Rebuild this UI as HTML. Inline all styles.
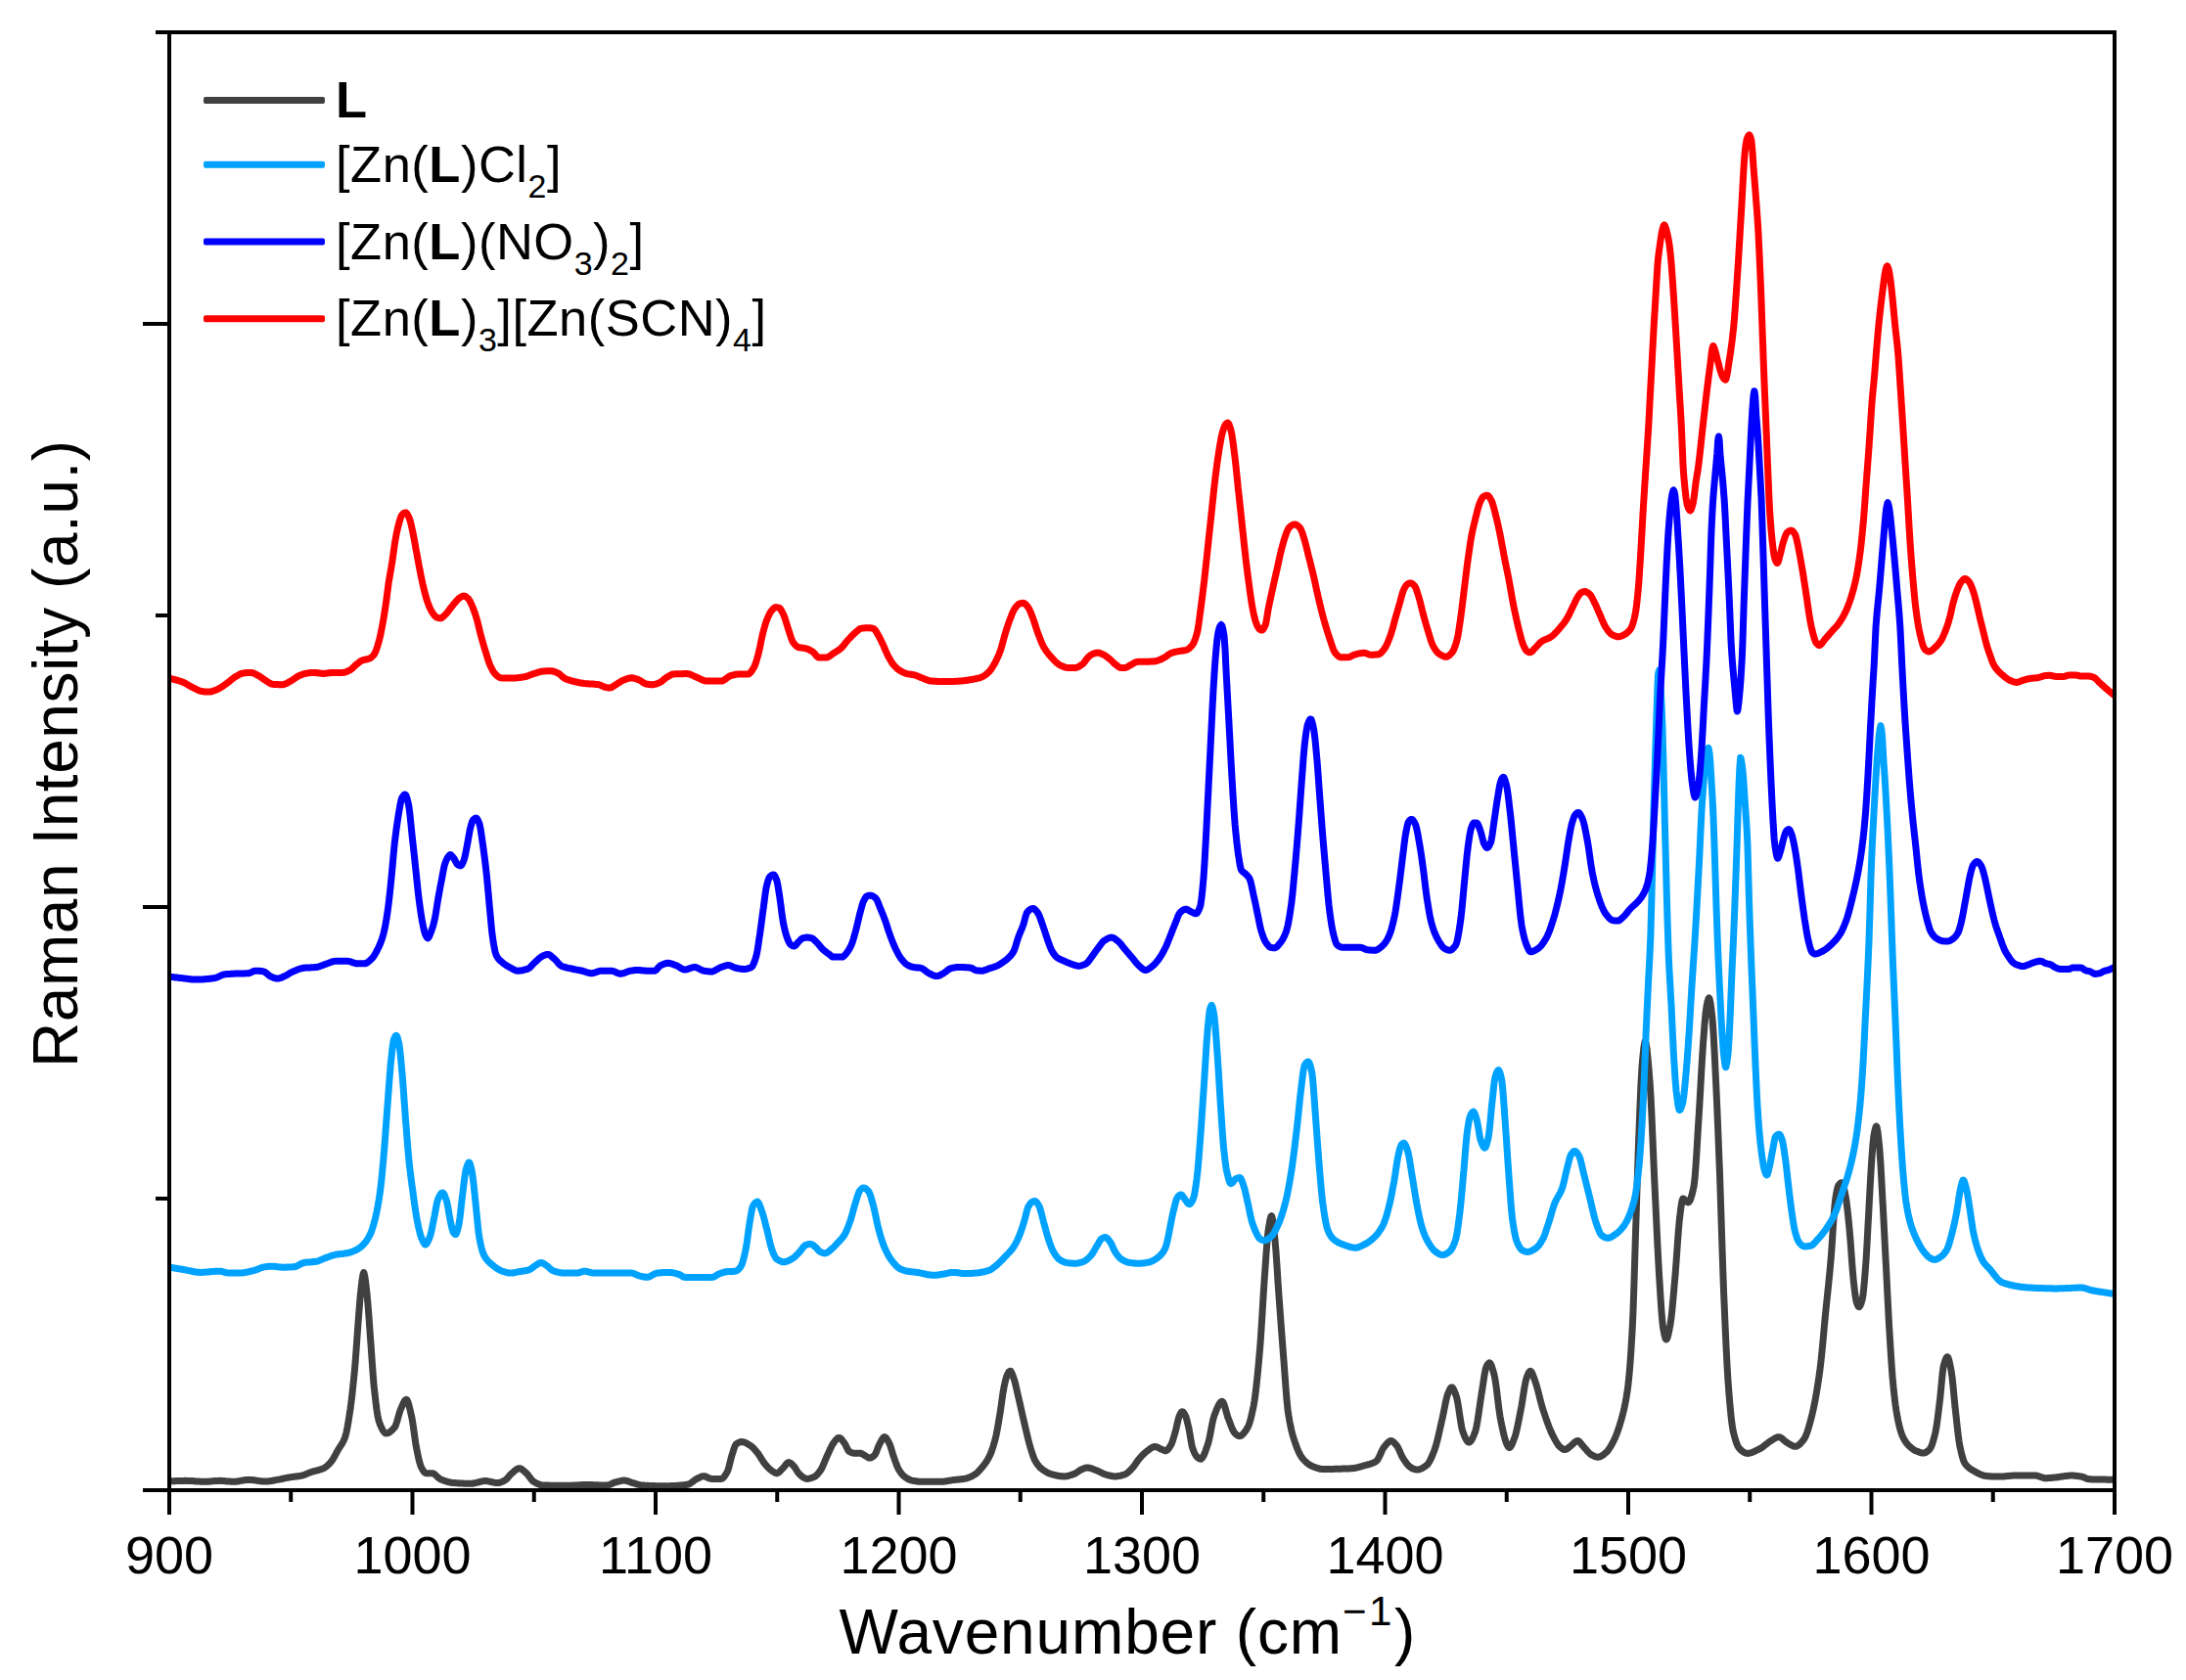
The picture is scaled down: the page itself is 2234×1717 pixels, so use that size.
<!DOCTYPE html>
<html><head><meta charset="utf-8"><title>Raman spectra</title>
<style>html,body{margin:0;padding:0;background:#fff}svg{display:block}</style></head>
<body>
<svg width="2234" height="1717" viewBox="0 0 2234 1717">
<rect width="2234" height="1717" fill="#fff"/>
<defs><clipPath id="pc"><rect x="173.0" y="33.0" width="1988.0" height="1490.0"/></clipPath></defs>
<g clip-path="url(#pc)" fill="none" stroke-linejoin="round" stroke-linecap="butt">
<path d="M173.0,1513.9 174.0,1513.9 174.8,1513.8 175.0,1513.8 176.0,1513.8 177.0,1513.7 178.0,1513.7 179.0,1513.7 180.0,1513.6 181.0,1513.6 182.0,1513.5 183.0,1513.5 184.0,1513.5 185.0,1513.4 186.0,1513.4 187.0,1513.4 188.0,1513.4 189.0,1513.3 189.6,1513.3 190.0,1513.3 191.0,1513.4 192.0,1513.4 193.0,1513.4 194.0,1513.5 195.0,1513.5 196.0,1513.6 197.0,1513.6 198.0,1513.7 199.0,1513.8 200.0,1513.9 201.0,1513.9 202.0,1514.0 203.0,1514.1 204.0,1514.1 205.0,1514.2 206.0,1514.3 207.0,1514.3 208.0,1514.3 209.0,1514.3 209.4,1514.3 210.0,1514.3 211.0,1514.3 212.0,1514.2 213.0,1514.2 214.0,1514.1 215.0,1514.0 216.0,1513.9 217.0,1513.8 218.0,1513.7 219.0,1513.6 220.0,1513.5 221.0,1513.5 222.0,1513.4 223.0,1513.4 224.0,1513.3 224.2,1513.3 225.0,1513.3 226.0,1513.4 227.0,1513.4 228.0,1513.5 229.0,1513.6 230.0,1513.7 231.0,1513.8 232.0,1513.9 233.0,1514.0 234.0,1514.1 235.0,1514.1 236.0,1514.2 237.0,1514.3 238.0,1514.3 239.0,1514.3 239.1,1514.3 240.0,1514.3 241.0,1514.2 242.0,1514.1 243.0,1514.0 244.0,1513.8 245.0,1513.6 246.0,1513.4 247.0,1513.2 248.0,1513.0 249.0,1512.9 250.0,1512.7 251.0,1512.5 252.0,1512.4 253.0,1512.4 253.9,1512.3 254.0,1512.4 255.0,1512.4 256.0,1512.4 257.0,1512.5 258.0,1512.6 259.0,1512.7 260.0,1512.8 261.0,1513.0 262.0,1513.1 263.0,1513.3 264.0,1513.4 265.0,1513.6 266.0,1513.7 267.0,1513.8 268.0,1513.9 269.0,1514.0 270.0,1514.1 271.0,1514.1 271.2,1514.1 272.0,1514.1 273.0,1514.0 274.0,1513.9 275.0,1513.8 276.0,1513.7 277.0,1513.5 278.0,1513.4 279.0,1513.2 280.0,1513.0 281.0,1512.8 282.0,1512.6 283.0,1512.4 283.5,1512.3 284.0,1512.3 285.0,1512.1 286.0,1511.9 287.0,1511.7 288.0,1511.5 289.0,1511.3 290.0,1511.0 291.0,1510.8 292.0,1510.6 293.0,1510.4 294.0,1510.2 295.0,1510.0 295.9,1509.9 296.0,1509.9 297.0,1509.7 298.0,1509.6 299.0,1509.4 300.0,1509.3 301.0,1509.2 302.0,1509.1 303.0,1509.0 304.0,1508.8 305.0,1508.7 306.0,1508.6 307.0,1508.4 308.0,1508.2 308.2,1508.2 309.0,1508.0 310.0,1507.7 311.0,1507.3 312.0,1506.9 313.0,1506.5 314.0,1506.1 315.0,1505.7 316.0,1505.2 317.0,1504.8 318.0,1504.5 318.1,1504.5 319.0,1504.2 320.0,1503.9 321.0,1503.6 322.0,1503.3 323.0,1503.1 324.0,1502.9 325.0,1502.6 326.0,1502.3 327.0,1502.0 328.0,1501.7 329.0,1501.3 330.0,1500.9 330.4,1500.7 331.0,1500.5 332.0,1499.9 333.0,1499.2 334.0,1498.4 335.0,1497.5 336.0,1496.5 337.0,1495.5 337.9,1494.6 338.0,1494.4 339.0,1493.1 340.0,1491.7 341.0,1490.0 342.0,1488.2 343.0,1486.4 344.0,1484.5 345.0,1482.7 345.3,1482.2 346.0,1481.0 347.0,1479.4 348.0,1477.9 349.0,1476.4 350.0,1474.7 351.0,1472.7 352.0,1470.5 352.7,1468.6 353.0,1467.7 354.0,1463.8 355.0,1458.9 356.0,1453.1 357.0,1446.8 357.6,1442.7 358.0,1440.2 359.0,1432.6 360.0,1424.0 361.0,1414.5 362.0,1404.3 362.6,1398.2 363.0,1393.3 364.0,1380.2 365.0,1366.1 366.0,1352.3 366.3,1348.8 367.0,1339.3 368.0,1326.7 368.8,1319.2 369.0,1317.1 370.0,1308.6 371.0,1302.3 371.7,1300.6 372.0,1300.9 373.0,1305.4 374.0,1313.4 374.9,1321.6 375.0,1322.3 376.0,1333.0 377.0,1346.1 378.0,1360.1 378.6,1368.6 379.0,1373.5 380.0,1388.0 381.0,1402.3 382.0,1414.7 382.3,1418.0 383.0,1424.2 384.0,1432.9 385.0,1440.8 386.0,1447.2 387.0,1451.7 387.3,1452.6 388.0,1454.6 389.0,1457.1 390.0,1459.4 391.0,1461.4 392.0,1463.0 393.0,1464.1 394.0,1464.8 394.7,1464.9 395.0,1464.9 396.0,1464.7 397.0,1464.4 398.0,1463.8 399.0,1463.1 400.0,1462.3 401.0,1461.3 402.0,1460.3 403.0,1459.1 403.3,1458.8 404.0,1457.7 405.0,1455.1 406.0,1451.8 407.0,1448.1 408.0,1444.6 409.0,1441.5 409.5,1440.2 410.0,1439.1 411.0,1436.8 412.0,1434.5 413.0,1432.5 414.0,1431.0 415.0,1430.4 415.2,1430.3 416.0,1430.9 417.0,1433.1 418.0,1436.4 419.0,1440.5 420.0,1444.9 420.6,1447.6 421.0,1449.4 422.0,1455.5 423.0,1462.6 424.0,1470.0 425.0,1476.7 425.6,1479.7 426.0,1481.9 427.0,1486.8 428.0,1491.4 429.0,1495.3 430.0,1498.4 430.5,1499.5 431.0,1500.5 432.0,1502.3 433.0,1503.8 434.0,1505.0 435.0,1505.6 435.4,1505.7 436.0,1505.7 437.0,1505.7 438.0,1505.7 439.0,1505.7 440.0,1505.7 441.0,1505.7 441.6,1505.7 442.0,1505.7 443.0,1506.0 444.0,1506.6 445.0,1507.4 446.0,1508.4 447.0,1509.4 448.0,1510.3 449.0,1511.1 450.0,1511.7 450.3,1511.9 451.0,1512.2 452.0,1512.5 453.0,1512.9 454.0,1513.3 455.0,1513.6 456.0,1514.0 457.0,1514.3 458.0,1514.5 459.0,1514.8 460.0,1515.0 461.0,1515.2 462.0,1515.4 463.0,1515.5 463.9,1515.6 464.0,1515.6 465.0,1515.6 466.0,1515.7 467.0,1515.8 468.0,1515.8 469.0,1515.9 470.0,1516.0 471.0,1516.0 472.0,1516.1 473.0,1516.1 474.0,1516.2 475.0,1516.2 476.0,1516.2 477.0,1516.3 478.0,1516.3 479.0,1516.3 480.0,1516.3 481.0,1516.3 481.1,1516.3 482.0,1516.3 483.0,1516.2 484.0,1516.0 485.0,1515.8 486.0,1515.6 487.0,1515.4 488.0,1515.1 489.0,1514.8 490.0,1514.6 491.0,1514.3 492.0,1514.1 493.0,1513.9 494.0,1513.7 495.0,1513.6 496.0,1513.6 496.0,1513.6 497.0,1513.6 498.0,1513.7 499.0,1513.9 500.0,1514.1 501.0,1514.3 502.0,1514.5 503.0,1514.8 504.0,1515.0 505.0,1515.2 506.0,1515.4 507.0,1515.5 508.0,1515.6 508.3,1515.6 509.0,1515.5 510.0,1515.4 511.0,1515.1 512.0,1514.8 513.0,1514.4 514.0,1513.9 515.0,1513.5 515.7,1513.1 516.0,1512.9 517.0,1512.2 518.0,1511.3 519.0,1510.2 520.0,1509.0 521.0,1507.8 522.0,1506.7 523.0,1505.8 523.1,1505.7 524.0,1505.0 525.0,1504.1 526.0,1503.2 527.0,1502.3 528.0,1501.6 529.0,1501.1 530.0,1500.8 530.5,1500.7 531.0,1500.8 532.0,1501.0 533.0,1501.5 534.0,1502.2 535.0,1503.0 536.0,1503.9 537.0,1504.8 538.0,1505.7 538.0,1505.7 539.0,1506.7 540.0,1508.0 541.0,1509.3 542.0,1510.7 543.0,1512.0 544.0,1513.2 545.0,1514.1 545.4,1514.3 546.0,1514.7 547.0,1515.2 548.0,1515.8 549.0,1516.3 550.0,1516.7 551.0,1517.1 552.0,1517.5 553.0,1517.7 554.0,1517.9 555.0,1518.0 555.3,1518.0 556.0,1518.0 557.0,1518.1 558.0,1518.1 559.0,1518.1 560.0,1518.1 561.0,1518.1 562.0,1518.2 563.0,1518.2 564.0,1518.2 565.0,1518.2 566.0,1518.2 567.0,1518.2 568.0,1518.2 569.0,1518.2 570.0,1518.2 571.0,1518.3 572.0,1518.3 573.0,1518.3 574.0,1518.3 575.0,1518.3 576.0,1518.3 577.0,1518.3 578.0,1518.3 579.0,1518.3 580.0,1518.3 580.0,1518.3 581.0,1518.3 582.0,1518.3 583.0,1518.2 584.0,1518.2 585.0,1518.2 586.0,1518.1 587.0,1518.1 588.0,1518.0 589.0,1518.0 590.0,1517.9 591.0,1517.8 592.0,1517.8 593.0,1517.7 594.0,1517.7 595.0,1517.6 596.0,1517.6 597.0,1517.6 598.0,1517.6 599.0,1517.5 599.7,1517.5 600.0,1517.5 601.0,1517.5 602.0,1517.6 603.0,1517.6 604.0,1517.6 605.0,1517.6 606.0,1517.7 607.0,1517.7 608.0,1517.7 609.0,1517.8 610.0,1517.8 611.0,1517.8 612.0,1517.9 613.0,1517.9 614.0,1517.9 615.0,1518.0 616.0,1518.0 617.0,1518.0 618.0,1518.0 619.0,1518.0 619.5,1518.0 620.0,1518.0 621.0,1517.9 622.0,1517.6 623.0,1517.3 624.0,1516.9 625.0,1516.5 626.0,1516.0 627.0,1515.6 628.0,1515.2 629.0,1514.9 629.4,1514.8 630.0,1514.7 631.0,1514.4 632.0,1514.1 633.0,1513.9 634.0,1513.6 635.0,1513.4 636.0,1513.2 637.0,1513.1 638.0,1513.1 638.0,1513.1 639.0,1513.2 640.0,1513.3 641.0,1513.6 642.0,1513.9 643.0,1514.3 644.0,1514.7 645.0,1515.0 646.0,1515.4 646.7,1515.6 647.0,1515.7 648.0,1515.9 649.0,1516.2 650.0,1516.6 651.0,1516.9 652.0,1517.2 653.0,1517.4 654.0,1517.7 655.0,1517.9 656.0,1518.0 656.5,1518.0 657.0,1518.1 658.0,1518.1 659.0,1518.2 660.0,1518.2 661.0,1518.3 662.0,1518.3 663.0,1518.4 664.0,1518.4 665.0,1518.5 666.0,1518.5 667.0,1518.6 668.0,1518.6 669.0,1518.6 670.0,1518.7 671.0,1518.7 672.0,1518.7 673.0,1518.7 674.0,1518.7 675.0,1518.7 676.0,1518.8 677.0,1518.8 678.0,1518.8 678.8,1518.8 679.0,1518.8 680.0,1518.8 681.0,1518.8 682.0,1518.7 683.0,1518.7 684.0,1518.7 685.0,1518.7 686.0,1518.6 687.0,1518.6 688.0,1518.5 689.0,1518.5 690.0,1518.4 691.0,1518.4 692.0,1518.3 693.0,1518.2 694.0,1518.2 695.0,1518.1 696.0,1518.0 697.0,1517.9 698.0,1517.8 699.0,1517.7 700.0,1517.6 701.0,1517.5 702.0,1517.3 702.4,1517.3 703.0,1517.2 704.0,1516.8 705.0,1516.3 706.0,1515.7 707.0,1515.0 708.0,1514.2 709.0,1513.4 710.0,1512.7 711.0,1512.0 712.0,1511.5 712.2,1511.4 713.0,1511.0 714.0,1510.5 715.0,1509.9 716.0,1509.5 717.0,1509.1 718.0,1508.8 719.0,1508.7 719.1,1508.7 720.0,1508.7 721.0,1509.0 722.0,1509.5 723.0,1510.0 724.0,1510.5 725.0,1510.9 726.0,1511.2 727.0,1511.4 727.1,1511.4 728.0,1511.4 729.0,1511.4 730.0,1511.4 731.0,1511.4 732.0,1511.4 733.0,1511.4 734.0,1511.4 735.0,1511.4 736.0,1511.4 736.9,1511.4 737.0,1511.4 738.0,1511.1 739.0,1510.4 740.0,1509.3 741.0,1507.9 742.0,1506.3 743.0,1504.6 743.1,1504.5 744.0,1502.3 745.0,1498.9 746.0,1494.9 747.0,1490.8 748.0,1487.3 748.0,1487.2 749.0,1484.1 750.0,1480.9 751.0,1478.1 752.0,1476.3 752.2,1476.0 753.0,1475.5 754.0,1474.8 755.0,1474.3 756.0,1473.9 757.0,1473.6 757.9,1473.6 758.0,1473.6 759.0,1473.7 760.0,1473.9 761.0,1474.2 762.0,1474.6 763.0,1475.1 764.0,1475.7 765.0,1476.3 766.0,1476.9 766.6,1477.3 767.0,1477.5 768.0,1478.3 769.0,1479.2 770.0,1480.1 771.0,1481.2 772.0,1482.3 773.0,1483.5 774.0,1484.7 774.0,1484.7 775.0,1486.0 776.0,1487.5 777.0,1489.1 778.0,1490.7 779.0,1492.4 780.0,1493.9 781.0,1495.3 781.4,1495.8 782.0,1496.5 783.0,1497.7 784.0,1498.8 785.0,1499.9 786.0,1500.9 787.0,1501.8 788.0,1502.6 788.8,1503.2 789.0,1503.3 790.0,1504.0 791.0,1504.7 792.0,1505.2 793.0,1505.6 793.8,1505.7 794.0,1505.7 795.0,1505.3 796.0,1504.7 797.0,1503.7 798.0,1502.7 799.0,1501.6 799.9,1500.7 800.0,1500.7 801.0,1499.6 802.0,1498.3 803.0,1497.0 804.0,1495.8 805.0,1495.0 806.0,1494.6 806.1,1494.6 807.0,1494.8 808.0,1495.3 809.0,1496.2 810.0,1497.2 811.0,1498.2 811.0,1498.3 812.0,1499.4 813.0,1500.8 814.0,1502.5 815.0,1504.1 816.0,1505.6 817.0,1506.7 817.2,1506.9 818.0,1507.6 819.0,1508.4 820.0,1509.2 821.0,1510.0 822.0,1510.6 823.0,1511.0 824.0,1511.3 824.6,1511.4 825.0,1511.4 826.0,1511.3 827.0,1511.1 828.0,1510.9 829.0,1510.6 830.0,1510.2 831.0,1509.8 832.0,1509.4 832.0,1509.4 833.0,1508.9 834.0,1508.1 835.0,1507.2 836.0,1506.0 837.0,1504.8 838.0,1503.5 838.2,1503.2 839.0,1502.0 840.0,1500.2 841.0,1498.0 842.0,1495.7 843.0,1493.2 844.0,1490.8 845.0,1488.5 845.6,1487.2 846.0,1486.4 847.0,1484.2 848.0,1481.9 849.0,1479.8 850.0,1477.7 851.0,1476.0 851.8,1474.8 852.0,1474.6 853.0,1473.2 854.0,1471.9 855.0,1470.8 856.0,1469.9 857.0,1469.4 857.5,1469.4 858.0,1469.4 859.0,1470.0 860.0,1471.0 861.0,1472.2 862.0,1473.6 862.9,1474.8 863.0,1474.9 864.0,1476.6 865.0,1478.7 866.0,1480.8 867.0,1482.6 867.9,1483.5 868.0,1483.5 869.0,1484.1 870.0,1484.5 871.0,1484.9 872.0,1485.1 872.8,1485.2 873.0,1485.2 874.0,1485.2 875.0,1485.2 876.0,1485.2 877.0,1485.2 878.0,1485.2 879.0,1485.2 879.0,1485.2 880.0,1485.3 881.0,1485.8 882.0,1486.4 883.0,1487.0 884.0,1487.7 885.0,1488.3 885.2,1488.4 886.0,1488.9 887.0,1489.5 888.0,1490.0 888.9,1490.1 889.0,1490.1 890.0,1489.9 891.0,1489.4 892.0,1488.7 893.0,1487.9 893.8,1487.2 894.0,1486.9 895.0,1485.2 896.0,1482.8 897.0,1480.1 898.0,1477.6 898.8,1476.0 899.0,1475.6 900.0,1473.7 901.0,1471.8 902.0,1470.2 903.0,1469.0 903.9,1468.6 904.0,1468.6 905.0,1469.1 906.0,1470.2 907.0,1471.8 908.0,1473.6 908.6,1474.8 909.0,1475.5 910.0,1478.1 911.0,1481.3 912.0,1484.7 913.0,1488.0 913.6,1489.6 914.0,1490.8 915.0,1493.6 916.0,1496.4 917.0,1498.9 918.0,1501.1 918.5,1502.0 919.0,1502.8 920.0,1504.3 921.0,1505.7 922.0,1506.9 923.0,1508.0 924.0,1508.9 924.7,1509.4 925.0,1509.6 926.0,1510.3 927.0,1510.9 928.0,1511.5 929.0,1512.0 930.0,1512.5 931.0,1512.8 932.0,1513.1 932.1,1513.1 933.0,1513.3 934.0,1513.5 935.0,1513.6 936.0,1513.8 937.0,1514.0 938.0,1514.1 939.0,1514.2 940.0,1514.3 941.0,1514.3 942.0,1514.3 942.0,1514.3 943.0,1514.3 944.0,1514.3 945.0,1514.3 946.0,1514.3 947.0,1514.3 948.0,1514.3 949.0,1514.3 950.0,1514.3 951.0,1514.3 952.0,1514.3 953.0,1514.3 954.0,1514.3 955.0,1514.3 956.0,1514.3 957.0,1514.3 958.0,1514.3 959.0,1514.3 960.0,1514.3 961.0,1514.3 961.7,1514.3 962.0,1514.3 963.0,1514.3 964.0,1514.2 965.0,1514.1 966.0,1514.0 967.0,1513.8 968.0,1513.6 969.0,1513.5 970.0,1513.3 971.0,1513.1 972.0,1512.9 973.0,1512.8 974.0,1512.6 974.1,1512.6 975.0,1512.5 976.0,1512.4 977.0,1512.3 978.0,1512.2 979.0,1512.1 980.0,1512.0 981.0,1511.9 982.0,1511.8 983.0,1511.7 984.0,1511.5 985.0,1511.4 986.0,1511.2 986.4,1511.1 987.0,1511.0 988.0,1510.8 989.0,1510.5 990.0,1510.1 991.0,1509.7 992.0,1509.3 993.0,1508.8 994.0,1508.3 995.0,1507.7 996.0,1507.1 996.3,1506.9 997.0,1506.5 998.0,1505.7 999.0,1504.8 1000.0,1503.8 1001.0,1502.7 1002.0,1501.6 1003.0,1500.4 1003.7,1499.5 1004.0,1499.2 1005.0,1498.0 1006.0,1496.7 1007.0,1495.3 1008.0,1493.9 1009.0,1492.3 1010.0,1490.6 1011.0,1488.7 1011.1,1488.4 1012.0,1486.6 1013.0,1484.1 1014.0,1481.3 1015.0,1478.2 1016.0,1474.8 1017.0,1471.1 1017.3,1469.9 1018.0,1467.0 1019.0,1462.0 1020.0,1456.4 1021.0,1450.4 1022.0,1444.3 1022.3,1442.7 1023.0,1437.8 1024.0,1430.6 1025.0,1423.5 1026.0,1418.0 1026.0,1417.8 1027.0,1413.2 1028.0,1409.1 1029.0,1405.9 1029.7,1404.4 1030.0,1403.8 1031.0,1402.2 1032.0,1401.3 1032.4,1401.2 1033.0,1401.5 1034.0,1403.2 1035.0,1405.8 1035.8,1408.1 1036.0,1408.5 1037.0,1411.7 1038.0,1415.7 1039.0,1420.0 1040.0,1424.5 1040.8,1427.9 1041.0,1428.8 1042.0,1433.1 1043.0,1437.5 1044.0,1442.0 1045.0,1446.5 1046.0,1450.9 1047.0,1455.0 1047.0,1455.2 1048.0,1459.4 1049.0,1463.7 1050.0,1467.9 1051.0,1472.0 1052.0,1475.8 1053.0,1479.3 1053.1,1479.7 1054.0,1482.5 1055.0,1485.7 1056.0,1488.6 1057.0,1491.2 1058.0,1493.2 1058.1,1493.3 1059.0,1494.8 1060.0,1496.3 1061.0,1497.6 1062.0,1498.8 1063.0,1499.9 1064.0,1500.8 1065.0,1501.6 1065.5,1502.0 1066.0,1502.3 1067.0,1503.0 1068.0,1503.7 1069.0,1504.2 1070.0,1504.8 1071.0,1505.3 1072.0,1505.8 1073.0,1506.2 1074.0,1506.5 1075.0,1506.8 1075.4,1506.9 1076.0,1507.1 1077.0,1507.3 1078.0,1507.5 1079.0,1507.8 1080.0,1508.0 1081.0,1508.2 1082.0,1508.4 1083.0,1508.5 1084.0,1508.7 1085.0,1508.8 1086.0,1508.8 1087.0,1508.9 1087.7,1508.9 1088.0,1508.9 1089.0,1508.8 1090.0,1508.7 1091.0,1508.5 1092.0,1508.3 1093.0,1508.0 1094.0,1507.7 1095.0,1507.4 1096.0,1507.0 1097.0,1506.6 1097.6,1506.4 1098.0,1506.3 1099.0,1505.8 1100.0,1505.2 1101.0,1504.5 1102.0,1503.8 1103.0,1503.1 1104.0,1502.5 1105.0,1502.0 1105.0,1502.0 1106.0,1501.6 1107.0,1501.1 1108.0,1500.7 1109.0,1500.4 1110.0,1500.1 1111.0,1500.0 1111.2,1500.0 1112.0,1500.0 1113.0,1500.2 1114.0,1500.4 1115.0,1500.7 1116.0,1501.0 1117.0,1501.4 1118.0,1501.8 1119.0,1502.2 1119.8,1502.5 1120.0,1502.5 1121.0,1502.9 1122.0,1503.4 1123.0,1503.9 1124.0,1504.4 1125.0,1504.9 1126.0,1505.4 1127.0,1505.9 1128.0,1506.3 1129.0,1506.7 1129.7,1506.9 1130.0,1507.0 1131.0,1507.3 1132.0,1507.6 1133.0,1507.8 1134.0,1508.1 1135.0,1508.3 1136.0,1508.5 1137.0,1508.7 1138.0,1508.8 1139.0,1508.9 1139.6,1508.9 1140.0,1508.9 1141.0,1508.8 1142.0,1508.7 1143.0,1508.6 1144.0,1508.4 1145.0,1508.2 1146.0,1508.0 1147.0,1507.7 1148.0,1507.4 1149.0,1507.1 1149.5,1506.9 1150.0,1506.7 1151.0,1506.2 1152.0,1505.5 1153.0,1504.6 1154.0,1503.7 1155.0,1502.7 1156.0,1501.7 1156.9,1500.7 1157.0,1500.6 1158.0,1499.5 1159.0,1498.2 1160.0,1496.8 1161.0,1495.3 1162.0,1493.9 1163.0,1492.5 1164.0,1491.2 1164.3,1490.9 1165.0,1490.1 1166.0,1488.9 1167.0,1487.8 1168.0,1486.8 1169.0,1485.8 1170.0,1484.9 1171.0,1484.0 1171.7,1483.5 1172.0,1483.2 1173.0,1482.5 1174.0,1481.7 1175.0,1480.9 1176.0,1480.2 1177.0,1479.6 1178.0,1479.1 1179.0,1478.7 1180.0,1478.5 1180.4,1478.5 1181.0,1478.6 1182.0,1478.8 1183.0,1479.2 1184.0,1479.7 1185.0,1480.3 1186.0,1480.8 1186.5,1481.0 1187.0,1481.2 1188.0,1481.6 1189.0,1482.1 1190.0,1482.5 1191.0,1482.7 1191.5,1482.7 1192.0,1482.6 1193.0,1482.0 1194.0,1480.9 1195.0,1479.5 1196.0,1477.9 1196.4,1477.3 1197.0,1476.2 1198.0,1473.7 1199.0,1470.6 1200.0,1467.2 1201.0,1463.7 1201.4,1462.5 1202.0,1460.0 1203.0,1455.5 1204.0,1451.1 1205.0,1447.8 1205.1,1447.6 1206.0,1445.5 1207.0,1443.5 1208.0,1442.7 1208.0,1442.7 1209.0,1443.1 1210.0,1444.3 1211.0,1446.0 1211.2,1446.4 1212.0,1448.1 1213.0,1451.6 1214.0,1455.8 1215.0,1460.0 1215.0,1460.2 1216.0,1465.6 1217.0,1471.7 1218.0,1477.2 1218.7,1479.7 1219.0,1480.7 1220.0,1483.3 1221.0,1485.6 1222.0,1487.4 1223.0,1488.7 1223.5,1489.2 1224.0,1489.6 1225.0,1490.4 1226.0,1490.9 1227.0,1491.2 1227.1,1491.2 1228.0,1490.8 1229.0,1489.6 1230.0,1487.8 1231.0,1485.5 1232.0,1482.9 1233.0,1480.0 1234.0,1477.1 1234.5,1475.7 1235.0,1474.0 1236.0,1469.7 1237.0,1464.7 1238.0,1459.3 1239.0,1454.2 1240.0,1449.7 1240.9,1446.8 1241.0,1446.5 1242.0,1443.9 1243.0,1441.3 1244.0,1438.9 1245.0,1436.8 1246.0,1434.9 1247.0,1433.5 1248.0,1432.6 1248.9,1432.3 1249.0,1432.3 1250.0,1433.3 1251.0,1435.5 1252.0,1438.7 1253.0,1442.3 1254.0,1445.9 1255.0,1449.1 1255.4,1450.0 1256.0,1451.6 1257.0,1454.3 1258.0,1457.0 1259.0,1459.5 1260.0,1461.7 1261.0,1463.5 1261.8,1464.5 1262.0,1464.7 1263.0,1465.7 1264.0,1466.5 1265.0,1467.2 1266.0,1467.6 1266.6,1467.7 1267.0,1467.7 1268.0,1467.4 1269.0,1466.8 1270.0,1465.9 1271.0,1464.8 1272.0,1463.6 1273.0,1462.2 1274.0,1460.7 1274.6,1459.7 1275.0,1459.0 1276.0,1456.9 1277.0,1454.1 1278.0,1450.7 1279.0,1446.7 1280.0,1442.3 1281.0,1437.5 1281.1,1437.2 1282.0,1431.8 1283.0,1424.5 1284.0,1416.0 1285.0,1406.5 1286.0,1396.1 1287.0,1385.0 1287.5,1379.3 1288.0,1373.1 1289.0,1358.5 1290.0,1342.2 1291.0,1325.5 1292.0,1309.9 1292.3,1305.4 1293.0,1295.7 1294.0,1281.3 1295.0,1268.2 1296.0,1258.4 1296.2,1257.2 1297.0,1251.8 1298.0,1246.3 1299.0,1243.0 1299.4,1242.7 1300.0,1243.8 1301.0,1249.4 1302.0,1258.0 1302.9,1266.8 1303.0,1267.5 1304.0,1279.2 1305.0,1294.1 1306.0,1309.8 1306.8,1321.4 1307.0,1324.3 1308.0,1338.0 1309.0,1351.6 1310.0,1364.9 1311.0,1377.9 1311.6,1385.7 1312.0,1390.8 1313.0,1404.4 1314.0,1418.0 1315.0,1430.4 1316.0,1440.3 1316.4,1443.6 1317.0,1447.3 1318.0,1453.1 1319.0,1458.1 1320.0,1462.5 1321.0,1466.4 1322.0,1469.8 1322.9,1472.5 1323.0,1472.9 1324.0,1475.8 1325.0,1478.5 1326.0,1481.1 1327.0,1483.4 1328.0,1485.5 1329.0,1487.4 1330.0,1489.0 1330.9,1490.2 1331.0,1490.3 1332.0,1491.5 1333.0,1492.6 1334.0,1493.6 1335.0,1494.5 1336.0,1495.4 1337.0,1496.2 1338.0,1496.9 1339.0,1497.5 1340.0,1498.0 1340.5,1498.2 1341.0,1498.4 1342.0,1498.9 1343.0,1499.3 1344.0,1499.7 1345.0,1500.0 1346.0,1500.4 1347.0,1500.7 1348.0,1501.0 1349.0,1501.2 1350.0,1501.3 1351.0,1501.4 1351.8,1501.5 1352.0,1501.4 1353.0,1501.4 1354.0,1501.4 1355.0,1501.4 1356.0,1501.4 1357.0,1501.4 1358.0,1501.4 1359.0,1501.4 1360.0,1501.4 1361.0,1501.4 1362.0,1501.4 1363.0,1501.4 1364.0,1501.3 1365.0,1501.3 1366.0,1501.3 1367.0,1501.3 1368.0,1501.2 1369.0,1501.2 1370.0,1501.2 1371.0,1501.2 1372.0,1501.1 1373.0,1501.1 1374.0,1501.1 1375.0,1501.0 1376.0,1501.0 1377.0,1501.0 1378.0,1500.9 1379.0,1500.9 1380.0,1500.8 1380.7,1500.8 1381.0,1500.8 1382.0,1500.7 1383.0,1500.6 1384.0,1500.5 1385.0,1500.3 1386.0,1500.1 1387.0,1499.9 1388.0,1499.6 1389.0,1499.3 1390.0,1499.1 1391.0,1498.8 1392.0,1498.5 1393.0,1498.2 1394.0,1497.9 1395.0,1497.6 1395.2,1497.6 1396.0,1497.4 1397.0,1497.1 1398.0,1496.8 1399.0,1496.6 1400.0,1496.3 1401.0,1495.9 1402.0,1495.6 1403.0,1495.2 1404.0,1494.8 1405.0,1494.3 1406.0,1493.7 1406.4,1493.4 1407.0,1492.9 1408.0,1491.6 1409.0,1489.8 1410.0,1487.8 1411.0,1485.5 1412.0,1483.3 1413.0,1481.3 1414.0,1479.6 1414.5,1479.0 1415.0,1478.3 1416.0,1477.0 1417.0,1475.8 1418.0,1474.7 1419.0,1473.7 1420.0,1473.0 1421.0,1472.6 1421.5,1472.5 1422.0,1472.6 1423.0,1473.0 1424.0,1473.7 1425.0,1474.7 1426.0,1475.8 1427.0,1477.0 1427.3,1477.3 1428.0,1478.3 1429.0,1480.1 1430.0,1482.2 1431.0,1484.6 1432.0,1486.8 1433.0,1488.9 1433.8,1490.2 1434.0,1490.6 1435.0,1492.1 1436.0,1493.6 1437.0,1495.0 1438.0,1496.3 1439.0,1497.5 1440.0,1498.5 1441.0,1499.3 1441.8,1499.8 1442.0,1500.0 1443.0,1500.5 1444.0,1501.0 1445.0,1501.4 1446.0,1501.7 1447.0,1502.0 1448.0,1502.1 1448.2,1502.1 1449.0,1502.1 1450.0,1501.9 1451.0,1501.6 1452.0,1501.2 1453.0,1500.8 1454.0,1500.2 1455.0,1499.6 1456.0,1499.0 1457.0,1498.2 1457.9,1497.6 1458.0,1497.5 1459.0,1496.5 1460.0,1495.1 1461.0,1493.4 1462.0,1491.5 1463.0,1489.3 1464.0,1487.0 1465.0,1484.5 1465.9,1482.2 1466.0,1481.9 1467.0,1478.9 1468.0,1475.5 1469.0,1471.6 1470.0,1467.4 1471.0,1463.0 1472.0,1458.5 1473.0,1454.1 1473.9,1450.0 1474.0,1449.8 1475.0,1445.1 1476.0,1440.1 1477.0,1435.0 1478.0,1430.3 1479.0,1426.4 1479.7,1424.3 1480.0,1423.6 1481.0,1421.3 1482.0,1419.3 1483.0,1418.1 1483.6,1417.9 1484.0,1418.0 1485.0,1419.0 1486.0,1421.0 1487.0,1423.5 1488.0,1426.4 1488.4,1427.5 1489.0,1429.7 1490.0,1434.8 1491.0,1441.2 1492.0,1448.0 1493.0,1454.5 1494.0,1459.9 1494.8,1462.9 1495.0,1463.3 1496.0,1465.9 1497.0,1468.4 1498.0,1470.5 1499.0,1472.3 1500.0,1473.5 1501.0,1474.1 1501.3,1474.1 1502.0,1473.9 1503.0,1473.0 1504.0,1471.5 1505.0,1469.6 1506.0,1467.3 1507.0,1464.7 1507.7,1462.9 1508.0,1461.9 1509.0,1457.7 1510.0,1452.0 1511.0,1445.4 1512.0,1438.4 1513.0,1431.4 1514.0,1425.0 1514.1,1424.3 1515.0,1418.7 1516.0,1411.9 1517.0,1405.4 1518.0,1400.1 1518.9,1397.0 1519.0,1396.9 1520.0,1394.9 1521.0,1393.5 1522.0,1392.8 1522.2,1392.8 1523.0,1393.4 1524.0,1395.2 1525.0,1398.0 1526.0,1401.4 1527.0,1405.0 1527.0,1405.1 1528.0,1410.0 1529.0,1416.8 1530.0,1424.8 1531.0,1433.1 1532.0,1441.0 1533.0,1447.8 1533.4,1450.0 1534.0,1453.1 1535.0,1458.0 1536.0,1462.6 1537.0,1466.9 1538.0,1470.6 1539.0,1473.7 1539.8,1475.7 1540.0,1476.1 1541.0,1478.1 1542.0,1479.4 1542.4,1479.6 1543.0,1479.4 1544.0,1478.3 1545.0,1476.5 1546.0,1474.2 1547.0,1471.6 1547.9,1469.3 1548.0,1469.0 1549.0,1465.7 1550.0,1461.7 1551.0,1457.1 1552.0,1452.2 1553.0,1447.0 1554.0,1441.9 1554.3,1440.4 1555.0,1436.6 1556.0,1430.4 1557.0,1423.9 1558.0,1417.6 1559.0,1412.3 1560.0,1408.5 1560.1,1408.2 1561.0,1405.8 1562.0,1403.4 1563.0,1401.8 1563.9,1401.2 1564.0,1401.2 1565.0,1402.0 1566.0,1403.9 1567.0,1406.5 1568.0,1409.3 1568.8,1411.4 1569.0,1412.1 1570.0,1415.1 1571.0,1418.6 1572.0,1422.4 1573.0,1426.3 1574.0,1430.3 1575.0,1434.2 1576.0,1437.8 1576.8,1440.4 1577.0,1441.0 1578.0,1444.0 1579.0,1447.0 1580.0,1450.0 1581.0,1452.8 1582.0,1455.6 1583.0,1458.2 1584.0,1460.7 1585.0,1463.0 1586.0,1465.2 1586.4,1466.1 1587.0,1467.2 1588.0,1469.2 1589.0,1471.1 1590.0,1472.9 1591.0,1474.6 1592.0,1476.2 1593.0,1477.5 1594.0,1478.5 1594.5,1479.0 1595.0,1479.4 1596.0,1480.1 1597.0,1480.8 1598.0,1481.3 1599.0,1481.5 1599.3,1481.5 1600.0,1481.4 1601.0,1481.0 1602.0,1480.4 1603.0,1479.6 1604.0,1478.7 1605.0,1477.9 1605.7,1477.3 1606.0,1477.1 1607.0,1476.3 1608.0,1475.3 1609.0,1474.3 1610.0,1473.5 1611.0,1472.8 1612.0,1472.5 1612.2,1472.5 1613.0,1472.7 1614.0,1473.4 1615.0,1474.5 1616.0,1475.7 1617.0,1477.1 1618.0,1478.3 1618.6,1479.0 1619.0,1479.4 1620.0,1480.5 1621.0,1481.6 1622.0,1482.8 1623.0,1483.9 1624.0,1484.9 1625.0,1485.9 1626.0,1486.6 1626.6,1487.0 1627.0,1487.2 1628.0,1487.7 1629.0,1488.2 1630.0,1488.6 1631.0,1488.9 1632.0,1489.1 1633.0,1489.2 1633.0,1489.2 1634.0,1489.1 1635.0,1488.9 1636.0,1488.4 1637.0,1487.8 1638.0,1487.2 1639.0,1486.4 1640.0,1485.6 1641.0,1484.8 1641.1,1484.7 1642.0,1483.9 1643.0,1482.8 1644.0,1481.4 1645.0,1479.9 1646.0,1478.3 1647.0,1476.5 1648.0,1474.7 1649.0,1472.8 1649.1,1472.5 1650.0,1470.7 1651.0,1468.5 1652.0,1466.0 1653.0,1463.3 1654.0,1460.5 1655.0,1457.4 1656.0,1454.1 1657.0,1450.6 1657.2,1450.0 1658.0,1446.9 1659.0,1443.0 1660.0,1438.7 1661.0,1433.9 1662.0,1428.4 1663.0,1422.1 1663.6,1417.9 1664.0,1414.6 1665.0,1404.9 1666.0,1392.7 1667.0,1378.1 1668.0,1361.2 1668.4,1353.6 1669.0,1340.2 1670.0,1310.3 1671.0,1276.8 1671.6,1257.2 1672.0,1245.6 1673.0,1214.3 1674.0,1183.8 1674.8,1160.7 1675.0,1156.6 1676.0,1130.8 1677.0,1107.5 1678.0,1090.6 1678.0,1090.0 1679.0,1079.1 1680.0,1069.6 1681.0,1064.6 1681.3,1064.3 1682.0,1065.7 1683.0,1071.7 1684.0,1081.1 1685.0,1092.6 1686.0,1105.0 1686.1,1106.1 1687.0,1120.2 1688.0,1140.9 1689.0,1164.5 1690.0,1188.7 1690.9,1208.9 1691.0,1210.8 1692.0,1232.0 1693.0,1253.3 1694.0,1274.0 1695.0,1293.0 1695.7,1305.4 1696.0,1309.7 1697.0,1325.9 1698.0,1340.7 1699.0,1352.3 1699.6,1356.8 1700.0,1359.2 1701.0,1364.4 1702.0,1368.0 1702.8,1369.0 1703.0,1369.0 1704.0,1367.2 1705.0,1363.6 1706.0,1358.8 1707.0,1353.6 1707.0,1353.5 1708.0,1346.5 1709.0,1337.1 1710.0,1326.2 1711.0,1314.5 1711.8,1305.4 1712.0,1303.1 1713.0,1290.1 1714.0,1275.9 1715.0,1262.0 1716.0,1250.0 1716.6,1244.3 1717.0,1241.2 1718.0,1233.1 1719.0,1227.0 1719.8,1225.0 1720.0,1225.0 1721.0,1225.5 1722.0,1226.3 1723.0,1227.4 1724.0,1228.3 1725.0,1228.8 1725.3,1228.9 1726.0,1228.6 1727.0,1227.1 1728.0,1224.6 1729.0,1221.3 1730.0,1217.2 1731.0,1212.6 1731.1,1212.2 1732.0,1205.0 1733.0,1192.3 1734.0,1176.4 1735.0,1159.4 1735.9,1144.7 1736.0,1143.3 1737.0,1126.7 1738.0,1108.9 1739.0,1091.1 1740.0,1074.7 1740.7,1064.3 1741.0,1060.7 1742.0,1047.6 1743.0,1036.2 1744.0,1028.9 1744.0,1028.7 1745.0,1023.7 1746.0,1020.4 1746.5,1019.9 1747.0,1020.5 1748.0,1025.0 1749.0,1032.4 1749.7,1038.6 1750.0,1041.2 1751.0,1054.9 1752.0,1073.3 1753.0,1093.9 1753.6,1106.1 1754.0,1114.6 1755.0,1137.2 1756.0,1161.7 1757.0,1187.4 1757.5,1199.3 1758.0,1214.5 1759.0,1244.8 1760.0,1276.0 1761.0,1305.2 1761.6,1321.4 1762.0,1330.2 1763.0,1353.6 1764.0,1375.5 1765.0,1395.2 1766.0,1411.7 1766.5,1417.9 1767.0,1424.7 1768.0,1436.4 1769.0,1446.8 1770.0,1455.3 1771.0,1461.6 1771.3,1462.9 1772.0,1465.9 1773.0,1469.7 1774.0,1473.0 1775.0,1475.8 1776.0,1478.0 1777.0,1479.7 1777.7,1480.5 1778.0,1480.9 1779.0,1481.8 1780.0,1482.7 1781.0,1483.5 1782.0,1484.2 1783.0,1484.7 1784.0,1485.1 1785.0,1485.3 1785.7,1485.4 1786.0,1485.4 1787.0,1485.3 1788.0,1485.1 1789.0,1484.9 1790.0,1484.6 1791.0,1484.2 1792.0,1483.8 1793.0,1483.4 1794.0,1482.9 1795.0,1482.4 1796.0,1481.9 1797.0,1481.4 1798.0,1480.8 1798.6,1480.5 1799.0,1480.3 1800.0,1479.8 1801.0,1479.1 1802.0,1478.4 1803.0,1477.6 1804.0,1476.8 1805.0,1476.0 1806.0,1475.2 1807.0,1474.4 1808.0,1473.7 1809.0,1473.0 1809.8,1472.5 1810.0,1472.4 1811.0,1471.8 1812.0,1471.2 1813.0,1470.5 1814.0,1469.9 1815.0,1469.4 1816.0,1469.0 1817.0,1468.7 1817.9,1468.7 1818.0,1468.7 1819.0,1468.9 1820.0,1469.4 1821.0,1470.1 1822.0,1470.9 1823.0,1471.8 1824.0,1472.7 1825.0,1473.5 1825.9,1474.1 1826.0,1474.2 1827.0,1474.8 1828.0,1475.4 1829.0,1476.1 1830.0,1476.7 1831.0,1477.2 1832.0,1477.7 1833.0,1478.1 1834.0,1478.3 1834.6,1478.3 1835.0,1478.3 1836.0,1478.1 1837.0,1477.6 1838.0,1477.0 1839.0,1476.2 1840.0,1475.2 1841.0,1474.1 1842.0,1472.9 1843.0,1471.7 1843.6,1470.9 1844.0,1470.3 1845.0,1468.5 1846.0,1466.1 1847.0,1463.4 1848.0,1460.2 1849.0,1456.7 1850.0,1453.1 1851.0,1449.3 1851.6,1446.8 1852.0,1445.3 1853.0,1441.0 1854.0,1436.3 1855.0,1431.2 1856.0,1425.7 1857.0,1419.7 1858.0,1413.4 1859.0,1406.6 1859.7,1401.8 1860.0,1399.3 1861.0,1390.8 1862.0,1381.1 1863.0,1370.6 1864.0,1359.7 1865.0,1348.8 1866.0,1338.4 1866.1,1337.5 1867.0,1328.6 1868.0,1319.1 1869.0,1309.4 1870.0,1299.3 1870.9,1289.3 1871.0,1288.4 1872.0,1274.9 1873.0,1259.6 1874.0,1244.5 1875.0,1232.0 1875.7,1225.7 1876.0,1223.9 1877.0,1217.9 1878.0,1213.4 1878.9,1211.3 1879.0,1211.1 1880.0,1210.0 1881.0,1209.1 1882.0,1208.7 1882.3,1208.7 1883.0,1209.5 1884.0,1212.5 1885.0,1217.0 1886.0,1222.1 1886.2,1223.1 1887.0,1228.1 1888.0,1236.2 1889.0,1245.7 1890.0,1255.9 1890.1,1257.2 1891.0,1267.5 1892.0,1281.3 1893.0,1295.0 1894.0,1306.4 1894.0,1306.9 1895.0,1315.8 1896.0,1324.1 1897.0,1329.8 1897.2,1330.5 1898.0,1332.9 1899.0,1335.1 1899.8,1335.7 1900.0,1335.7 1901.0,1334.5 1902.0,1332.1 1903.0,1328.7 1903.2,1327.9 1904.0,1323.3 1905.0,1313.8 1906.0,1301.8 1906.6,1293.8 1907.0,1288.6 1908.0,1271.8 1909.0,1252.9 1909.8,1238.8 1910.0,1234.5 1911.0,1215.5 1912.0,1197.5 1912.4,1191.7 1913.0,1182.6 1914.0,1169.2 1915.0,1160.2 1916.0,1155.2 1917.0,1151.8 1917.6,1151.1 1918.0,1151.6 1919.0,1156.8 1920.0,1165.7 1920.8,1173.3 1921.0,1175.9 1922.0,1190.5 1923.0,1208.8 1924.0,1227.9 1924.2,1231.0 1925.0,1246.4 1926.0,1265.7 1927.0,1285.4 1927.6,1296.4 1928.0,1304.8 1929.0,1324.7 1930.0,1344.0 1930.7,1356.7 1931.0,1361.4 1932.0,1377.8 1933.0,1393.3 1934.0,1406.9 1934.7,1414.3 1935.0,1417.9 1936.0,1427.2 1937.0,1435.4 1938.0,1442.3 1938.6,1445.7 1939.0,1448.0 1940.0,1453.0 1941.0,1457.4 1942.0,1461.3 1943.0,1464.6 1943.8,1466.7 1944.0,1467.1 1945.0,1469.3 1946.0,1471.2 1947.0,1472.9 1948.0,1474.3 1949.0,1475.6 1950.0,1476.8 1950.4,1477.2 1951.0,1477.8 1952.0,1478.7 1953.0,1479.6 1954.0,1480.4 1955.0,1481.1 1956.0,1481.8 1957.0,1482.4 1958.0,1482.8 1958.2,1482.9 1959.0,1483.2 1960.0,1483.6 1961.0,1484.0 1962.0,1484.4 1963.0,1484.7 1964.0,1484.9 1965.0,1485.0 1965.5,1485.0 1966.0,1485.0 1967.0,1484.8 1968.0,1484.4 1969.0,1483.8 1970.0,1483.0 1971.0,1482.2 1972.0,1481.2 1972.1,1481.1 1973.0,1479.8 1974.0,1477.7 1975.0,1474.8 1976.0,1471.5 1977.0,1467.6 1977.9,1464.1 1978.0,1463.4 1979.0,1458.0 1980.0,1451.0 1981.0,1443.1 1982.0,1434.8 1982.6,1430.0 1983.0,1426.2 1984.0,1415.5 1985.0,1404.8 1986.0,1397.1 1986.2,1396.0 1987.0,1393.2 1988.0,1390.1 1989.0,1387.8 1990.0,1386.8 1990.2,1386.8 1991.0,1387.7 1992.0,1390.9 1993.0,1395.5 1994.0,1400.7 1994.1,1401.2 1995.0,1407.4 1996.0,1417.0 1997.0,1427.6 1998.0,1437.8 1998.3,1440.5 1999.0,1446.9 2000.0,1456.3 2001.0,1465.2 2002.0,1472.8 2002.7,1477.2 2003.0,1478.4 2004.0,1483.1 2005.0,1487.3 2006.0,1490.8 2007.0,1493.6 2008.0,1495.5 2008.0,1495.5 2009.0,1496.9 2010.0,1498.1 2011.0,1499.1 2012.0,1500.0 2013.0,1500.8 2014.0,1501.5 2015.0,1502.1 2016.0,1502.7 2017.0,1503.3 2017.2,1503.3 2018.0,1503.8 2019.0,1504.4 2020.0,1504.9 2021.0,1505.5 2022.0,1506.0 2023.0,1506.4 2024.0,1506.9 2025.0,1507.3 2026.0,1507.7 2027.0,1508.0 2028.0,1508.2 2029.0,1508.4 2030.0,1508.6 2030.2,1508.6 2031.0,1508.6 2032.0,1508.7 2033.0,1508.8 2034.0,1508.8 2035.0,1508.9 2036.0,1508.9 2037.0,1509.0 2038.0,1509.0 2039.0,1509.0 2040.0,1509.1 2041.0,1509.1 2042.0,1509.1 2043.0,1509.1 2043.3,1509.1 2044.0,1509.1 2045.0,1509.1 2046.0,1509.0 2047.0,1509.0 2048.0,1508.9 2049.0,1508.8 2050.0,1508.7 2051.0,1508.6 2052.0,1508.5 2053.0,1508.4 2054.0,1508.3 2055.0,1508.2 2056.0,1508.2 2057.0,1508.1 2058.0,1508.1 2059.0,1508.1 2059.1,1508.1 2060.0,1508.1 2061.0,1508.1 2062.0,1508.1 2063.0,1508.1 2064.0,1508.1 2065.0,1508.1 2066.0,1508.1 2067.0,1508.1 2068.0,1508.1 2069.0,1508.1 2070.0,1508.1 2071.0,1508.1 2072.0,1508.1 2073.0,1508.1 2074.0,1508.1 2075.0,1508.1 2076.0,1508.1 2077.0,1508.1 2078.0,1508.1 2079.0,1508.1 2080.0,1508.1 2080.0,1508.1 2081.0,1508.1 2082.0,1508.3 2083.0,1508.6 2084.0,1508.9 2085.0,1509.3 2086.0,1509.7 2087.0,1510.0 2088.0,1510.3 2089.0,1510.5 2090.0,1510.7 2090.5,1510.7 2091.0,1510.7 2092.0,1510.7 2093.0,1510.6 2094.0,1510.6 2095.0,1510.5 2096.0,1510.4 2097.0,1510.3 2098.0,1510.2 2099.0,1510.1 2100.0,1510.0 2101.0,1509.9 2101.0,1509.9 2102.0,1509.8 2103.0,1509.7 2104.0,1509.5 2105.0,1509.4 2106.0,1509.2 2107.0,1509.1 2108.0,1508.9 2109.0,1508.8 2110.0,1508.6 2111.0,1508.5 2112.0,1508.4 2113.0,1508.3 2114.0,1508.2 2115.0,1508.1 2116.0,1508.1 2116.7,1508.1 2117.0,1508.1 2118.0,1508.1 2119.0,1508.1 2120.0,1508.2 2121.0,1508.3 2122.0,1508.4 2123.0,1508.5 2124.0,1508.6 2125.0,1508.8 2126.0,1508.9 2127.0,1509.1 2127.2,1509.1 2128.0,1509.3 2129.0,1509.6 2130.0,1510.0 2131.0,1510.5 2132.0,1510.9 2133.0,1511.3 2134.0,1511.6 2135.0,1511.7 2135.0,1511.7 2136.0,1511.8 2137.0,1511.8 2138.0,1511.9 2139.0,1511.9 2140.0,1511.9 2141.0,1512.0 2142.0,1512.0 2143.0,1512.0 2144.0,1512.0 2145.0,1512.0 2146.0,1512.1 2147.0,1512.1 2148.0,1512.1 2149.0,1512.1 2150.0,1512.1 2151.0,1512.1 2152.0,1512.1 2153.0,1512.2 2154.0,1512.2 2155.0,1512.2 2156.0,1512.2 2157.0,1512.2 2158.0,1512.2 2158.6,1512.3 2159.0,1512.3 2160.0,1512.3 2161.0,1512.3" stroke="#404040" stroke-width="7.0"/>
<path d="M173.0,1295.1 174.0,1295.3 174.8,1295.4 175.0,1295.5 176.0,1295.6 177.0,1295.8 178.0,1296.0 179.0,1296.1 180.0,1296.3 181.0,1296.5 182.0,1296.6 183.0,1296.8 184.0,1297.0 185.0,1297.1 186.0,1297.3 187.0,1297.5 188.0,1297.6 189.0,1297.8 189.6,1297.9 190.0,1298.0 191.0,1298.2 192.0,1298.4 193.0,1298.6 194.0,1298.8 195.0,1299.0 196.0,1299.2 197.0,1299.5 198.0,1299.7 199.0,1299.8 200.0,1300.0 201.0,1300.2 202.0,1300.3 203.0,1300.3 204.0,1300.4 204.5,1300.4 205.0,1300.4 206.0,1300.4 207.0,1300.3 208.0,1300.3 209.0,1300.2 210.0,1300.2 211.0,1300.1 212.0,1300.0 213.0,1299.9 214.0,1299.8 215.0,1299.7 216.0,1299.6 217.0,1299.5 218.0,1299.4 219.0,1299.4 220.0,1299.3 221.0,1299.2 222.0,1299.2 223.0,1299.2 224.0,1299.2 224.2,1299.2 225.0,1299.2 226.0,1299.3 227.0,1299.5 228.0,1299.8 229.0,1300.1 230.0,1300.4 231.0,1300.7 232.0,1300.9 233.0,1301.1 234.0,1301.1 234.1,1301.1 235.0,1301.1 236.0,1301.1 237.0,1301.1 238.0,1301.1 239.0,1301.1 240.0,1301.1 241.0,1301.1 242.0,1301.1 243.0,1301.1 244.0,1301.1 244.0,1301.1 245.0,1301.1 246.0,1301.1 247.0,1301.0 248.0,1300.9 249.0,1300.7 250.0,1300.6 251.0,1300.4 252.0,1300.2 253.0,1300.0 254.0,1299.8 255.0,1299.5 256.0,1299.3 257.0,1299.1 258.0,1298.8 258.8,1298.7 259.0,1298.6 260.0,1298.4 261.0,1298.0 262.0,1297.7 263.0,1297.3 264.0,1296.9 265.0,1296.5 266.0,1296.1 267.0,1295.7 268.0,1295.4 269.0,1295.1 270.0,1294.9 271.0,1294.7 271.2,1294.7 272.0,1294.6 273.0,1294.5 274.0,1294.4 275.0,1294.3 276.0,1294.3 277.0,1294.2 278.0,1294.2 278.6,1294.2 279.0,1294.2 280.0,1294.3 281.0,1294.4 282.0,1294.5 283.0,1294.6 284.0,1294.8 285.0,1294.9 286.0,1295.0 287.0,1295.1 288.0,1295.2 288.5,1295.2 289.0,1295.2 290.0,1295.2 291.0,1295.2 292.0,1295.2 293.0,1295.1 294.0,1295.1 295.0,1295.1 296.0,1295.0 297.0,1295.0 298.0,1294.9 299.0,1294.8 300.0,1294.8 300.8,1294.7 301.0,1294.7 302.0,1294.5 303.0,1294.1 304.0,1293.7 305.0,1293.1 306.0,1292.6 307.0,1292.0 308.0,1291.5 309.0,1291.0 310.0,1290.7 310.7,1290.5 311.0,1290.5 312.0,1290.3 313.0,1290.2 314.0,1290.1 315.0,1290.0 316.0,1289.9 317.0,1289.9 318.0,1289.8 319.0,1289.7 320.0,1289.6 321.0,1289.5 322.0,1289.4 323.0,1289.3 323.0,1289.3 324.0,1289.1 325.0,1288.8 326.0,1288.5 327.0,1288.1 328.0,1287.6 329.0,1287.2 330.0,1286.7 331.0,1286.3 332.0,1285.9 332.9,1285.6 333.0,1285.5 334.0,1285.2 335.0,1284.8 336.0,1284.4 337.0,1284.1 338.0,1283.7 339.0,1283.4 340.0,1283.1 341.0,1282.8 342.0,1282.5 342.8,1282.3 343.0,1282.3 344.0,1282.1 345.0,1282.0 346.0,1281.8 347.0,1281.7 348.0,1281.6 349.0,1281.5 350.0,1281.4 351.0,1281.3 352.0,1281.1 353.0,1281.0 354.0,1280.8 355.0,1280.7 355.2,1280.6 356.0,1280.4 357.0,1280.2 358.0,1279.9 359.0,1279.6 360.0,1279.2 361.0,1278.8 362.0,1278.4 363.0,1277.9 364.0,1277.5 365.0,1276.9 365.0,1276.9 366.0,1276.4 367.0,1275.7 368.0,1275.0 369.0,1274.2 370.0,1273.2 371.0,1272.3 372.0,1271.2 372.4,1270.7 373.0,1270.1 374.0,1268.9 375.0,1267.4 376.0,1265.9 377.0,1264.1 378.0,1262.2 378.6,1260.9 379.0,1260.0 380.0,1257.4 381.0,1254.3 382.0,1250.9 383.0,1247.1 383.6,1244.8 384.0,1243.0 385.0,1238.5 386.0,1233.4 387.0,1227.6 388.0,1221.2 388.5,1217.6 389.0,1213.8 390.0,1204.7 391.0,1194.2 392.0,1183.0 392.2,1180.6 393.0,1170.9 394.0,1157.5 395.0,1143.6 395.9,1131.2 396.0,1130.1 397.0,1116.6 398.0,1102.9 399.0,1090.6 399.6,1084.2 400.0,1080.6 401.0,1071.4 402.0,1064.3 402.6,1062.0 403.0,1061.0 404.0,1059.1 405.0,1058.3 405.1,1058.3 406.0,1059.7 407.0,1063.4 407.8,1066.9 408.0,1068.1 409.0,1075.8 410.0,1086.0 410.7,1094.1 411.0,1097.0 412.0,1109.7 413.0,1123.7 414.0,1137.6 414.4,1143.5 415.0,1150.5 416.0,1163.4 417.0,1175.6 418.0,1186.5 418.1,1188.0 419.0,1195.7 420.0,1203.8 421.0,1211.4 421.9,1217.6 422.0,1218.7 423.0,1226.0 424.0,1233.1 425.0,1239.8 426.0,1245.7 426.3,1247.3 427.0,1250.8 428.0,1255.5 429.0,1259.7 430.0,1263.2 430.5,1264.6 431.0,1265.8 432.0,1268.3 433.0,1270.3 434.0,1271.7 434.7,1272.0 435.0,1271.9 436.0,1271.1 437.0,1269.5 438.0,1267.3 439.0,1264.9 439.1,1264.6 440.0,1261.9 441.0,1257.7 442.0,1252.7 443.0,1247.7 443.6,1244.8 444.0,1242.9 445.0,1237.5 446.0,1232.1 447.0,1227.5 447.8,1225.0 448.0,1224.6 449.0,1222.6 450.0,1220.8 451.0,1219.5 452.0,1218.9 452.2,1218.9 453.0,1219.3 454.0,1220.9 455.0,1223.3 456.0,1226.2 456.4,1227.5 457.0,1229.6 458.0,1234.9 459.0,1241.1 460.0,1246.6 460.1,1247.3 461.0,1251.2 462.0,1255.7 463.0,1259.0 463.4,1259.6 464.0,1260.5 465.0,1261.4 465.6,1261.6 466.0,1261.4 467.0,1259.2 468.0,1255.5 468.8,1252.2 469.0,1251.2 470.0,1244.5 471.0,1235.7 472.0,1226.7 472.5,1222.6 473.0,1218.6 474.0,1210.0 475.0,1202.1 476.0,1196.2 476.2,1195.4 477.0,1192.7 478.0,1189.8 479.0,1188.2 479.4,1188.0 480.0,1188.5 481.0,1191.6 482.0,1196.1 482.4,1197.9 483.0,1201.5 484.0,1209.7 485.0,1219.5 486.0,1229.2 486.1,1230.0 487.0,1239.0 488.0,1249.5 489.0,1259.0 489.8,1264.6 490.0,1265.7 491.0,1270.7 492.0,1275.1 493.0,1278.7 494.0,1281.5 494.7,1283.1 495.0,1283.6 496.0,1285.2 497.0,1286.7 498.0,1288.0 499.0,1289.1 500.0,1290.1 501.0,1291.0 502.0,1291.8 503.0,1292.7 503.4,1293.0 504.0,1293.5 505.0,1294.3 506.0,1295.0 507.0,1295.8 508.0,1296.4 509.0,1297.1 510.0,1297.7 511.0,1298.2 512.0,1298.7 513.0,1299.1 513.3,1299.2 514.0,1299.4 515.0,1299.7 516.0,1300.0 517.0,1300.3 518.0,1300.6 519.0,1300.8 520.0,1301.0 521.0,1301.1 521.9,1301.1 522.0,1301.1 523.0,1301.1 524.0,1301.0 525.0,1300.8 526.0,1300.6 527.0,1300.4 528.0,1300.2 529.0,1299.9 530.0,1299.7 530.5,1299.6 531.0,1299.6 532.0,1299.4 533.0,1299.3 534.0,1299.1 535.0,1299.0 536.0,1298.8 537.0,1298.7 538.0,1298.5 539.0,1298.3 540.0,1298.0 540.4,1297.9 541.0,1297.7 542.0,1297.2 543.0,1296.6 544.0,1295.8 545.0,1295.0 546.0,1294.2 547.0,1293.5 547.9,1293.0 548.0,1292.9 549.0,1292.2 550.0,1291.6 551.0,1291.0 552.0,1290.6 552.8,1290.5 553.0,1290.5 554.0,1290.7 555.0,1291.1 556.0,1291.7 557.0,1292.4 558.0,1293.1 559.0,1293.7 559.0,1293.7 560.0,1294.5 561.0,1295.4 562.0,1296.4 563.0,1297.3 564.0,1298.1 565.0,1298.6 565.1,1298.7 566.0,1298.9 567.0,1299.3 568.0,1299.6 569.0,1299.9 570.0,1300.1 571.0,1300.4 572.0,1300.6 573.0,1300.7 574.0,1300.9 575.0,1301.0 576.0,1301.1 577.0,1301.1 577.5,1301.1 578.0,1301.1 579.0,1301.1 580.0,1301.1 581.0,1301.1 582.0,1301.1 583.0,1301.1 584.0,1301.1 585.0,1301.1 586.0,1301.1 587.0,1301.1 588.0,1301.1 589.0,1301.1 589.8,1301.1 590.0,1301.1 591.0,1301.0 592.0,1300.7 593.0,1300.4 594.0,1300.0 595.0,1299.6 596.0,1299.3 597.0,1299.2 597.2,1299.2 598.0,1299.2 599.0,1299.3 600.0,1299.5 601.0,1299.8 602.0,1300.1 603.0,1300.4 604.0,1300.7 605.0,1300.9 606.0,1301.1 607.0,1301.1 607.1,1301.1 608.0,1301.1 609.0,1301.1 610.0,1301.1 611.0,1301.1 612.0,1301.0 613.0,1301.0 614.0,1301.0 615.0,1301.0 616.0,1300.9 617.0,1300.9 618.0,1300.9 619.0,1300.9 619.5,1300.9 620.0,1300.9 621.0,1300.9 622.0,1300.9 623.0,1300.9 624.0,1300.9 625.0,1300.9 626.0,1300.9 627.0,1300.9 628.0,1300.9 629.0,1300.9 630.0,1300.9 631.0,1300.9 632.0,1300.9 633.0,1300.9 634.0,1300.9 635.0,1300.9 636.0,1300.9 637.0,1300.9 638.0,1300.9 639.0,1300.9 640.0,1300.9 641.0,1300.9 642.0,1300.9 643.0,1300.9 644.0,1300.9 644.2,1300.9 645.0,1300.9 646.0,1301.1 647.0,1301.4 648.0,1301.7 649.0,1302.2 650.0,1302.6 651.0,1303.0 652.0,1303.4 653.0,1303.8 654.0,1304.1 654.1,1304.1 655.0,1304.3 656.0,1304.5 657.0,1304.8 658.0,1305.0 659.0,1305.1 660.0,1305.3 661.0,1305.3 661.5,1305.3 662.0,1305.3 663.0,1305.1 664.0,1304.7 665.0,1304.2 666.0,1303.6 667.0,1303.0 668.0,1302.4 669.0,1301.9 670.0,1301.5 671.0,1301.2 671.4,1301.1 672.0,1301.1 673.0,1301.0 674.0,1300.9 675.0,1300.8 676.0,1300.7 677.0,1300.6 678.0,1300.6 679.0,1300.5 680.0,1300.5 681.0,1300.4 682.0,1300.4 683.0,1300.4 683.7,1300.4 684.0,1300.4 685.0,1300.4 686.0,1300.5 687.0,1300.7 688.0,1300.9 689.0,1301.1 690.0,1301.3 691.0,1301.6 692.0,1301.9 693.0,1302.2 693.6,1302.4 694.0,1302.5 695.0,1303.0 696.0,1303.6 697.0,1304.2 698.0,1304.8 699.0,1305.2 699.9,1305.3 700.0,1305.3 701.0,1305.4 702.0,1305.4 703.0,1305.4 704.0,1305.5 705.0,1305.5 706.0,1305.5 707.0,1305.5 708.0,1305.5 709.0,1305.5 710.0,1305.5 711.0,1305.6 712.0,1305.6 713.0,1305.6 714.0,1305.6 714.7,1305.6 715.0,1305.6 716.0,1305.6 717.0,1305.6 718.0,1305.6 719.0,1305.5 720.0,1305.5 721.0,1305.5 722.0,1305.5 723.0,1305.5 724.0,1305.5 725.0,1305.4 726.0,1305.4 727.0,1305.4 728.0,1305.3 728.3,1305.3 729.0,1305.2 730.0,1304.8 731.0,1304.2 732.0,1303.6 733.0,1302.9 734.0,1302.3 734.5,1302.1 735.0,1301.9 736.0,1301.5 737.0,1301.2 738.0,1300.8 739.0,1300.5 740.0,1300.2 741.0,1300.0 742.0,1299.8 743.0,1299.7 743.1,1299.6 744.0,1299.6 745.0,1299.5 746.0,1299.5 747.0,1299.4 748.0,1299.4 749.0,1299.4 750.0,1299.3 751.0,1299.2 751.8,1299.2 752.0,1299.1 753.0,1298.7 754.0,1298.0 755.0,1297.0 756.0,1295.9 757.0,1294.5 757.2,1294.2 758.0,1292.7 759.0,1289.9 760.0,1286.3 761.0,1282.1 762.0,1277.5 762.1,1276.9 763.0,1271.9 764.0,1264.7 765.0,1257.1 766.0,1250.3 766.1,1249.7 767.0,1244.2 768.0,1238.3 769.0,1233.8 769.5,1232.5 770.0,1231.7 771.0,1230.3 772.0,1229.2 773.0,1228.5 774.0,1228.2 774.0,1228.3 775.0,1229.0 776.0,1230.9 777.0,1233.4 778.0,1236.2 778.4,1237.4 779.0,1239.0 780.0,1242.2 781.0,1245.9 782.0,1249.8 783.0,1253.8 783.9,1257.2 784.0,1257.7 785.0,1261.8 786.0,1266.2 787.0,1270.6 788.0,1274.4 788.8,1276.9 789.0,1277.4 790.0,1280.0 791.0,1282.5 792.0,1284.5 793.0,1286.1 793.8,1286.8 794.0,1287.0 795.0,1287.6 796.0,1288.2 797.0,1288.7 798.0,1289.1 799.0,1289.5 800.0,1289.7 801.0,1289.8 801.2,1289.8 802.0,1289.7 803.0,1289.5 804.0,1289.2 805.0,1288.9 806.0,1288.4 807.0,1287.9 808.0,1287.3 809.0,1286.8 809.8,1286.3 810.0,1286.2 811.0,1285.5 812.0,1284.7 813.0,1283.8 814.0,1282.8 815.0,1281.7 816.0,1280.7 817.0,1279.6 817.2,1279.4 818.0,1278.5 819.0,1277.2 820.0,1275.8 821.0,1274.5 822.0,1273.4 823.0,1272.6 823.4,1272.5 824.0,1272.3 825.0,1272.0 826.0,1271.7 827.0,1271.6 828.0,1271.5 828.3,1271.5 829.0,1271.6 830.0,1272.0 831.0,1272.6 832.0,1273.4 833.0,1274.2 833.3,1274.5 834.0,1275.1 835.0,1276.2 836.0,1277.4 837.0,1278.5 838.0,1279.3 838.2,1279.4 839.0,1279.7 840.0,1280.2 841.0,1280.5 842.0,1280.8 843.0,1280.9 843.2,1280.9 844.0,1280.7 845.0,1280.3 846.0,1279.7 847.0,1278.9 848.0,1278.0 849.0,1277.2 849.3,1276.9 850.0,1276.4 851.0,1275.5 852.0,1274.6 853.0,1273.6 854.0,1272.5 855.0,1271.4 856.0,1270.3 856.8,1269.5 857.0,1269.2 858.0,1268.2 859.0,1267.1 860.0,1266.0 861.0,1264.8 862.0,1263.5 862.9,1262.1 863.0,1262.0 864.0,1260.2 865.0,1258.0 866.0,1255.7 867.0,1253.1 868.0,1250.4 869.0,1247.6 869.1,1247.3 870.0,1244.4 871.0,1240.9 872.0,1237.1 873.0,1233.5 874.0,1230.1 874.0,1230.0 875.0,1226.9 876.0,1223.6 877.0,1220.5 878.0,1218.0 879.0,1216.4 879.0,1216.4 880.0,1215.4 881.0,1214.6 882.0,1214.0 882.7,1213.9 883.0,1213.9 884.0,1214.3 885.0,1214.9 886.0,1215.8 887.0,1216.9 887.6,1217.6 888.0,1218.2 889.0,1220.3 890.0,1223.2 891.0,1226.7 892.0,1230.4 892.6,1232.5 893.0,1234.1 894.0,1238.5 895.0,1243.3 896.0,1248.1 897.0,1252.6 897.5,1254.7 898.0,1256.5 899.0,1260.2 900.0,1263.7 901.0,1266.9 902.0,1270.0 903.0,1272.7 903.7,1274.5 904.0,1275.2 905.0,1277.4 906.0,1279.5 907.0,1281.5 908.0,1283.3 909.0,1285.0 910.0,1286.5 911.0,1287.9 911.1,1288.0 912.0,1289.2 913.0,1290.4 914.0,1291.6 915.0,1292.8 916.0,1293.8 917.0,1294.8 918.0,1295.6 919.0,1296.3 919.7,1296.7 920.0,1296.8 921.0,1297.3 922.0,1297.7 923.0,1298.0 924.0,1298.4 925.0,1298.7 926.0,1298.9 927.0,1299.1 927.1,1299.2 928.0,1299.3 929.0,1299.5 930.0,1299.6 931.0,1299.7 932.0,1299.8 933.0,1299.9 934.0,1300.0 935.0,1300.1 936.0,1300.3 937.0,1300.4 937.0,1300.4 938.0,1300.5 939.0,1300.7 940.0,1300.9 941.0,1301.1 942.0,1301.3 943.0,1301.6 944.0,1301.8 945.0,1302.0 946.0,1302.2 947.0,1302.5 948.0,1302.7 949.0,1302.8 950.0,1303.0 951.0,1303.1 952.0,1303.2 953.0,1303.3 954.0,1303.3 954.3,1303.3 955.0,1303.3 956.0,1303.3 957.0,1303.2 958.0,1303.1 959.0,1303.0 960.0,1302.8 961.0,1302.6 962.0,1302.5 963.0,1302.3 964.0,1302.1 964.2,1302.1 965.0,1302.0 966.0,1301.8 967.0,1301.6 968.0,1301.3 969.0,1301.1 970.0,1300.9 971.0,1300.7 972.0,1300.5 973.0,1300.4 974.0,1300.4 974.1,1300.4 975.0,1300.4 976.0,1300.5 977.0,1300.6 978.0,1300.7 979.0,1300.8 980.0,1301.0 981.0,1301.1 982.0,1301.3 983.0,1301.4 984.0,1301.5 985.0,1301.6 986.0,1301.6 986.4,1301.6 987.0,1301.6 988.0,1301.6 989.0,1301.6 990.0,1301.5 991.0,1301.5 992.0,1301.4 993.0,1301.4 994.0,1301.3 995.0,1301.2 996.0,1301.1 997.0,1301.0 998.0,1301.0 998.8,1300.9 999.0,1300.9 1000.0,1300.8 1001.0,1300.6 1002.0,1300.5 1003.0,1300.3 1004.0,1300.1 1005.0,1299.9 1006.0,1299.7 1007.0,1299.5 1008.0,1299.2 1009.0,1298.9 1009.9,1298.7 1010.0,1298.6 1011.0,1298.2 1012.0,1297.8 1013.0,1297.2 1014.0,1296.5 1015.0,1295.8 1016.0,1295.0 1017.0,1294.2 1018.0,1293.4 1018.6,1293.0 1019.0,1292.6 1020.0,1291.7 1021.0,1290.8 1022.0,1289.8 1023.0,1288.8 1024.0,1287.8 1025.0,1286.7 1026.0,1285.6 1027.0,1284.5 1027.2,1284.3 1028.0,1283.5 1029.0,1282.5 1030.0,1281.4 1031.0,1280.4 1032.0,1279.3 1033.0,1278.2 1034.0,1277.0 1035.0,1275.7 1035.8,1274.5 1036.0,1274.2 1037.0,1272.6 1038.0,1270.8 1039.0,1268.9 1040.0,1266.8 1041.0,1264.5 1042.0,1262.2 1042.0,1262.1 1043.0,1259.6 1044.0,1256.7 1045.0,1253.7 1046.0,1250.5 1047.0,1247.3 1047.0,1247.2 1048.0,1243.3 1049.0,1239.1 1050.0,1235.4 1050.7,1233.7 1051.0,1233.1 1052.0,1231.4 1053.0,1230.0 1054.0,1229.0 1054.4,1228.8 1055.0,1228.4 1056.0,1227.9 1057.0,1227.6 1057.6,1227.5 1058.0,1227.6 1059.0,1228.3 1060.0,1229.5 1061.0,1231.1 1061.8,1232.5 1062.0,1232.8 1063.0,1235.5 1064.0,1239.0 1065.0,1243.0 1066.0,1247.0 1066.7,1249.7 1067.0,1250.7 1068.0,1254.3 1069.0,1258.0 1070.0,1261.6 1071.0,1265.0 1071.7,1267.0 1072.0,1268.0 1073.0,1270.9 1074.0,1273.6 1075.0,1276.1 1076.0,1278.3 1076.6,1279.4 1077.0,1280.1 1078.0,1281.7 1079.0,1283.2 1080.0,1284.5 1081.0,1285.7 1082.0,1286.7 1082.8,1287.3 1083.0,1287.4 1084.0,1288.1 1085.0,1288.6 1086.0,1289.1 1087.0,1289.6 1088.0,1290.0 1089.0,1290.3 1090.0,1290.5 1090.2,1290.5 1091.0,1290.6 1092.0,1290.8 1093.0,1290.9 1094.0,1291.0 1095.0,1291.1 1096.0,1291.2 1097.0,1291.2 1098.0,1291.2 1098.8,1291.2 1099.0,1291.2 1100.0,1291.2 1101.0,1291.1 1102.0,1290.9 1103.0,1290.7 1104.0,1290.4 1105.0,1290.1 1106.0,1289.8 1107.0,1289.4 1107.5,1289.3 1108.0,1289.1 1109.0,1288.5 1110.0,1287.8 1111.0,1287.0 1112.0,1286.1 1113.0,1285.1 1114.0,1284.1 1114.9,1283.1 1115.0,1283.0 1116.0,1281.7 1117.0,1280.2 1118.0,1278.5 1119.0,1276.7 1120.0,1275.0 1121.0,1273.3 1121.1,1273.2 1122.0,1271.7 1123.0,1269.9 1124.0,1268.1 1125.0,1266.7 1126.0,1265.8 1126.0,1265.8 1127.0,1265.3 1128.0,1264.9 1129.0,1264.6 1129.7,1264.6 1130.0,1264.6 1131.0,1265.1 1132.0,1266.0 1133.0,1267.2 1134.0,1268.6 1134.7,1269.5 1135.0,1270.0 1136.0,1271.8 1137.0,1274.0 1138.0,1276.3 1139.0,1278.4 1139.6,1279.4 1140.0,1280.0 1141.0,1281.5 1142.0,1282.9 1143.0,1284.1 1144.0,1285.3 1145.0,1286.2 1145.8,1286.8 1146.0,1286.9 1147.0,1287.6 1148.0,1288.1 1149.0,1288.7 1150.0,1289.2 1151.0,1289.6 1152.0,1289.9 1153.0,1290.2 1154.0,1290.4 1154.4,1290.5 1155.0,1290.6 1156.0,1290.7 1157.0,1290.8 1158.0,1290.9 1159.0,1291.0 1160.0,1291.1 1161.0,1291.2 1162.0,1291.2 1163.0,1291.2 1164.0,1291.2 1164.3,1291.2 1165.0,1291.2 1166.0,1291.2 1167.0,1291.1 1168.0,1291.0 1169.0,1290.9 1170.0,1290.8 1171.0,1290.6 1172.0,1290.4 1173.0,1290.2 1174.0,1290.0 1174.2,1290.0 1175.0,1289.8 1176.0,1289.5 1177.0,1289.1 1178.0,1288.6 1179.0,1288.1 1180.0,1287.5 1181.0,1286.8 1182.0,1286.2 1182.8,1285.6 1183.0,1285.4 1184.0,1284.7 1185.0,1283.8 1186.0,1282.8 1187.0,1281.7 1188.0,1280.5 1189.0,1279.0 1190.0,1277.4 1190.2,1276.9 1191.0,1275.2 1192.0,1272.1 1193.0,1268.1 1194.0,1263.4 1195.0,1258.4 1196.0,1253.1 1197.0,1247.9 1198.0,1243.0 1199.0,1238.5 1199.4,1236.9 1200.0,1234.4 1201.0,1230.2 1202.0,1226.6 1202.8,1224.6 1203.0,1224.3 1204.0,1222.9 1205.0,1221.8 1206.0,1221.1 1206.8,1220.9 1207.0,1220.9 1208.0,1221.6 1209.0,1222.9 1210.0,1224.4 1211.0,1225.8 1212.0,1227.1 1213.0,1228.6 1214.0,1229.9 1215.0,1230.6 1215.4,1230.7 1216.0,1230.6 1217.0,1229.7 1218.0,1228.1 1219.0,1226.1 1219.6,1224.6 1220.0,1223.5 1221.0,1219.0 1222.0,1212.6 1223.0,1205.1 1223.3,1202.3 1224.0,1196.4 1225.0,1185.1 1226.0,1172.1 1227.0,1158.7 1227.1,1157.9 1228.0,1144.9 1229.0,1130.2 1230.0,1115.0 1230.8,1103.5 1231.0,1099.8 1232.0,1083.4 1233.0,1067.1 1234.0,1054.1 1234.0,1053.8 1235.0,1042.8 1236.0,1034.2 1236.4,1031.9 1237.0,1029.8 1238.0,1027.5 1238.2,1027.4 1239.0,1028.9 1240.0,1033.3 1240.6,1036.8 1241.0,1039.2 1242.0,1049.3 1243.0,1062.3 1243.8,1073.9 1244.0,1075.9 1245.0,1090.9 1246.0,1107.4 1247.0,1123.5 1247.3,1128.2 1248.0,1138.6 1249.0,1153.6 1250.0,1167.0 1250.5,1172.7 1251.0,1177.3 1252.0,1186.2 1253.0,1193.5 1253.7,1197.4 1254.0,1198.5 1255.0,1202.7 1256.0,1206.4 1257.0,1208.9 1257.9,1209.7 1258.0,1209.7 1259.0,1209.2 1260.0,1208.1 1261.0,1206.7 1262.0,1205.5 1262.9,1204.8 1263.0,1204.7 1264.0,1204.3 1265.0,1203.9 1266.0,1203.7 1267.0,1203.6 1267.1,1203.6 1268.0,1204.3 1269.0,1206.3 1270.0,1209.2 1271.0,1212.1 1271.0,1212.2 1272.0,1215.4 1273.0,1219.5 1274.0,1224.0 1275.0,1228.5 1275.2,1229.5 1276.0,1233.1 1277.0,1238.2 1278.0,1243.0 1278.9,1246.8 1279.0,1247.0 1280.0,1250.4 1281.0,1253.3 1282.0,1256.0 1283.0,1258.3 1283.4,1259.2 1284.0,1260.4 1285.0,1262.5 1286.0,1264.2 1287.0,1265.6 1287.6,1266.1 1288.0,1266.3 1289.0,1266.9 1290.0,1267.4 1291.0,1267.7 1291.8,1267.8 1292.0,1267.8 1293.0,1267.6 1294.0,1267.3 1295.0,1266.8 1296.0,1266.2 1297.0,1265.4 1298.0,1264.7 1298.7,1264.1 1299.0,1263.8 1300.0,1262.8 1301.0,1261.4 1302.0,1259.9 1303.0,1258.1 1304.0,1256.1 1305.0,1254.1 1306.0,1252.0 1306.1,1251.7 1307.0,1249.7 1308.0,1247.3 1309.0,1244.6 1310.0,1241.6 1311.0,1238.5 1312.0,1235.1 1313.0,1231.5 1313.5,1229.5 1314.0,1227.6 1315.0,1223.3 1316.0,1218.4 1317.0,1213.2 1318.0,1207.6 1319.0,1201.7 1319.7,1197.4 1320.0,1195.4 1321.0,1188.5 1322.0,1181.0 1323.0,1173.0 1324.0,1164.7 1325.0,1156.2 1325.4,1152.9 1326.0,1147.3 1327.0,1137.6 1328.0,1127.6 1329.0,1118.2 1329.6,1113.4 1330.0,1110.0 1331.0,1101.7 1332.0,1094.2 1333.0,1089.4 1333.3,1088.7 1334.0,1087.5 1335.0,1086.2 1336.0,1085.3 1337.0,1085.0 1337.0,1085.0 1338.0,1086.1 1339.0,1088.9 1340.0,1092.9 1340.7,1096.1 1341.0,1097.9 1342.0,1107.7 1343.0,1121.1 1344.0,1135.3 1344.4,1140.6 1345.0,1148.4 1346.0,1162.2 1347.0,1175.9 1348.0,1188.8 1348.1,1190.0 1349.0,1200.7 1350.0,1212.3 1351.0,1222.7 1351.8,1229.5 1352.0,1230.9 1353.0,1238.0 1354.0,1244.4 1355.0,1250.0 1356.0,1254.3 1356.8,1256.7 1357.0,1257.3 1358.0,1259.6 1359.0,1261.5 1360.0,1263.2 1361.0,1264.6 1362.0,1265.7 1362.9,1266.6 1363.0,1266.6 1364.0,1267.4 1365.0,1268.2 1366.0,1268.8 1367.0,1269.4 1368.0,1270.0 1369.0,1270.5 1370.0,1270.9 1371.0,1271.3 1372.0,1271.7 1372.8,1272.0 1373.0,1272.1 1374.0,1272.4 1375.0,1272.8 1376.0,1273.2 1377.0,1273.5 1378.0,1273.8 1379.0,1274.2 1380.0,1274.4 1381.0,1274.7 1382.0,1274.9 1383.0,1275.1 1384.0,1275.2 1385.0,1275.2 1385.2,1275.2 1386.0,1275.2 1387.0,1275.0 1388.0,1274.8 1389.0,1274.4 1390.0,1274.0 1391.0,1273.6 1392.0,1273.1 1393.0,1272.6 1394.0,1272.0 1395.0,1271.5 1395.0,1271.5 1396.0,1271.0 1397.0,1270.4 1398.0,1269.8 1399.0,1269.1 1400.0,1268.4 1401.0,1267.6 1402.0,1266.8 1403.0,1265.9 1404.0,1265.0 1404.9,1264.1 1405.0,1264.0 1406.0,1263.0 1407.0,1261.9 1408.0,1260.7 1409.0,1259.4 1410.0,1257.9 1411.0,1256.4 1412.0,1254.7 1413.0,1252.9 1413.6,1251.7 1414.0,1250.8 1415.0,1248.3 1416.0,1245.4 1417.0,1242.2 1418.0,1238.6 1419.0,1234.9 1419.7,1232.0 1420.0,1230.9 1421.0,1226.5 1422.0,1221.7 1423.0,1216.4 1424.0,1211.0 1424.7,1207.3 1425.0,1205.4 1426.0,1199.1 1427.0,1192.3 1428.0,1185.9 1429.0,1180.7 1429.1,1180.1 1430.0,1176.4 1431.0,1172.7 1432.0,1170.3 1432.1,1170.2 1433.0,1169.2 1434.0,1168.4 1434.6,1168.2 1435.0,1168.4 1436.0,1169.6 1437.0,1171.8 1438.0,1174.4 1438.3,1175.2 1439.0,1177.7 1440.0,1182.6 1441.0,1188.5 1442.0,1194.9 1443.0,1201.1 1443.2,1202.3 1444.0,1207.0 1445.0,1213.2 1446.0,1219.5 1447.0,1225.6 1448.0,1231.2 1448.2,1232.0 1449.0,1236.3 1450.0,1241.3 1451.0,1246.1 1452.0,1250.3 1453.0,1253.9 1453.1,1254.2 1454.0,1257.0 1455.0,1259.8 1456.0,1262.3 1457.0,1264.6 1458.0,1266.7 1459.0,1268.6 1459.3,1269.0 1460.0,1270.3 1461.0,1271.9 1462.0,1273.5 1463.0,1274.9 1464.0,1276.2 1465.0,1277.4 1466.0,1278.4 1466.7,1278.9 1467.0,1279.1 1468.0,1279.9 1469.0,1280.6 1470.0,1281.2 1471.0,1281.8 1472.0,1282.2 1473.0,1282.5 1474.0,1282.6 1474.1,1282.6 1475.0,1282.5 1476.0,1282.3 1477.0,1281.9 1478.0,1281.4 1479.0,1280.8 1480.0,1280.1 1481.0,1279.3 1481.5,1278.9 1482.0,1278.5 1483.0,1277.3 1484.0,1275.7 1485.0,1273.7 1486.0,1271.3 1487.0,1268.6 1487.7,1266.6 1488.0,1265.4 1489.0,1260.5 1490.0,1254.0 1491.0,1246.4 1491.9,1239.4 1492.0,1238.4 1493.0,1229.0 1494.0,1218.2 1495.0,1206.8 1495.8,1197.4 1496.0,1195.5 1497.0,1183.1 1498.0,1170.6 1499.0,1160.2 1499.3,1157.9 1500.0,1152.8 1501.0,1146.6 1502.0,1142.0 1502.5,1140.6 1503.0,1139.5 1504.0,1137.6 1505.0,1136.4 1505.7,1136.1 1506.0,1136.2 1507.0,1137.7 1508.0,1140.6 1509.0,1144.0 1509.4,1145.5 1510.0,1148.0 1511.0,1153.9 1512.0,1160.2 1513.0,1164.9 1513.1,1165.3 1514.0,1167.7 1515.0,1170.2 1516.0,1172.1 1517.0,1173.1 1517.3,1173.2 1518.0,1172.7 1519.0,1170.5 1520.0,1167.1 1521.0,1162.9 1521.0,1162.8 1522.0,1156.3 1523.0,1146.3 1524.0,1135.4 1524.7,1128.2 1525.0,1125.7 1526.0,1115.8 1527.0,1106.6 1527.9,1101.0 1528.0,1100.8 1529.0,1097.6 1530.0,1095.1 1531.0,1093.8 1531.4,1093.6 1532.0,1094.1 1533.0,1096.6 1534.0,1100.7 1534.6,1103.5 1535.0,1105.9 1536.0,1115.9 1537.0,1129.3 1538.0,1143.6 1538.3,1148.0 1539.0,1157.4 1540.0,1172.5 1541.0,1187.7 1542.0,1201.9 1542.0,1202.3 1543.0,1215.5 1544.0,1228.9 1545.0,1240.5 1545.7,1246.8 1546.0,1248.7 1547.0,1255.2 1548.0,1260.8 1549.0,1265.2 1550.0,1268.6 1550.2,1269.0 1551.0,1271.0 1552.0,1273.1 1553.0,1274.8 1554.0,1276.3 1555.0,1277.3 1555.6,1277.7 1556.0,1277.9 1557.0,1278.3 1558.0,1278.8 1559.0,1279.1 1560.0,1279.3 1561.0,1279.4 1561.3,1279.4 1562.0,1279.4 1563.0,1279.2 1564.0,1278.9 1565.0,1278.4 1566.0,1277.9 1567.0,1277.4 1568.0,1276.7 1569.0,1276.1 1569.2,1276.0 1570.0,1275.4 1571.0,1274.5 1572.0,1273.4 1573.0,1272.2 1574.0,1270.8 1575.0,1269.3 1576.0,1267.6 1576.6,1266.6 1577.0,1265.8 1578.0,1263.6 1579.0,1260.9 1580.0,1257.9 1581.0,1254.8 1582.0,1251.7 1582.8,1249.3 1583.0,1248.6 1584.0,1245.4 1585.0,1242.0 1586.0,1238.6 1587.0,1235.2 1588.0,1232.1 1589.0,1229.5 1589.0,1229.4 1590.0,1227.2 1591.0,1225.2 1592.0,1223.5 1593.0,1221.8 1594.0,1220.0 1595.0,1218.0 1596.0,1215.7 1596.4,1214.7 1597.0,1212.8 1598.0,1209.0 1599.0,1204.7 1600.0,1200.3 1601.0,1196.1 1601.3,1194.9 1602.0,1192.2 1603.0,1188.0 1604.0,1184.1 1605.0,1181.1 1605.5,1180.1 1606.0,1179.4 1607.0,1178.0 1608.0,1176.9 1609.0,1176.4 1609.2,1176.4 1610.0,1176.6 1611.0,1177.4 1612.0,1178.7 1613.0,1180.2 1613.7,1181.3 1614.0,1182.0 1615.0,1184.8 1616.0,1188.7 1617.0,1193.0 1618.0,1197.4 1618.6,1199.9 1619.0,1201.4 1620.0,1205.3 1621.0,1209.3 1622.0,1213.3 1623.0,1217.4 1624.0,1221.4 1624.8,1224.6 1625.0,1225.5 1626.0,1229.7 1627.0,1234.0 1628.0,1238.4 1629.0,1242.5 1630.0,1246.2 1631.0,1249.3 1631.0,1249.4 1632.0,1252.2 1633.0,1255.0 1634.0,1257.6 1635.0,1259.9 1636.0,1261.6 1637.0,1262.8 1637.1,1262.9 1638.0,1263.4 1639.0,1264.0 1640.0,1264.5 1641.0,1264.9 1642.0,1265.2 1643.0,1265.3 1643.3,1265.3 1644.0,1265.3 1645.0,1265.0 1646.0,1264.6 1647.0,1264.1 1648.0,1263.5 1649.0,1262.8 1650.0,1262.1 1650.7,1261.6 1651.0,1261.4 1652.0,1260.7 1653.0,1259.9 1654.0,1259.1 1655.0,1258.1 1656.0,1257.1 1657.0,1256.0 1658.0,1254.8 1659.0,1253.5 1659.4,1253.0 1660.0,1252.1 1661.0,1250.5 1662.0,1248.8 1663.0,1246.9 1664.0,1244.8 1665.0,1242.5 1666.0,1239.9 1667.0,1237.1 1668.0,1234.1 1669.0,1230.7 1670.0,1227.1 1670.3,1225.7 1671.0,1222.8 1672.0,1217.0 1673.0,1209.8 1674.0,1201.5 1674.6,1195.7 1675.0,1192.1 1676.0,1180.3 1677.0,1166.2 1677.8,1152.8 1678.0,1150.4 1679.0,1131.5 1680.0,1110.0 1681.0,1085.3 1682.0,1059.7 1682.1,1056.4 1683.0,1037.0 1684.0,1015.6 1684.6,1003.0 1685.0,995.0 1686.0,976.0 1686.7,960.0 1687.0,951.4 1688.0,914.3 1689.0,870.9 1690.0,829.3 1690.2,822.0 1691.0,794.0 1692.0,760.5 1693.0,729.7 1693.3,721.0 1694.0,699.5 1694.5,690.0 1695.0,686.8 1695.7,684.9 1696.0,686.1 1697.0,700.8 1697.3,706.0 1698.0,719.1 1698.9,741.0 1699.0,743.9 1700.0,781.9 1701.0,826.0 1701.4,842.0 1702.0,864.8 1703.0,903.3 1704.0,939.4 1705.0,970.0 1705.4,980.0 1706.0,992.4 1707.0,1009.4 1707.8,1024.3 1708.0,1027.2 1709.0,1048.9 1710.0,1070.2 1710.4,1077.8 1711.0,1087.4 1712.0,1102.8 1713.0,1114.6 1713.2,1116.4 1714.0,1122.8 1715.0,1129.9 1716.0,1134.2 1716.4,1134.6 1717.0,1134.3 1718.0,1132.4 1719.0,1129.4 1719.6,1127.1 1720.0,1125.5 1721.0,1118.2 1722.0,1108.3 1722.8,1099.3 1723.0,1097.7 1724.0,1085.7 1725.0,1071.9 1726.0,1057.3 1726.1,1056.4 1727.0,1041.5 1728.0,1024.3 1729.0,1007.3 1729.3,1002.9 1730.0,991.9 1731.0,977.3 1732.0,962.0 1733.0,945.3 1734.0,927.7 1735.0,909.4 1736.0,890.6 1736.4,883.0 1737.0,870.8 1738.0,848.8 1739.0,828.6 1739.4,822.0 1740.0,813.2 1741.0,800.0 1742.0,788.4 1743.0,778.6 1743.3,776.0 1744.0,770.3 1744.6,767.0 1745.0,765.7 1745.8,764.3 1746.0,764.5 1747.0,769.6 1747.2,771.0 1748.0,781.2 1748.8,795.0 1749.0,798.2 1750.0,814.9 1750.6,826.7 1751.0,836.1 1752.0,864.2 1752.2,870.0 1753.0,895.0 1753.8,920.0 1754.0,925.9 1755.0,954.5 1756.0,980.0 1757.0,1000.3 1757.1,1002.9 1758.0,1021.0 1759.0,1040.9 1759.3,1045.7 1760.0,1057.3 1761.0,1071.3 1761.4,1075.7 1762.0,1081.3 1763.0,1089.2 1763.6,1090.7 1764.0,1090.1 1765.0,1085.1 1766.0,1076.9 1766.1,1075.7 1767.0,1062.9 1768.0,1041.2 1768.3,1035.0 1769.0,1017.4 1770.0,992.1 1770.0,991.9 1771.0,970.7 1771.4,962.0 1772.0,947.6 1772.3,940.0 1773.0,921.8 1774.0,894.6 1775.0,866.0 1775.2,860.0 1776.0,833.8 1776.6,815.0 1777.0,803.9 1777.6,790.0 1778.0,782.3 1778.7,774.3 1779.0,774.7 1780.0,779.8 1780.2,781.0 1781.0,787.8 1781.5,793.3 1782.0,799.8 1783.0,815.3 1783.3,820.0 1784.0,830.0 1785.0,844.7 1785.8,860.0 1786.0,865.2 1787.0,901.9 1787.5,920.0 1788.0,935.4 1789.0,964.0 1789.6,980.0 1790.0,990.2 1791.0,1014.1 1791.4,1024.3 1792.0,1039.0 1793.0,1064.9 1794.0,1088.6 1794.0,1088.8 1795.0,1110.3 1796.0,1129.9 1796.8,1142.1 1797.0,1145.3 1798.0,1157.6 1799.0,1167.9 1800.0,1176.4 1800.0,1176.5 1801.0,1183.9 1802.0,1190.3 1803.0,1195.0 1803.2,1195.7 1804.0,1198.3 1805.0,1200.6 1805.6,1201.0 1806.0,1200.7 1807.0,1198.0 1808.0,1193.8 1808.6,1191.4 1809.0,1189.5 1810.0,1184.2 1811.0,1178.4 1811.8,1174.3 1812.0,1173.1 1813.0,1167.4 1814.0,1162.7 1814.6,1161.4 1815.0,1161.0 1816.0,1160.1 1817.0,1159.5 1818.0,1159.3 1818.2,1159.3 1819.0,1159.8 1820.0,1161.7 1821.0,1164.5 1821.4,1165.7 1822.0,1168.0 1823.0,1173.6 1824.0,1180.5 1824.6,1185.0 1825.0,1187.7 1826.0,1196.3 1827.0,1205.5 1827.8,1212.8 1828.0,1214.2 1829.0,1222.6 1830.0,1230.7 1831.0,1238.1 1831.1,1238.5 1832.0,1245.0 1833.0,1251.5 1834.0,1256.7 1834.3,1257.8 1835.0,1260.5 1836.0,1263.9 1837.0,1266.7 1838.0,1268.8 1838.6,1269.6 1839.0,1270.2 1840.0,1271.4 1841.0,1272.4 1842.0,1273.2 1843.0,1273.7 1843.9,1273.9 1844.0,1273.9 1845.0,1273.9 1846.0,1273.8 1847.0,1273.7 1848.0,1273.6 1849.0,1273.5 1850.0,1273.3 1850.3,1273.3 1851.0,1273.1 1852.0,1272.5 1853.0,1271.7 1854.0,1270.7 1855.0,1269.6 1856.0,1268.5 1857.0,1267.3 1857.8,1266.4 1858.0,1266.2 1859.0,1265.2 1860.0,1264.0 1861.0,1262.9 1862.0,1261.6 1863.0,1260.4 1864.0,1259.1 1865.0,1257.7 1866.0,1256.3 1866.4,1255.7 1867.0,1254.8 1868.0,1253.3 1869.0,1251.8 1870.0,1250.1 1871.0,1248.4 1872.0,1246.7 1873.0,1244.8 1874.0,1242.8 1875.0,1240.7 1875.0,1240.6 1876.0,1238.3 1877.0,1235.7 1878.0,1232.9 1879.0,1229.9 1880.0,1226.9 1881.0,1223.8 1882.0,1220.7 1882.5,1219.3 1883.0,1217.7 1884.0,1214.8 1885.0,1211.9 1886.0,1208.9 1887.0,1205.9 1888.0,1202.7 1889.0,1199.3 1890.0,1195.7 1890.0,1195.6 1891.0,1191.8 1892.0,1187.7 1893.0,1183.4 1894.0,1178.7 1895.0,1173.6 1896.0,1168.1 1896.4,1165.7 1897.0,1162.0 1898.0,1155.0 1899.0,1147.1 1900.0,1138.2 1900.7,1131.4 1901.0,1128.2 1902.0,1116.4 1903.0,1102.6 1903.9,1088.6 1904.0,1087.1 1905.0,1067.7 1906.0,1046.7 1906.0,1045.7 1907.0,1027.0 1908.0,1006.8 1908.2,1002.9 1909.0,985.6 1910.0,962.0 1911.0,930.8 1912.0,897.1 1912.5,883.0 1913.0,871.1 1914.0,850.0 1915.0,831.2 1915.5,822.0 1916.0,812.9 1917.0,795.6 1917.9,781.7 1918.0,780.3 1919.0,766.3 1920.0,754.7 1920.3,752.0 1921.0,746.2 1922.0,741.6 1923.0,747.0 1923.5,752.0 1924.0,759.9 1924.6,771.6 1925.0,777.9 1926.0,792.5 1926.6,802.0 1927.0,808.9 1928.0,827.0 1929.0,846.4 1930.0,867.4 1930.7,883.0 1931.0,890.1 1932.0,916.4 1933.0,944.7 1934.0,972.3 1934.3,980.0 1935.0,997.0 1936.0,1020.2 1937.0,1043.3 1937.5,1056.4 1938.0,1067.7 1939.0,1093.5 1939.7,1110.0 1940.0,1116.8 1941.0,1137.4 1941.8,1152.8 1942.0,1155.8 1943.0,1172.6 1944.0,1187.6 1944.6,1195.7 1945.0,1200.3 1946.0,1211.6 1947.0,1221.4 1947.8,1227.8 1948.0,1229.0 1949.0,1235.1 1950.0,1240.4 1951.0,1244.9 1952.0,1248.8 1952.1,1249.3 1953.0,1252.3 1954.0,1255.3 1955.0,1258.1 1956.0,1260.7 1957.0,1263.0 1958.0,1265.2 1958.5,1266.4 1959.0,1267.3 1960.0,1269.4 1961.0,1271.3 1962.0,1273.1 1963.0,1274.8 1964.0,1276.4 1965.0,1277.9 1966.0,1279.2 1966.0,1279.3 1967.0,1280.4 1968.0,1281.6 1969.0,1282.8 1970.0,1283.8 1971.0,1284.7 1972.0,1285.4 1972.5,1285.7 1973.0,1286.0 1974.0,1286.5 1975.0,1287.0 1976.0,1287.3 1976.8,1287.4 1977.0,1287.4 1978.0,1287.3 1979.0,1287.0 1980.0,1286.5 1981.0,1286.0 1982.0,1285.4 1983.0,1284.7 1983.2,1284.6 1984.0,1284.1 1985.0,1283.2 1986.0,1282.2 1987.0,1281.0 1988.0,1279.7 1989.0,1278.2 1989.6,1277.1 1990.0,1276.4 1991.0,1274.0 1992.0,1270.9 1993.0,1267.4 1994.0,1263.7 1995.0,1260.0 1995.0,1259.9 1996.0,1255.9 1997.0,1251.7 1998.0,1247.1 1999.0,1242.1 1999.7,1238.5 2000.0,1236.8 2001.0,1230.3 2002.0,1223.4 2003.0,1217.7 2003.1,1217.1 2004.0,1213.0 2005.0,1208.7 2006.0,1206.2 2006.3,1206.0 2007.0,1206.6 2008.0,1209.2 2009.0,1212.9 2009.5,1215.0 2010.0,1216.9 2011.0,1222.3 2012.0,1228.7 2013.0,1235.2 2013.2,1236.4 2014.0,1241.9 2015.0,1249.1 2016.0,1255.6 2016.4,1257.8 2017.0,1260.8 2018.0,1265.3 2019.0,1269.3 2020.0,1272.8 2020.7,1275.0 2021.0,1275.9 2022.0,1278.8 2023.0,1281.4 2024.0,1283.9 2025.0,1286.1 2026.0,1288.1 2027.0,1289.8 2027.1,1290.0 2028.0,1291.2 2029.0,1292.4 2030.0,1293.5 2031.0,1294.5 2032.0,1295.5 2032.9,1296.4 2033.0,1296.6 2034.0,1297.7 2035.0,1298.9 2036.0,1300.2 2037.0,1301.5 2038.0,1302.8 2039.0,1304.1 2040.0,1305.3 2041.0,1306.5 2042.0,1307.6 2043.0,1308.6 2044.0,1309.4 2045.0,1310.1 2046.0,1310.6 2046.5,1310.8 2047.0,1311.0 2048.0,1311.3 2049.0,1311.7 2050.0,1312.0 2051.0,1312.3 2052.0,1312.5 2053.0,1312.8 2054.0,1313.1 2055.0,1313.3 2056.0,1313.5 2057.0,1313.8 2058.0,1314.0 2059.0,1314.2 2060.0,1314.4 2061.0,1314.6 2062.0,1314.7 2063.0,1314.9 2064.0,1315.0 2065.0,1315.2 2066.0,1315.3 2067.0,1315.4 2068.0,1315.5 2069.0,1315.6 2070.0,1315.7 2071.0,1315.8 2072.0,1315.9 2073.0,1316.0 2074.0,1316.0 2074.8,1316.1 2075.0,1316.1 2076.0,1316.1 2077.0,1316.2 2078.0,1316.2 2079.0,1316.3 2080.0,1316.3 2081.0,1316.4 2082.0,1316.4 2083.0,1316.5 2084.0,1316.5 2085.0,1316.5 2086.0,1316.6 2087.0,1316.6 2088.0,1316.6 2089.0,1316.7 2090.0,1316.7 2091.0,1316.7 2092.0,1316.8 2093.0,1316.8 2094.0,1316.8 2095.0,1316.8 2096.0,1316.8 2097.0,1316.8 2098.0,1316.9 2099.0,1316.9 2100.0,1316.9 2101.0,1316.9 2101.0,1316.9 2102.0,1316.9 2103.0,1316.9 2104.0,1316.8 2105.0,1316.8 2106.0,1316.8 2107.0,1316.8 2108.0,1316.7 2109.0,1316.7 2110.0,1316.7 2111.0,1316.6 2112.0,1316.6 2113.0,1316.5 2114.0,1316.5 2115.0,1316.4 2116.0,1316.4 2117.0,1316.3 2118.0,1316.3 2119.0,1316.3 2120.0,1316.2 2121.0,1316.2 2122.0,1316.2 2123.0,1316.1 2124.0,1316.1 2125.0,1316.1 2126.0,1316.1 2127.0,1316.1 2127.2,1316.1 2128.0,1316.1 2129.0,1316.2 2130.0,1316.4 2131.0,1316.7 2132.0,1317.0 2133.0,1317.3 2134.0,1317.7 2135.0,1318.0 2136.0,1318.3 2137.0,1318.6 2137.6,1318.7 2138.0,1318.8 2139.0,1319.0 2140.0,1319.2 2141.0,1319.3 2142.0,1319.5 2143.0,1319.7 2144.0,1319.9 2145.0,1320.0 2146.0,1320.2 2147.0,1320.3 2148.0,1320.5 2149.0,1320.6 2150.0,1320.8 2151.0,1320.9 2152.0,1321.1 2153.0,1321.2 2154.0,1321.4 2155.0,1321.5 2156.0,1321.7 2157.0,1321.9 2158.0,1322.0 2158.6,1322.1 2159.0,1322.2 2160.0,1322.3 2161.0,1322.5" stroke="#00a2ff" stroke-width="7.0"/>
<path d="M173.0,998.2 174.0,998.3 174.8,998.4 175.0,998.4 176.0,998.5 177.0,998.6 178.0,998.8 179.0,998.9 180.0,999.0 181.0,999.1 182.0,999.2 183.0,999.4 184.0,999.5 185.0,999.6 186.0,999.7 187.0,999.8 188.0,999.9 189.0,1000.1 189.6,1000.1 190.0,1000.2 191.0,1000.3 192.0,1000.4 193.0,1000.5 194.0,1000.7 195.0,1000.8 196.0,1000.9 197.0,1001.0 198.0,1001.1 199.0,1001.1 199.5,1001.1 200.0,1001.1 201.0,1001.1 202.0,1001.1 203.0,1001.1 204.0,1001.0 205.0,1001.0 206.0,1000.9 207.0,1000.9 208.0,1000.8 209.0,1000.7 210.0,1000.7 211.0,1000.6 212.0,1000.5 213.0,1000.4 214.0,1000.3 215.0,1000.2 216.0,1000.0 217.0,999.9 218.0,999.8 219.0,999.7 219.3,999.6 220.0,999.5 221.0,999.2 222.0,998.8 223.0,998.4 224.0,997.9 225.0,997.4 226.0,996.9 227.0,996.5 228.0,996.2 229.0,995.9 229.2,995.9 230.0,995.8 231.0,995.7 232.0,995.6 233.0,995.5 234.0,995.5 235.0,995.4 236.0,995.3 237.0,995.3 238.0,995.2 239.0,995.2 239.1,995.2 240.0,995.1 241.0,995.1 242.0,995.1 243.0,995.0 244.0,995.0 245.0,995.0 246.0,995.0 247.0,995.0 248.0,994.9 249.0,994.9 250.0,994.9 251.0,994.8 252.0,994.8 253.0,994.7 253.9,994.7 254.0,994.7 255.0,994.5 256.0,994.1 257.0,993.7 258.0,993.2 259.0,992.7 260.0,992.4 261.0,992.2 261.3,992.2 262.0,992.2 263.0,992.2 264.0,992.3 265.0,992.3 266.0,992.4 267.0,992.5 268.0,992.6 268.7,992.7 269.0,992.8 270.0,993.1 271.0,993.7 272.0,994.4 273.0,995.2 274.0,996.1 275.0,996.9 276.0,997.7 277.0,998.2 277.3,998.4 278.0,998.6 279.0,999.0 280.0,999.4 281.0,999.7 282.0,1000.0 283.0,1000.1 283.5,1000.1 284.0,1000.1 285.0,1000.0 286.0,999.7 287.0,999.4 288.0,999.0 289.0,998.5 290.0,998.1 290.9,997.6 291.0,997.6 292.0,997.1 293.0,996.6 294.0,996.0 295.0,995.3 296.0,994.7 297.0,994.1 298.0,993.6 298.3,993.5 299.0,993.2 300.0,992.7 301.0,992.3 302.0,991.9 303.0,991.4 304.0,991.0 305.0,990.7 306.0,990.3 307.0,990.0 308.0,989.7 309.0,989.5 310.0,989.3 310.7,989.2 311.0,989.2 312.0,989.1 313.0,989.1 314.0,989.0 315.0,989.0 316.0,988.9 317.0,988.9 318.0,988.8 319.0,988.8 320.0,988.7 321.0,988.7 322.0,988.6 323.0,988.5 323.0,988.5 324.0,988.4 325.0,988.1 326.0,987.9 327.0,987.5 328.0,987.2 329.0,986.8 330.0,986.4 331.0,986.0 332.0,985.6 332.9,985.3 333.0,985.3 334.0,984.9 335.0,984.6 336.0,984.2 337.0,983.8 338.0,983.4 339.0,983.0 340.0,982.7 341.0,982.5 342.0,982.4 342.8,982.3 343.0,982.3 344.0,982.3 345.0,982.3 346.0,982.3 347.0,982.3 348.0,982.3 349.0,982.3 350.0,982.3 351.0,982.3 352.0,982.3 353.0,982.3 354.0,982.3 355.0,982.3 355.2,982.3 356.0,982.4 357.0,982.6 358.0,982.8 359.0,983.2 360.0,983.5 361.0,983.9 362.0,984.2 363.0,984.5 364.0,984.7 365.0,984.8 365.0,984.8 366.0,984.8 367.0,984.8 368.0,984.8 369.0,984.8 370.0,984.8 371.0,984.8 372.0,984.8 372.4,984.8 373.0,984.8 374.0,984.5 375.0,984.0 376.0,983.3 377.0,982.5 378.0,981.6 379.0,980.7 379.9,979.9 380.0,979.7 381.0,978.6 382.0,977.2 383.0,975.6 384.0,973.9 385.0,972.0 386.0,970.1 386.0,970.0 387.0,968.0 388.0,965.8 389.0,963.4 390.0,960.7 391.0,957.6 391.7,955.2 392.0,954.1 393.0,949.8 394.0,944.7 395.0,938.8 395.9,932.9 396.0,932.4 397.0,924.9 398.0,916.1 399.0,906.8 399.6,900.8 400.0,897.0 401.0,886.1 402.0,874.7 403.0,864.3 403.3,861.3 404.0,855.6 405.0,847.8 406.0,840.7 407.0,834.3 407.0,834.1 408.0,828.2 409.0,822.3 410.0,817.7 410.7,815.6 411.0,815.1 412.0,813.5 413.0,812.3 413.9,811.9 414.0,811.9 415.0,813.1 416.0,816.1 417.0,820.0 417.4,821.8 418.0,825.0 419.0,833.1 420.0,843.0 421.0,852.8 421.1,853.9 422.0,861.9 423.0,871.1 424.0,880.4 424.3,883.5 425.0,889.9 426.0,899.7 427.0,909.3 428.0,917.9 428.0,918.1 429.0,925.4 430.0,932.5 431.0,938.8 431.7,942.8 432.0,944.1 433.0,949.1 434.0,953.2 434.7,955.2 435.0,955.8 436.0,957.8 437.0,958.8 437.2,958.9 438.0,958.2 439.0,956.2 440.0,953.7 440.4,952.7 441.0,951.1 442.0,948.2 443.0,944.7 444.0,940.7 444.1,940.3 445.0,935.7 446.0,929.5 447.0,923.0 447.8,918.1 448.0,917.0 449.0,911.5 450.0,906.1 451.0,900.9 451.5,898.3 452.0,895.7 453.0,890.1 454.0,885.2 454.5,883.5 455.0,881.9 456.0,879.3 457.0,877.2 457.7,876.1 458.0,875.7 459.0,874.4 460.0,873.7 460.1,873.6 461.0,873.9 462.0,874.9 463.0,876.2 463.9,877.3 464.0,877.5 465.0,879.3 466.0,881.3 467.0,883.0 467.6,883.5 468.0,883.8 469.0,884.3 470.0,884.7 470.8,884.8 471.0,884.7 472.0,883.7 473.0,881.7 474.0,879.2 474.2,878.6 475.0,876.0 476.0,871.3 477.0,866.0 477.4,863.8 478.0,860.8 479.0,854.9 480.0,849.3 480.6,846.5 481.0,845.1 482.0,841.5 483.0,838.8 483.6,837.8 484.0,837.5 485.0,836.7 486.0,836.2 486.6,836.1 487.0,836.2 488.0,837.4 489.0,839.5 489.8,841.5 490.0,842.1 491.0,846.7 492.0,853.1 493.0,860.2 493.5,863.8 494.0,867.3 495.0,874.7 496.0,882.8 497.0,891.6 497.2,893.4 498.0,901.4 499.0,912.4 500.0,923.5 500.4,928.0 501.0,934.2 502.0,945.2 503.0,954.8 503.4,957.6 504.0,961.7 505.0,967.8 506.0,972.8 507.0,976.0 507.1,976.2 508.0,977.9 509.0,979.4 510.0,980.6 511.0,981.6 512.0,982.5 513.0,983.3 513.3,983.6 514.0,984.2 515.0,985.0 516.0,985.7 517.0,986.4 518.0,987.0 519.0,987.6 520.0,988.2 520.7,988.5 521.0,988.7 522.0,989.2 523.0,989.8 524.0,990.4 525.0,990.9 526.0,991.4 527.0,991.8 528.0,992.1 529.0,992.2 529.3,992.2 530.0,992.2 531.0,992.1 532.0,992.0 533.0,991.9 534.0,991.7 535.0,991.5 536.0,991.2 537.0,990.9 538.0,990.6 539.0,990.3 539.2,990.2 540.0,989.9 541.0,989.2 542.0,988.3 543.0,987.3 544.0,986.2 545.0,985.1 546.0,984.1 546.6,983.6 547.0,983.2 548.0,982.3 549.0,981.4 550.0,980.4 551.0,979.5 552.0,978.7 553.0,978.0 554.0,977.4 554.0,977.4 555.0,976.9 556.0,976.4 557.0,976.0 558.0,975.7 559.0,975.5 559.7,975.4 560.0,975.4 561.0,975.7 562.0,976.2 563.0,976.9 564.0,977.8 565.0,978.7 566.0,979.6 566.4,979.9 567.0,980.4 568.0,981.4 569.0,982.6 570.0,983.8 571.0,985.0 572.0,986.0 573.0,986.8 573.8,987.3 574.0,987.4 575.0,987.8 576.0,988.1 577.0,988.4 578.0,988.7 579.0,989.0 580.0,989.2 581.0,989.4 582.0,989.6 583.0,989.8 584.0,990.0 584.9,990.2 585.0,990.3 586.0,990.5 587.0,990.7 588.0,990.9 589.0,991.1 590.0,991.3 591.0,991.4 592.0,991.6 593.0,991.8 594.0,992.0 594.8,992.2 595.0,992.3 596.0,992.5 597.0,992.8 598.0,993.2 599.0,993.5 600.0,993.8 601.0,994.1 602.0,994.4 603.0,994.5 604.0,994.7 604.7,994.7 605.0,994.7 606.0,994.6 607.0,994.3 608.0,994.0 609.0,993.7 610.0,993.3 611.0,992.9 612.0,992.6 613.0,992.4 614.0,992.2 614.5,992.2 615.0,992.2 616.0,992.2 617.0,992.2 618.0,992.2 619.0,992.2 620.0,992.2 621.0,992.2 622.0,992.2 623.0,992.2 624.0,992.2 624.4,992.2 625.0,992.2 626.0,992.4 627.0,992.7 628.0,993.1 629.0,993.5 630.0,994.0 631.0,994.4 632.0,994.8 633.0,995.0 634.0,995.2 634.3,995.2 635.0,995.1 636.0,995.0 637.0,994.7 638.0,994.4 639.0,994.0 640.0,993.6 641.0,993.2 642.0,992.8 643.0,992.5 644.0,992.2 644.2,992.2 645.0,992.1 646.0,991.9 647.0,991.8 648.0,991.7 649.0,991.6 650.0,991.5 651.0,991.5 651.6,991.5 652.0,991.5 653.0,991.5 654.0,991.6 655.0,991.7 656.0,991.8 657.0,991.9 658.0,992.0 659.0,992.1 660.0,992.2 661.0,992.2 661.5,992.2 662.0,992.2 663.0,992.2 664.0,992.2 665.0,992.2 666.0,992.2 667.0,992.2 668.0,992.2 668.9,992.2 669.0,992.2 670.0,991.8 671.0,991.0 672.0,989.8 673.0,988.6 674.0,987.6 675.0,986.8 675.1,986.8 676.0,986.3 677.0,985.8 678.0,985.4 679.0,985.0 680.0,984.7 681.0,984.5 682.0,984.3 682.5,984.3 683.0,984.3 684.0,984.4 685.0,984.6 686.0,984.9 687.0,985.2 688.0,985.6 689.0,986.0 690.0,986.4 691.0,986.7 691.1,986.8 692.0,987.1 693.0,987.7 694.0,988.3 695.0,988.9 696.0,989.6 697.0,990.1 698.0,990.6 699.0,990.9 699.9,991.0 700.0,991.0 701.0,990.9 702.0,990.7 703.0,990.4 704.0,990.0 705.0,989.7 706.0,989.3 707.0,989.0 708.0,988.7 709.0,988.6 709.8,988.5 710.0,988.5 711.0,988.6 712.0,988.9 713.0,989.3 714.0,989.8 715.0,990.3 716.0,990.9 717.0,991.3 718.0,991.8 719.0,992.1 719.6,992.2 720.0,992.3 721.0,992.4 722.0,992.6 723.0,992.7 724.0,992.8 725.0,992.9 726.0,992.9 727.0,992.9 727.1,993.0 728.0,992.9 729.0,992.6 730.0,992.2 731.0,991.7 732.0,991.1 733.0,990.5 734.0,989.9 735.0,989.4 736.0,988.9 736.9,988.5 737.0,988.5 738.0,988.1 739.0,987.8 740.0,987.4 741.0,987.1 742.0,986.8 743.0,986.6 744.0,986.5 744.4,986.5 745.0,986.6 746.0,986.8 747.0,987.2 748.0,987.7 749.0,988.2 750.0,988.7 751.0,989.0 751.8,989.2 752.0,989.3 753.0,989.5 754.0,989.7 755.0,989.9 756.0,990.1 757.0,990.2 758.0,990.3 759.0,990.4 760.0,990.5 760.4,990.5 761.0,990.5 762.0,990.4 763.0,990.2 764.0,990.0 765.0,989.7 766.0,989.3 767.0,988.9 767.8,988.5 768.0,988.4 769.0,987.3 770.0,985.4 771.0,982.9 772.0,979.9 772.8,977.4 773.0,976.5 774.0,971.6 775.0,965.2 776.0,958.3 776.5,955.2 777.0,951.5 778.0,944.2 779.0,936.6 780.0,929.2 780.2,928.0 781.0,921.7 782.0,914.0 783.0,907.5 783.4,905.8 784.0,903.3 785.0,899.8 786.0,897.1 786.8,895.9 787.0,895.7 788.0,894.9 789.0,894.3 790.0,893.9 790.5,893.9 791.0,894.1 792.0,895.4 793.0,897.6 793.8,899.6 794.0,900.4 795.0,905.2 796.0,911.6 797.0,918.1 797.0,918.3 798.0,925.5 799.0,933.4 800.0,940.4 800.4,942.8 801.0,945.7 802.0,950.2 803.0,954.1 804.0,957.3 804.1,957.6 805.0,959.9 806.0,962.3 807.0,964.3 808.0,965.5 808.1,965.5 809.0,966.1 810.0,966.7 811.0,967.0 811.5,967.0 812.0,966.9 813.0,966.2 814.0,965.0 815.0,963.7 816.0,962.6 816.0,962.6 817.0,961.6 818.0,960.6 819.0,959.7 820.0,959.0 820.4,958.9 821.0,958.7 822.0,958.4 823.0,958.3 824.0,958.1 824.6,958.1 825.0,958.1 826.0,958.2 827.0,958.3 828.0,958.5 829.0,958.7 829.6,958.9 830.0,959.0 831.0,959.6 832.0,960.5 833.0,961.5 834.0,962.5 834.5,963.1 835.0,963.5 836.0,964.6 837.0,965.8 838.0,967.0 839.0,968.2 840.0,969.3 840.7,970.0 841.0,970.3 842.0,971.2 843.0,972.0 844.0,972.8 845.0,973.6 846.0,974.3 846.9,974.9 847.0,975.0 848.0,975.8 849.0,976.7 850.0,977.5 851.0,978.0 851.8,978.1 852.0,978.1 853.0,978.1 854.0,978.1 855.0,978.1 856.0,978.1 857.0,978.1 858.0,978.1 859.0,978.1 860.0,978.1 860.5,978.1 861.0,978.0 862.0,977.5 863.0,976.6 864.0,975.4 865.0,974.2 865.4,973.7 866.0,972.9 867.0,971.5 868.0,969.8 869.0,967.9 870.0,965.8 870.3,965.0 871.0,963.4 872.0,960.3 873.0,956.8 874.0,953.1 874.8,950.2 875.0,949.4 876.0,945.3 877.0,941.0 878.0,936.8 879.0,932.9 879.0,932.8 880.0,929.1 881.0,925.3 882.0,922.2 882.7,920.6 883.0,920.0 884.0,918.2 885.0,916.7 886.0,915.8 886.4,915.6 887.0,915.5 888.0,915.3 889.0,915.2 889.6,915.1 890.0,915.2 891.0,915.4 892.0,915.8 893.0,916.5 894.0,917.2 895.0,918.1 895.0,918.1 896.0,919.4 897.0,921.6 898.0,924.1 899.0,926.8 899.5,928.0 900.0,929.2 901.0,931.6 902.0,934.0 903.0,936.6 904.0,939.2 904.4,940.3 905.0,941.9 906.0,944.9 907.0,948.1 908.0,951.2 909.0,954.1 909.4,955.2 910.0,956.9 911.0,959.6 912.0,962.2 913.0,964.7 914.0,967.0 914.8,968.8 915.0,969.2 916.0,971.2 917.0,973.2 918.0,975.1 919.0,976.9 920.0,978.5 921.0,979.9 921.0,979.9 922.0,981.1 923.0,982.3 924.0,983.4 925.0,984.4 926.0,985.3 927.0,986.0 927.1,986.0 928.0,986.5 929.0,987.0 930.0,987.5 931.0,987.9 932.0,988.2 933.0,988.5 933.3,988.5 934.0,988.6 935.0,988.7 936.0,988.8 937.0,988.9 938.0,988.9 939.0,989.0 940.0,989.1 940.7,989.2 941.0,989.3 942.0,989.6 943.0,990.2 944.0,990.8 945.0,991.6 946.0,992.4 947.0,993.2 948.0,993.9 949.0,994.5 949.4,994.7 950.0,995.0 951.0,995.5 952.0,996.0 953.0,996.5 954.0,996.9 955.0,997.3 956.0,997.5 957.0,997.6 957.3,997.6 958.0,997.6 959.0,997.4 960.0,997.0 961.0,996.5 962.0,995.9 963.0,995.3 964.0,994.8 964.2,994.7 965.0,994.2 966.0,993.5 967.0,992.7 968.0,991.9 969.0,991.1 970.0,990.5 971.0,990.0 971.6,989.7 972.0,989.6 973.0,989.4 974.0,989.1 975.0,988.9 976.0,988.8 977.0,988.6 978.0,988.5 979.0,988.5 979.0,988.5 980.0,988.5 981.0,988.5 982.0,988.5 983.0,988.6 984.0,988.6 985.0,988.6 986.0,988.7 987.0,988.7 988.0,988.8 989.0,988.8 990.0,988.9 991.0,989.0 991.4,989.0 992.0,989.1 993.0,989.5 994.0,990.0 995.0,990.6 996.0,991.2 997.0,991.6 997.6,991.7 998.0,991.8 999.0,991.9 1000.0,992.0 1001.0,992.1 1002.0,992.2 1003.0,992.2 1003.2,992.2 1004.0,992.2 1005.0,992.0 1006.0,991.7 1007.0,991.4 1008.0,991.0 1009.0,990.6 1010.0,990.2 1011.0,989.8 1011.1,989.7 1012.0,989.5 1013.0,989.2 1014.0,988.9 1015.0,988.6 1016.0,988.2 1017.0,987.9 1018.0,987.5 1018.6,987.3 1019.0,987.1 1020.0,986.6 1021.0,986.0 1022.0,985.4 1023.0,984.7 1024.0,984.1 1024.7,983.6 1025.0,983.4 1026.0,982.7 1027.0,982.0 1028.0,981.2 1029.0,980.4 1030.0,979.5 1030.9,978.6 1031.0,978.5 1032.0,977.5 1033.0,976.5 1034.0,975.3 1035.0,973.8 1035.8,972.5 1036.0,972.2 1037.0,969.8 1038.0,966.7 1039.0,963.3 1040.0,960.0 1040.8,957.6 1041.0,957.1 1042.0,954.5 1043.0,952.2 1044.0,949.8 1045.0,947.3 1045.7,945.3 1046.0,944.5 1047.0,940.8 1048.0,936.9 1049.0,933.8 1049.4,932.9 1050.0,932.1 1051.0,930.9 1052.0,929.9 1053.0,929.3 1053.1,929.2 1054.0,928.9 1055.0,928.5 1055.6,928.5 1056.0,928.5 1057.0,929.0 1058.0,929.8 1059.0,930.9 1060.0,932.2 1060.5,932.9 1061.0,933.6 1062.0,935.6 1063.0,938.2 1064.0,941.0 1065.0,943.9 1065.5,945.3 1066.0,946.7 1067.0,949.7 1068.0,952.8 1069.0,955.9 1070.0,958.9 1070.4,960.1 1071.0,961.7 1072.0,964.5 1073.0,967.2 1074.0,969.7 1075.0,971.8 1075.4,972.5 1076.0,973.5 1077.0,975.0 1078.0,976.3 1079.0,977.5 1080.0,978.4 1080.3,978.6 1081.0,979.1 1082.0,979.7 1083.0,980.3 1084.0,980.7 1085.0,981.2 1086.0,981.6 1087.0,982.0 1087.7,982.3 1088.0,982.4 1089.0,982.9 1090.0,983.3 1091.0,983.8 1092.0,984.2 1093.0,984.5 1094.0,984.9 1095.0,985.3 1095.1,985.3 1096.0,985.6 1097.0,985.9 1098.0,986.3 1099.0,986.6 1100.0,986.9 1101.0,987.1 1102.0,987.3 1102.5,987.3 1103.0,987.3 1104.0,987.1 1105.0,986.9 1106.0,986.6 1107.0,986.2 1108.0,985.8 1109.0,985.3 1110.0,984.8 1110.0,984.8 1111.0,984.0 1112.0,983.0 1113.0,981.8 1114.0,980.4 1115.0,978.9 1116.0,977.6 1116.1,977.4 1117.0,976.2 1118.0,974.8 1119.0,973.4 1120.0,971.9 1121.0,970.5 1122.0,969.2 1122.3,968.8 1123.0,967.8 1124.0,966.5 1125.0,965.1 1126.0,963.8 1127.0,962.6 1128.0,961.7 1128.5,961.3 1129.0,961.0 1130.0,960.4 1131.0,959.8 1132.0,959.2 1133.0,958.8 1134.0,958.4 1135.0,958.2 1135.9,958.1 1136.0,958.1 1137.0,958.3 1138.0,958.6 1139.0,959.2 1140.0,959.9 1141.0,960.7 1142.0,961.5 1143.0,962.3 1143.3,962.6 1144.0,963.2 1145.0,964.3 1146.0,965.5 1147.0,966.8 1148.0,968.1 1149.0,969.4 1149.5,970.0 1150.0,970.6 1151.0,971.8 1152.0,972.9 1153.0,974.1 1154.0,975.3 1155.0,976.4 1156.0,977.6 1156.9,978.6 1157.0,978.7 1158.0,980.0 1159.0,981.2 1160.0,982.5 1161.0,983.7 1162.0,984.9 1163.0,986.0 1164.0,987.0 1164.3,987.3 1165.0,987.9 1166.0,988.8 1167.0,989.7 1168.0,990.5 1169.0,991.1 1170.0,991.4 1170.5,991.5 1171.0,991.4 1172.0,991.2 1173.0,990.8 1174.0,990.2 1175.0,989.5 1176.0,988.8 1177.0,988.0 1177.9,987.3 1178.0,987.2 1179.0,986.3 1180.0,985.4 1181.0,984.3 1182.0,983.1 1183.0,981.8 1184.0,980.5 1185.0,979.1 1185.3,978.6 1186.0,977.6 1187.0,976.0 1188.0,974.3 1189.0,972.5 1190.0,970.5 1191.0,968.5 1191.5,967.5 1192.0,966.4 1193.0,964.0 1194.0,961.5 1195.0,959.0 1196.0,956.4 1196.2,956.0 1197.0,953.9 1198.0,951.4 1199.0,948.8 1200.0,946.3 1201.0,943.9 1201.1,943.6 1202.0,941.4 1203.0,938.7 1204.0,936.1 1205.0,934.0 1206.0,932.6 1206.1,932.5 1207.0,931.7 1208.0,930.9 1209.0,930.2 1210.0,929.7 1211.0,929.4 1211.7,929.3 1212.0,929.3 1213.0,929.5 1214.0,930.0 1215.0,930.6 1216.0,931.2 1217.0,931.7 1217.2,931.8 1218.0,932.2 1219.0,932.7 1220.0,933.2 1221.0,933.6 1222.0,933.7 1222.1,933.7 1223.0,933.4 1224.0,932.2 1225.0,930.3 1226.0,927.9 1226.6,926.3 1227.0,924.6 1228.0,917.8 1229.0,908.2 1230.0,896.9 1230.0,896.7 1231.0,882.3 1232.0,863.9 1232.5,854.7 1233.0,845.0 1234.0,824.9 1235.0,805.3 1235.0,804.5 1236.0,784.5 1237.0,764.5 1237.4,755.9 1238.0,744.2 1239.0,723.4 1239.9,706.5 1240.0,704.7 1241.0,688.2 1242.0,673.8 1242.4,669.4 1243.0,662.4 1244.0,652.4 1245.0,645.8 1245.1,645.4 1246.0,642.3 1247.0,639.6 1248.0,638.5 1248.0,638.5 1249.0,640.0 1250.0,644.1 1251.0,650.0 1251.0,650.1 1252.0,663.5 1253.0,684.5 1253.5,694.1 1254.0,703.3 1255.0,721.4 1256.0,739.7 1256.2,743.5 1257.0,758.3 1258.0,777.1 1259.0,795.0 1259.2,797.9 1260.0,811.6 1261.0,827.3 1262.0,840.8 1262.1,842.3 1263.0,851.8 1264.0,861.4 1265.0,869.5 1265.3,872.0 1266.0,876.5 1267.0,883.0 1268.0,887.8 1268.6,889.3 1269.0,889.9 1270.0,890.9 1271.0,891.6 1272.0,892.3 1272.8,893.0 1273.0,893.2 1274.0,894.2 1275.0,895.2 1276.0,896.4 1277.0,897.9 1277.0,898.0 1278.0,900.8 1279.0,905.0 1280.0,909.8 1280.9,914.0 1281.0,914.4 1282.0,918.9 1283.0,923.6 1284.0,928.5 1285.0,933.2 1285.1,933.7 1286.0,938.1 1287.0,943.2 1288.0,947.9 1288.8,951.0 1289.0,951.7 1290.0,954.8 1291.0,957.6 1292.0,960.1 1293.0,962.2 1293.8,963.4 1294.0,963.7 1295.0,965.1 1296.0,966.3 1297.0,967.4 1298.0,968.1 1298.7,968.3 1299.0,968.4 1300.0,968.6 1301.0,968.7 1302.0,968.8 1302.4,968.8 1303.0,968.7 1304.0,968.3 1305.0,967.5 1306.0,966.5 1307.0,965.3 1308.0,964.1 1308.6,963.4 1309.0,962.9 1310.0,961.4 1311.0,959.8 1312.0,957.9 1313.0,955.7 1314.0,953.2 1314.8,951.0 1315.0,950.2 1316.0,946.3 1317.0,941.3 1318.0,935.3 1319.0,928.7 1319.7,923.9 1320.0,921.5 1321.0,912.6 1322.0,902.2 1323.0,891.2 1323.4,886.8 1324.0,880.1 1325.0,868.5 1326.0,856.3 1327.0,843.6 1327.1,842.3 1328.0,830.2 1329.0,816.1 1330.0,802.1 1330.3,797.9 1331.0,788.7 1332.0,775.1 1333.0,763.4 1333.3,760.8 1334.0,754.7 1335.0,747.2 1336.0,741.9 1336.2,741.0 1337.0,738.9 1338.0,736.5 1339.0,735.0 1339.5,734.9 1340.0,735.3 1341.0,738.1 1342.0,742.6 1342.7,746.0 1343.0,747.9 1344.0,756.0 1345.0,766.3 1345.6,773.2 1346.0,777.4 1347.0,790.5 1348.0,804.5 1348.6,812.7 1349.0,818.0 1350.0,831.3 1351.0,844.5 1351.8,854.7 1352.0,857.0 1353.0,868.9 1354.0,880.3 1355.0,891.5 1355.0,891.7 1356.0,903.0 1357.0,914.4 1358.0,924.7 1358.5,928.8 1359.0,932.8 1360.0,940.1 1361.0,946.4 1362.0,951.6 1362.4,953.5 1363.0,955.8 1364.0,959.6 1365.0,962.8 1366.0,965.1 1366.6,965.9 1367.0,966.1 1368.0,966.8 1369.0,967.3 1370.0,967.8 1371.0,968.1 1372.0,968.3 1372.8,968.3 1373.0,968.3 1374.0,968.3 1375.0,968.3 1376.0,968.3 1377.0,968.3 1378.0,968.3 1379.0,968.3 1380.0,968.3 1381.0,968.3 1382.0,968.3 1383.0,968.3 1384.0,968.3 1385.0,968.3 1386.0,968.3 1387.0,968.3 1388.0,968.3 1389.0,968.3 1390.0,968.3 1390.1,968.3 1391.0,968.4 1392.0,968.7 1393.0,969.1 1394.0,969.5 1395.0,970.0 1396.0,970.4 1397.0,970.7 1397.5,970.8 1398.0,970.8 1399.0,970.9 1400.0,971.0 1401.0,971.1 1402.0,971.2 1403.0,971.2 1404.0,971.3 1404.9,971.3 1405.0,971.3 1406.0,971.2 1407.0,970.8 1408.0,970.4 1409.0,969.7 1410.0,969.0 1411.0,968.2 1412.0,967.3 1413.0,966.4 1413.6,965.9 1414.0,965.4 1415.0,964.3 1416.0,962.9 1417.0,961.4 1418.0,959.6 1419.0,957.6 1419.7,956.0 1420.0,955.4 1421.0,952.7 1422.0,949.5 1423.0,945.7 1424.0,941.6 1425.0,937.1 1425.2,936.2 1426.0,931.9 1427.0,925.5 1428.0,918.5 1429.0,911.1 1429.6,906.6 1430.0,903.7 1431.0,895.9 1432.0,887.7 1433.0,879.5 1433.3,876.9 1434.0,871.4 1435.0,863.0 1436.0,855.5 1436.5,852.2 1437.0,849.7 1438.0,844.7 1439.0,840.9 1439.5,839.9 1440.0,839.2 1441.0,838.1 1442.0,837.5 1442.5,837.4 1443.0,837.5 1444.0,838.3 1445.0,839.7 1446.0,841.5 1446.4,842.3 1447.0,843.8 1448.0,847.8 1449.0,852.9 1450.0,858.6 1450.6,862.1 1451.0,864.3 1452.0,870.5 1453.0,877.3 1454.0,884.4 1454.3,886.8 1455.0,892.0 1456.0,900.4 1457.0,908.8 1458.0,916.2 1458.0,916.4 1459.0,922.7 1460.0,929.0 1461.0,934.7 1462.0,939.7 1463.0,943.6 1463.0,943.7 1464.0,947.1 1465.0,950.2 1466.0,952.9 1467.0,955.3 1468.0,957.5 1469.0,959.4 1469.2,959.7 1470.0,961.2 1471.0,962.9 1472.0,964.5 1473.0,966.0 1474.0,967.3 1475.0,968.4 1476.0,969.2 1476.6,969.6 1477.0,969.8 1478.0,970.3 1479.0,970.7 1480.0,971.1 1481.0,971.3 1481.5,971.3 1482.0,971.2 1483.0,970.9 1484.0,970.3 1485.0,969.3 1486.0,968.2 1487.0,966.9 1487.7,965.9 1488.0,965.3 1489.0,962.2 1490.0,957.5 1491.0,951.8 1492.0,945.3 1492.6,941.1 1493.0,938.3 1494.0,929.1 1495.0,918.3 1496.0,907.4 1496.3,904.1 1497.0,897.0 1498.0,886.3 1499.0,876.0 1500.0,867.3 1500.0,867.0 1501.0,859.8 1502.0,853.1 1503.0,848.1 1503.2,847.3 1504.0,845.0 1505.0,842.4 1506.0,841.1 1506.2,841.1 1507.0,841.1 1508.0,841.1 1509.0,841.1 1509.2,841.1 1510.0,841.7 1511.0,843.7 1512.0,846.5 1513.0,849.4 1513.1,849.7 1514.0,852.7 1515.0,856.9 1516.0,860.6 1516.6,862.1 1517.0,862.9 1518.0,864.8 1519.0,866.2 1519.8,866.5 1520.0,866.5 1521.0,865.8 1522.0,864.2 1523.0,862.1 1523.5,860.9 1524.0,859.1 1525.0,853.5 1526.0,846.1 1527.0,838.7 1527.2,837.4 1528.0,832.0 1529.0,825.0 1530.0,818.3 1530.9,812.7 1531.0,812.2 1532.0,806.2 1533.0,800.9 1533.9,797.9 1534.0,797.6 1535.0,795.5 1536.0,794.3 1536.3,794.2 1537.0,794.7 1538.0,797.1 1539.0,800.6 1539.6,802.8 1540.0,804.8 1541.0,811.1 1542.0,819.1 1543.0,827.8 1543.3,830.0 1544.0,836.6 1545.0,846.6 1546.0,857.1 1547.0,867.0 1547.0,867.3 1548.0,877.4 1549.0,887.5 1550.0,897.5 1550.7,904.1 1551.0,907.4 1552.0,917.9 1553.0,928.4 1554.0,938.0 1555.0,945.4 1555.1,946.1 1556.0,950.8 1557.0,955.6 1558.0,959.6 1559.0,963.0 1560.0,965.7 1560.1,965.9 1561.0,968.0 1562.0,970.2 1563.0,971.9 1564.0,972.7 1564.3,972.8 1565.0,972.7 1566.0,972.5 1567.0,972.2 1568.0,971.7 1569.0,971.2 1570.0,970.6 1571.0,970.0 1571.7,969.6 1572.0,969.3 1573.0,968.5 1574.0,967.6 1575.0,966.5 1576.0,965.2 1577.0,963.8 1578.0,962.3 1579.0,960.7 1580.0,959.0 1580.3,958.4 1581.0,957.2 1582.0,955.0 1583.0,952.6 1584.0,950.0 1585.0,947.1 1586.0,944.1 1587.0,941.0 1587.7,938.7 1588.0,937.8 1589.0,934.4 1590.0,930.6 1591.0,926.7 1592.0,922.5 1593.0,918.1 1593.9,914.0 1594.0,913.5 1595.0,908.6 1596.0,903.3 1597.0,897.7 1598.0,891.8 1598.8,886.8 1599.0,885.8 1600.0,879.2 1601.0,872.3 1602.0,865.5 1602.5,862.1 1603.0,859.4 1604.0,853.4 1605.0,847.9 1606.0,843.3 1606.2,842.3 1607.0,839.7 1608.0,836.5 1609.0,834.0 1610.0,832.5 1610.0,832.4 1611.0,831.4 1612.0,830.7 1612.9,830.5 1613.0,830.5 1614.0,831.0 1615.0,832.4 1616.0,834.3 1617.0,836.5 1617.4,837.4 1618.0,839.1 1619.0,842.8 1620.0,847.4 1621.0,852.6 1622.0,858.0 1622.3,859.6 1623.0,863.6 1624.0,870.3 1625.0,877.5 1626.0,884.4 1627.0,890.4 1627.2,891.7 1628.0,895.4 1629.0,900.0 1630.0,904.3 1631.0,908.2 1632.0,911.8 1633.0,915.1 1633.4,916.4 1634.0,918.1 1635.0,921.0 1636.0,923.7 1637.0,926.3 1638.0,928.6 1639.0,930.7 1640.0,932.5 1640.8,933.7 1641.0,934.0 1642.0,935.3 1643.0,936.5 1644.0,937.7 1645.0,938.7 1646.0,939.6 1647.0,940.2 1648.0,940.6 1648.2,940.6 1649.0,940.8 1650.0,940.9 1651.0,941.0 1652.0,941.1 1653.0,941.1 1653.2,941.1 1654.0,941.0 1655.0,940.5 1656.0,939.8 1657.0,938.9 1658.0,937.9 1658.5,937.5 1659.0,937.1 1660.0,936.1 1661.0,935.0 1662.0,933.8 1663.0,932.5 1664.0,931.3 1665.0,930.1 1666.0,928.9 1666.5,928.4 1667.0,927.9 1668.0,926.9 1669.0,926.0 1670.0,925.1 1671.0,924.2 1672.0,923.3 1673.0,922.3 1674.0,921.3 1675.0,920.2 1675.7,919.3 1676.0,918.9 1677.0,917.6 1678.0,916.2 1679.0,914.6 1680.0,912.8 1681.0,910.8 1681.7,909.2 1682.0,908.4 1683.0,905.5 1684.0,901.8 1685.0,897.3 1685.8,893.0 1686.0,891.8 1687.0,883.5 1688.0,872.5 1688.8,862.6 1689.0,859.9 1690.0,843.9 1691.0,825.8 1691.2,822.2 1692.0,807.8 1693.0,789.2 1693.9,771.6 1694.0,769.6 1695.0,747.7 1696.0,725.0 1696.9,706.0 1697.0,704.1 1698.0,686.6 1699.0,669.5 1699.5,660.0 1700.0,649.1 1701.0,625.1 1701.5,613.3 1702.0,601.9 1703.0,580.0 1704.0,560.2 1704.8,546.7 1705.0,543.8 1706.0,530.7 1707.0,519.7 1707.7,513.3 1708.0,510.9 1709.0,504.5 1710.0,501.3 1710.3,501.0 1711.0,502.4 1711.5,504.5 1712.0,508.1 1712.5,513.3 1713.0,519.3 1714.0,534.0 1714.8,546.7 1715.0,549.8 1716.0,566.1 1716.8,580.0 1717.0,583.7 1718.0,603.2 1718.5,613.3 1719.0,623.7 1720.0,645.1 1720.7,660.0 1721.0,666.3 1722.0,687.1 1723.0,707.3 1723.4,715.0 1724.0,726.3 1725.0,744.7 1726.0,761.2 1726.3,765.5 1727.0,775.1 1728.0,787.6 1729.0,797.6 1729.3,799.9 1730.0,804.9 1731.0,811.2 1732.0,814.8 1732.3,815.0 1733.0,814.3 1734.0,811.1 1735.0,806.3 1735.8,801.9 1736.0,800.7 1737.0,791.7 1738.0,779.5 1739.0,765.5 1740.0,748.3 1741.0,728.6 1741.4,721.0 1742.0,710.5 1743.0,693.4 1743.9,676.4 1744.0,674.3 1745.0,651.6 1746.0,626.3 1746.5,613.3 1747.0,599.9 1747.7,580.0 1748.0,570.8 1748.8,546.7 1749.0,542.0 1750.0,521.5 1750.5,513.3 1751.0,506.2 1752.0,494.3 1753.0,483.4 1753.3,480.0 1754.0,472.5 1754.8,463.3 1755.0,460.2 1755.6,451.0 1756.0,447.6 1756.4,446.0 1757.0,449.2 1757.2,451.0 1757.9,463.3 1758.0,464.6 1759.0,475.0 1759.5,480.0 1760.0,485.4 1761.0,496.4 1762.0,508.9 1762.3,513.3 1763.0,526.0 1764.0,546.7 1765.0,566.1 1765.7,580.0 1766.0,586.1 1767.0,606.8 1767.3,613.3 1768.0,630.3 1769.0,654.4 1769.3,660.0 1770.0,670.7 1771.0,683.5 1772.0,694.5 1773.0,704.8 1773.2,706.8 1774.0,716.2 1775.0,725.9 1775.4,727.0 1776.0,725.3 1777.0,717.3 1777.9,708.0 1778.0,707.0 1779.0,694.5 1780.0,677.8 1780.3,672.0 1781.0,654.1 1782.0,622.3 1782.3,613.3 1783.0,593.8 1783.5,580.0 1784.0,566.0 1784.7,546.7 1785.0,538.6 1786.0,513.3 1787.0,493.4 1787.7,480.0 1788.0,473.8 1789.0,452.6 1789.3,446.7 1790.0,433.5 1790.8,420.0 1791.0,416.9 1791.9,405.0 1792.0,404.2 1792.8,399.7 1793.0,400.1 1793.7,405.0 1794.0,409.7 1794.5,420.0 1795.0,427.2 1796.0,439.8 1796.5,446.7 1797.0,454.8 1798.0,472.7 1798.4,480.0 1799.0,490.3 1800.0,508.8 1800.2,513.3 1801.0,537.2 1801.3,546.7 1802.0,567.7 1802.4,580.0 1803.0,600.0 1803.4,613.3 1804.0,632.2 1804.9,660.0 1805.0,663.1 1805.7,685.0 1806.0,694.4 1807.0,725.4 1807.2,731.1 1808.0,752.5 1809.0,777.0 1809.2,781.7 1810.0,799.8 1811.0,820.5 1811.3,826.2 1812.0,839.2 1813.0,855.2 1813.3,858.6 1814.0,864.8 1815.0,871.3 1815.3,872.7 1816.0,875.7 1816.7,877.2 1817.0,877.1 1818.0,875.0 1819.0,871.8 1819.3,870.7 1820.0,868.5 1821.0,864.2 1822.0,860.0 1822.4,858.6 1823.0,856.4 1824.0,852.9 1825.0,850.1 1825.4,849.5 1826.0,848.8 1827.0,847.9 1828.0,847.5 1828.1,847.5 1829.0,848.2 1830.0,850.3 1830.9,852.5 1831.0,852.8 1832.0,856.2 1833.0,860.7 1834.0,865.9 1834.5,868.7 1835.0,871.4 1836.0,877.8 1837.0,884.8 1837.6,888.9 1838.0,892.2 1839.0,900.3 1840.0,908.5 1840.6,913.2 1841.0,916.3 1842.0,923.8 1843.0,931.0 1844.0,937.9 1844.2,939.5 1845.0,944.4 1846.0,950.8 1847.0,956.5 1847.7,959.8 1848.0,961.1 1849.0,965.2 1850.0,968.9 1851.0,971.7 1851.7,972.9 1852.0,973.2 1853.0,974.2 1854.0,974.8 1854.8,975.0 1855.0,974.9 1856.0,974.8 1857.0,974.6 1858.0,974.3 1859.0,973.9 1860.0,973.4 1861.0,972.9 1862.0,972.4 1862.9,971.9 1863.0,971.9 1864.0,971.3 1865.0,970.7 1866.0,970.0 1867.0,969.2 1868.0,968.4 1869.0,967.6 1870.0,966.7 1871.0,965.7 1872.0,964.8 1873.0,963.8 1873.0,963.8 1874.0,962.8 1875.0,961.8 1876.0,960.7 1877.0,959.5 1878.0,958.2 1879.0,956.9 1880.0,955.4 1881.0,953.8 1881.1,953.7 1882.0,952.1 1883.0,950.0 1884.0,947.8 1885.0,945.3 1886.0,942.7 1887.0,940.0 1887.2,939.5 1888.0,937.0 1889.0,933.6 1890.0,930.0 1891.0,926.2 1892.0,922.2 1893.0,918.2 1893.2,917.3 1894.0,914.0 1895.0,909.8 1896.0,905.3 1897.0,900.7 1898.0,895.8 1899.0,890.6 1899.3,888.9 1900.0,885.0 1901.0,879.1 1902.0,872.5 1903.0,865.3 1903.3,862.6 1904.0,857.1 1905.0,847.6 1906.0,836.8 1906.4,832.3 1907.0,824.1 1908.0,808.8 1909.0,792.0 1909.0,791.8 1910.0,773.4 1911.0,753.7 1911.4,745.2 1912.0,734.7 1913.0,716.0 1913.9,700.7 1914.0,698.6 1915.0,683.4 1915.2,680.0 1916.0,662.8 1917.0,641.6 1917.1,640.0 1918.0,628.4 1919.0,618.1 1920.0,608.4 1920.5,603.0 1921.0,597.2 1922.0,585.2 1923.0,572.9 1924.0,560.7 1925.0,548.8 1925.6,542.0 1926.0,537.4 1927.0,525.8 1927.7,520.0 1928.0,518.2 1929.0,514.0 1929.2,513.8 1930.0,515.9 1930.8,520.0 1931.0,521.1 1932.0,529.1 1933.0,539.0 1933.3,542.0 1934.0,549.0 1935.0,559.5 1936.0,570.5 1937.0,581.9 1938.0,593.6 1938.8,603.0 1939.0,605.3 1940.0,616.6 1941.0,628.6 1941.8,640.0 1942.0,643.3 1943.0,663.7 1943.8,680.5 1944.0,684.4 1945.0,703.6 1946.0,721.6 1946.2,725.0 1947.0,737.8 1948.0,752.6 1948.9,765.5 1949.0,766.9 1950.0,781.1 1951.0,794.7 1951.9,806.0 1952.0,807.2 1953.0,818.6 1954.0,829.2 1954.9,838.3 1955.0,839.3 1956.0,848.7 1957.0,857.6 1958.0,866.7 1959.0,876.5 1960.0,886.3 1961.0,895.0 1962.0,902.4 1963.0,909.1 1964.0,915.2 1965.0,920.8 1965.1,921.3 1966.0,925.8 1967.0,930.5 1968.0,934.8 1969.0,938.8 1969.6,941.0 1970.0,942.5 1971.0,946.1 1972.0,949.4 1973.0,951.8 1973.1,952.0 1974.0,953.5 1975.0,955.0 1976.0,956.3 1977.0,957.4 1978.0,958.3 1979.0,959.0 1980.0,959.6 1981.0,960.2 1982.0,960.8 1983.0,961.2 1984.0,961.5 1985.0,961.7 1986.0,961.8 1987.0,961.9 1988.0,961.9 1989.0,962.0 1990.0,962.0 1990.4,962.0 1991.0,962.0 1992.0,961.7 1993.0,961.3 1994.0,960.7 1995.0,960.1 1995.7,959.6 1996.0,959.4 1997.0,958.6 1998.0,957.6 1999.0,956.4 2000.0,954.9 2001.0,953.2 2001.1,953.1 2002.0,950.9 2003.0,947.6 2004.0,943.8 2004.6,941.2 2005.0,939.6 2006.0,934.6 2007.0,929.1 2007.6,925.7 2008.0,923.6 2009.0,918.0 2010.0,912.3 2010.6,909.0 2011.0,906.9 2012.0,901.2 2013.0,896.1 2013.6,893.6 2014.0,891.9 2015.0,888.1 2016.0,885.1 2016.5,884.0 2017.0,883.4 2018.0,882.1 2019.0,881.1 2020.0,880.6 2020.5,880.5 2021.0,880.6 2022.0,881.2 2023.0,882.4 2024.0,883.8 2024.9,885.2 2025.0,885.5 2026.0,888.0 2027.0,891.4 2028.0,895.4 2028.5,897.1 2029.0,899.4 2030.0,904.0 2031.0,908.9 2032.0,913.7 2032.0,913.8 2033.0,918.4 2034.0,923.2 2035.0,927.8 2035.6,930.5 2036.0,932.2 2037.0,936.5 2038.0,940.5 2039.0,944.2 2039.2,944.8 2040.0,947.4 2041.0,950.3 2042.0,953.0 2043.0,955.8 2043.3,956.7 2044.0,958.6 2045.0,961.5 2046.0,964.4 2047.0,967.1 2048.0,969.5 2048.1,969.8 2049.0,971.6 2050.0,973.5 2051.0,975.2 2052.0,976.8 2052.9,978.1 2053.0,978.3 2054.0,979.8 2055.0,981.2 2056.0,982.5 2057.0,983.5 2057.6,984.0 2058.0,984.3 2059.0,984.9 2060.0,985.5 2061.0,985.9 2062.0,986.3 2062.4,986.4 2063.0,986.6 2064.0,987.0 2065.0,987.3 2066.0,987.5 2067.0,987.6 2067.1,987.6 2068.0,987.6 2069.0,987.3 2070.0,987.0 2071.0,986.6 2072.0,986.2 2073.0,985.9 2073.1,985.8 2074.0,985.5 2075.0,985.1 2076.0,984.6 2077.0,984.2 2078.0,983.8 2079.0,983.5 2079.1,983.5 2080.0,983.2 2081.0,982.9 2082.0,982.7 2083.0,982.5 2084.0,982.3 2085.0,982.3 2086.0,982.4 2087.0,982.7 2088.0,983.2 2089.0,983.8 2090.0,984.3 2090.9,984.6 2091.0,984.7 2092.0,984.9 2093.0,985.1 2094.0,985.3 2095.0,985.6 2095.7,985.8 2096.0,985.9 2097.0,986.5 2098.0,987.2 2099.0,988.0 2100.0,988.6 2100.5,988.8 2101.0,989.0 2102.0,989.4 2103.0,989.8 2104.0,990.2 2105.0,990.4 2106.0,990.6 2106.4,990.6 2107.0,990.6 2108.0,990.6 2109.0,990.6 2110.0,990.6 2111.0,990.6 2112.0,990.6 2113.0,990.6 2113.6,990.6 2114.0,990.6 2115.0,990.3 2116.0,989.8 2117.0,989.3 2118.0,989.1 2118.3,989.0 2119.0,989.0 2120.0,989.0 2121.0,989.0 2122.0,989.0 2123.0,989.0 2124.0,989.0 2125.0,989.0 2126.0,989.0 2126.7,989.0 2127.0,989.1 2128.0,989.5 2129.0,990.2 2130.0,991.0 2131.0,991.6 2131.4,991.8 2132.0,992.0 2133.0,992.2 2134.0,992.4 2135.0,992.6 2136.0,992.9 2136.2,993.0 2137.0,993.3 2138.0,994.0 2139.0,994.6 2140.0,995.2 2140.9,995.4 2141.0,995.4 2142.0,995.3 2143.0,995.2 2144.0,995.1 2145.0,994.9 2145.7,994.8 2146.0,994.7 2147.0,994.3 2148.0,993.7 2149.0,993.1 2150.0,992.6 2150.5,992.4 2151.0,992.2 2152.0,992.0 2153.0,991.8 2154.0,991.5 2155.0,991.3 2155.2,991.2 2156.0,990.9 2157.0,990.4 2158.0,989.8 2158.8,989.4 2159.0,989.3 2160.0,988.8 2161.0,988.3" stroke="#0000ff" stroke-width="7.0"/>
<path d="M173.0,693.0 174.0,693.3 174.8,693.6 175.0,693.6 176.0,693.9 177.0,694.2 178.0,694.4 179.0,694.7 180.0,695.0 181.0,695.2 182.0,695.5 183.0,695.8 184.0,696.1 185.0,696.4 185.9,696.8 186.0,696.8 187.0,697.2 188.0,697.7 189.0,698.2 190.0,698.7 191.0,699.3 192.0,699.9 193.0,700.5 194.0,701.1 195.0,701.6 196.0,702.2 197.0,702.7 197.1,702.7 198.0,703.2 199.0,703.7 200.0,704.2 201.0,704.7 202.0,705.2 203.0,705.6 204.0,706.0 205.0,706.3 205.7,706.4 206.0,706.5 207.0,706.6 208.0,706.8 209.0,706.9 210.0,707.0 211.0,707.1 212.0,707.1 213.0,707.1 213.1,707.1 214.0,707.1 215.0,707.0 216.0,706.8 217.0,706.5 218.0,706.1 219.0,705.8 220.0,705.4 221.0,705.0 221.8,704.7 222.0,704.6 223.0,704.1 224.0,703.6 225.0,703.0 226.0,702.4 227.0,701.8 228.0,701.1 229.0,700.4 230.0,699.7 231.0,699.0 231.6,698.5 232.0,698.3 233.0,697.5 234.0,696.7 235.0,695.9 236.0,695.1 237.0,694.3 238.0,693.5 239.0,692.7 240.0,692.0 241.0,691.4 241.5,691.1 242.0,690.8 243.0,690.3 244.0,689.7 245.0,689.2 246.0,688.7 247.0,688.4 248.0,688.1 248.9,687.9 249.0,687.9 250.0,687.8 251.0,687.7 252.0,687.6 253.0,687.5 254.0,687.4 255.0,687.4 256.0,687.4 256.3,687.4 257.0,687.4 258.0,687.6 259.0,688.0 260.0,688.4 261.0,688.9 262.0,689.4 263.0,690.0 263.8,690.4 264.0,690.5 265.0,691.1 266.0,691.7 267.0,692.4 268.0,693.1 269.0,693.9 270.0,694.6 271.0,695.2 271.2,695.3 272.0,695.8 273.0,696.5 274.0,697.2 275.0,697.8 276.0,698.4 277.0,698.9 278.0,699.2 278.6,699.2 279.0,699.3 280.0,699.4 281.0,699.5 282.0,699.5 283.0,699.6 284.0,699.6 285.0,699.7 286.0,699.7 287.0,699.7 288.0,699.7 288.5,699.7 289.0,699.7 290.0,699.5 291.0,699.2 292.0,698.8 293.0,698.3 294.0,697.8 295.0,697.2 296.0,696.6 297.0,696.1 297.1,696.0 298.0,695.5 299.0,694.9 300.0,694.2 301.0,693.5 302.0,692.8 303.0,692.1 304.0,691.5 305.0,691.0 305.8,690.6 306.0,690.5 307.0,690.1 308.0,689.7 309.0,689.3 310.0,688.9 311.0,688.6 312.0,688.4 313.0,688.2 313.2,688.1 314.0,688.0 315.0,687.9 316.0,687.7 317.0,687.6 318.0,687.5 319.0,687.4 320.0,687.4 320.6,687.4 321.0,687.4 322.0,687.4 323.0,687.5 324.0,687.7 325.0,687.8 326.0,688.0 327.0,688.1 328.0,688.2 329.0,688.3 330.0,688.4 330.4,688.4 331.0,688.4 332.0,688.3 333.0,688.2 334.0,688.1 335.0,687.9 336.0,687.8 337.0,687.7 338.0,687.5 339.0,687.4 340.0,687.4 340.3,687.4 341.0,687.4 342.0,687.4 343.0,687.4 344.0,687.4 345.0,687.4 346.0,687.4 347.0,687.4 348.0,687.4 349.0,687.4 350.0,687.4 350.2,687.4 351.0,687.3 352.0,687.2 353.0,686.9 354.0,686.6 355.0,686.2 356.0,685.7 357.0,685.2 357.6,684.9 358.0,684.7 359.0,684.0 360.0,683.1 361.0,682.2 362.0,681.1 363.0,680.2 363.8,679.5 364.0,679.3 365.0,678.5 366.0,677.7 367.0,676.9 368.0,676.1 369.0,675.5 370.0,675.0 370.0,675.0 371.0,674.7 372.0,674.4 373.0,674.2 374.0,674.0 375.0,673.8 376.0,673.5 377.0,673.2 377.4,673.1 378.0,672.8 379.0,672.2 380.0,671.4 381.0,670.4 382.0,669.3 382.3,668.9 383.0,667.8 384.0,665.6 385.0,662.8 386.0,659.7 387.0,656.2 387.3,655.3 388.0,652.5 389.0,648.1 390.0,643.1 391.0,638.0 391.0,637.9 392.0,632.2 393.0,626.1 394.0,619.5 394.2,618.2 395.0,612.3 396.0,604.5 397.0,597.0 397.1,596.0 398.0,590.6 399.0,584.8 400.0,579.0 400.9,573.8 401.0,572.8 402.0,565.7 403.0,558.4 404.0,551.9 404.1,551.5 405.0,546.5 406.0,541.7 407.0,537.4 407.5,535.5 408.0,533.8 409.0,530.3 410.0,527.6 410.7,526.3 411.0,526.0 412.0,525.1 413.0,524.3 414.0,523.9 414.4,523.9 415.0,524.0 416.0,525.1 417.0,526.9 418.0,529.0 418.1,529.3 419.0,531.7 420.0,535.6 421.0,540.1 421.9,544.1 422.0,544.8 423.0,549.8 424.0,555.2 425.0,560.8 425.6,563.9 426.0,566.2 427.0,571.7 428.0,577.1 429.0,582.3 429.3,583.6 430.0,587.3 431.0,592.1 432.0,596.8 433.0,600.9 433.0,601.1 434.0,605.1 435.0,609.0 436.0,612.5 436.7,614.5 437.0,615.4 438.0,618.1 439.0,620.6 440.0,622.8 441.0,624.6 441.6,625.6 442.0,626.2 443.0,627.6 444.0,629.0 445.0,630.0 446.0,630.8 446.6,631.1 447.0,631.2 448.0,631.5 449.0,631.7 450.0,631.8 450.3,631.8 451.0,631.7 452.0,631.1 453.0,630.3 454.0,629.3 455.0,628.3 455.2,628.1 456.0,627.3 457.0,626.1 458.0,624.8 459.0,623.4 460.0,622.1 460.1,621.9 461.0,620.9 462.0,619.6 463.0,618.3 464.0,617.0 465.0,615.9 465.1,615.8 466.0,614.7 467.0,613.6 468.0,612.5 469.0,611.5 470.0,610.8 470.0,610.8 471.0,610.2 472.0,609.7 473.0,609.3 474.0,609.1 474.2,609.1 475.0,609.2 476.0,609.7 477.0,610.5 478.0,611.4 478.7,612.0 479.0,612.4 480.0,613.9 481.0,615.8 482.0,618.1 483.0,620.4 483.1,620.7 484.0,622.9 485.0,625.7 486.0,628.7 487.0,632.0 487.3,633.0 488.0,635.5 489.0,639.6 490.0,643.8 491.0,647.8 491.0,647.9 492.0,651.5 493.0,655.1 494.0,658.6 495.0,662.0 496.0,665.2 496.0,665.3 497.0,668.5 498.0,671.8 499.0,674.9 500.0,677.8 500.9,680.0 501.0,680.2 502.0,682.3 503.0,684.3 504.0,686.1 505.0,687.6 505.9,688.6 506.0,688.8 507.0,689.8 508.0,690.7 509.0,691.5 510.0,692.2 511.0,692.6 512.0,692.8 512.0,692.8 513.0,692.9 514.0,692.9 515.0,692.9 516.0,693.0 517.0,693.0 518.0,693.0 519.0,693.0 520.0,693.1 521.0,693.1 522.0,693.1 523.0,693.1 523.1,693.1 524.0,693.1 525.0,693.0 526.0,693.0 527.0,692.9 528.0,692.8 529.0,692.7 530.0,692.6 531.0,692.5 532.0,692.4 533.0,692.2 534.0,692.1 535.0,691.9 535.5,691.8 536.0,691.8 537.0,691.5 538.0,691.3 539.0,690.9 540.0,690.6 541.0,690.2 542.0,689.8 543.0,689.4 544.0,689.1 545.0,688.7 545.4,688.6 546.0,688.4 547.0,688.1 548.0,687.8 549.0,687.4 550.0,687.1 551.0,686.8 552.0,686.5 553.0,686.3 554.0,686.2 554.0,686.2 555.0,686.1 556.0,686.0 557.0,685.9 558.0,685.8 559.0,685.8 560.0,685.7 561.0,685.7 562.0,685.7 562.7,685.7 563.0,685.7 564.0,685.8 565.0,686.0 566.0,686.3 567.0,686.6 568.0,687.0 569.0,687.4 570.0,687.9 570.1,687.9 571.0,688.4 572.0,689.1 573.0,690.0 574.0,690.9 575.0,691.8 576.0,692.6 577.0,693.3 577.5,693.6 578.0,693.8 579.0,694.2 580.0,694.6 581.0,694.9 582.0,695.2 583.0,695.5 584.0,695.8 584.9,696.0 585.0,696.1 586.0,696.3 587.0,696.6 588.0,696.8 589.0,697.0 590.0,697.3 591.0,697.5 592.0,697.7 593.0,697.9 594.0,698.0 595.0,698.2 596.0,698.3 597.0,698.5 597.2,698.5 598.0,698.6 599.0,698.7 600.0,698.8 601.0,698.8 602.0,698.9 603.0,699.0 604.0,699.0 605.0,699.1 606.0,699.1 607.0,699.2 608.0,699.3 609.0,699.4 610.0,699.5 611.0,699.6 612.0,699.7 612.1,699.7 613.0,700.0 614.0,700.4 615.0,700.8 616.0,701.3 617.0,701.8 618.0,702.2 618.2,702.2 619.0,702.4 620.0,702.6 621.0,702.8 622.0,702.9 623.0,702.9 623.2,703.0 624.0,702.9 625.0,702.5 626.0,701.9 627.0,701.3 628.0,700.6 629.0,700.0 629.4,699.7 630.0,699.4 631.0,698.7 632.0,698.1 633.0,697.4 634.0,696.8 635.0,696.2 636.0,695.6 636.8,695.3 637.0,695.2 638.0,694.8 639.0,694.4 640.0,694.0 641.0,693.7 642.0,693.4 643.0,693.1 644.0,692.9 645.0,692.8 645.4,692.8 646.0,692.8 647.0,693.0 648.0,693.2 649.0,693.4 650.0,693.8 651.0,694.1 652.0,694.5 652.8,694.8 653.0,694.9 654.0,695.3 655.0,696.0 656.0,696.7 657.0,697.4 658.0,698.0 659.0,698.6 660.0,698.9 660.2,699.0 661.0,699.1 662.0,699.3 663.0,699.5 664.0,699.6 665.0,699.7 666.0,699.7 666.4,699.7 667.0,699.7 668.0,699.6 669.0,699.4 670.0,699.2 671.0,698.8 672.0,698.5 673.0,698.1 673.8,697.8 674.0,697.7 675.0,697.2 676.0,696.5 677.0,695.7 678.0,694.8 679.0,694.0 680.0,693.2 681.0,692.5 681.2,692.3 682.0,691.9 683.0,691.3 684.0,690.7 685.0,690.1 686.0,689.6 687.0,689.2 688.0,688.9 688.7,688.9 689.0,688.9 690.0,688.8 691.0,688.8 692.0,688.8 693.0,688.7 694.0,688.7 695.0,688.7 696.0,688.7 697.0,688.7 698.0,688.7 699.0,688.6 700.0,688.6 701.0,688.6 702.0,688.6 702.4,688.6 703.0,688.7 704.0,688.8 705.0,689.1 706.0,689.5 707.0,689.9 708.0,690.4 709.0,690.9 710.0,691.3 711.0,691.8 712.0,692.2 712.2,692.3 713.0,692.6 714.0,693.1 715.0,693.6 716.0,694.1 717.0,694.6 718.0,695.0 719.0,695.4 720.0,695.7 721.0,696.0 722.0,696.0 722.1,696.0 723.0,696.0 724.0,696.0 725.0,696.0 726.0,696.0 727.0,696.0 728.0,696.0 729.0,696.0 730.0,696.0 731.0,696.0 732.0,696.0 733.0,696.0 734.0,696.0 735.0,696.0 736.0,696.0 736.9,696.0 737.0,696.0 738.0,695.9 739.0,695.5 740.0,695.0 741.0,694.3 742.0,693.6 743.0,692.8 744.0,692.1 745.0,691.4 746.0,690.9 746.8,690.6 747.0,690.5 748.0,690.3 749.0,690.0 750.0,689.7 751.0,689.5 752.0,689.3 753.0,689.2 754.0,689.1 754.2,689.1 755.0,689.1 756.0,689.1 757.0,689.1 758.0,689.1 759.0,689.1 760.0,689.1 761.0,689.1 762.0,689.1 763.0,689.1 764.0,689.1 764.1,689.1 765.0,688.9 766.0,688.3 767.0,687.3 768.0,686.0 769.0,684.5 770.0,682.9 770.3,682.5 771.0,681.1 772.0,678.6 773.0,675.5 774.0,672.1 775.0,668.5 775.2,667.6 776.0,664.4 777.0,659.6 778.0,654.4 779.0,649.7 779.4,647.9 780.0,645.7 781.0,641.9 782.0,638.5 783.0,635.4 783.9,633.0 784.0,632.7 785.0,630.4 786.0,628.2 787.0,626.3 788.0,624.8 788.3,624.4 789.0,623.6 790.0,622.4 791.0,621.4 792.0,620.8 792.5,620.7 793.0,620.7 794.0,620.8 795.0,620.9 796.0,621.1 796.2,621.2 797.0,621.6 798.0,622.9 799.0,624.7 800.0,626.7 800.7,628.1 801.0,628.8 802.0,631.4 803.0,634.5 804.0,637.8 805.0,641.1 805.6,642.9 806.0,644.1 807.0,647.2 808.0,650.4 809.0,653.3 810.0,655.6 810.5,656.5 811.0,657.1 812.0,658.4 813.0,659.5 814.0,660.4 815.0,661.0 816.0,661.5 816.0,661.5 817.0,661.7 818.0,661.9 819.0,662.0 820.0,662.1 821.0,662.3 822.0,662.4 823.0,662.6 823.4,662.7 824.0,662.9 825.0,663.2 826.0,663.6 827.0,664.1 828.0,664.7 829.0,665.2 830.0,665.9 830.8,666.4 831.0,666.5 832.0,667.4 833.0,668.6 834.0,669.9 835.0,671.0 836.0,671.8 837.0,672.1 837.0,672.1 838.0,672.1 839.0,672.1 840.0,672.1 841.0,672.1 842.0,672.1 843.0,672.1 844.0,672.1 844.4,672.1 845.0,672.0 846.0,671.7 847.0,671.2 848.0,670.5 849.0,669.7 850.0,669.0 851.0,668.2 851.8,667.6 852.0,667.5 853.0,666.9 854.0,666.3 855.0,665.7 856.0,665.1 857.0,664.4 858.0,663.7 859.0,662.9 859.2,662.7 860.0,662.0 861.0,660.9 862.0,659.7 863.0,658.5 864.0,657.2 865.0,655.9 866.0,654.7 866.6,654.0 867.0,653.6 868.0,652.6 869.0,651.5 870.0,650.5 871.0,649.4 872.0,648.5 873.0,647.5 874.0,646.7 874.0,646.6 875.0,645.8 876.0,644.9 877.0,644.0 878.0,643.2 879.0,642.6 880.0,642.2 880.2,642.2 881.0,642.1 882.0,642.0 883.0,641.9 884.0,641.8 885.0,641.7 886.0,641.7 886.4,641.7 887.0,641.7 888.0,641.7 889.0,641.8 890.0,642.0 891.0,642.1 892.0,642.3 892.6,642.4 893.0,642.6 894.0,643.5 895.0,644.8 896.0,646.5 897.0,648.3 897.5,649.1 898.0,649.9 899.0,651.8 900.0,653.8 901.0,655.9 902.0,658.0 902.5,659.0 903.0,660.2 904.0,662.5 905.0,664.9 906.0,667.2 907.0,669.3 907.4,670.1 908.0,671.2 909.0,673.1 910.0,674.8 911.0,676.5 912.0,678.0 913.0,679.3 913.6,680.0 914.0,680.4 915.0,681.5 916.0,682.5 917.0,683.4 918.0,684.2 919.0,684.9 920.0,685.6 921.0,686.2 921.0,686.2 922.0,686.7 923.0,687.2 924.0,687.6 925.0,688.0 926.0,688.3 927.0,688.6 927.1,688.6 928.0,688.8 929.0,689.0 930.0,689.1 931.0,689.3 932.0,689.4 933.0,689.6 934.0,689.7 934.6,689.9 935.0,690.0 936.0,690.3 937.0,690.7 938.0,691.1 939.0,691.6 940.0,692.0 941.0,692.4 942.0,692.8 942.0,692.8 943.0,693.2 944.0,693.6 945.0,694.0 946.0,694.4 947.0,694.8 948.0,695.2 949.0,695.5 950.0,695.8 951.0,696.0 951.9,696.0 952.0,696.0 953.0,696.1 954.0,696.2 955.0,696.2 956.0,696.3 957.0,696.3 958.0,696.4 959.0,696.4 960.0,696.4 961.0,696.5 962.0,696.5 963.0,696.5 964.0,696.5 965.0,696.5 966.0,696.5 966.7,696.5 967.0,696.5 968.0,696.5 969.0,696.5 970.0,696.5 971.0,696.5 972.0,696.5 973.0,696.4 974.0,696.4 975.0,696.4 976.0,696.3 977.0,696.3 978.0,696.2 979.0,696.2 980.0,696.1 981.0,696.1 981.5,696.0 982.0,696.0 983.0,695.9 984.0,695.8 985.0,695.7 986.0,695.6 987.0,695.5 988.0,695.3 989.0,695.2 990.0,695.0 991.0,694.8 992.0,694.6 993.0,694.5 993.9,694.3 994.0,694.3 995.0,694.1 996.0,693.9 997.0,693.7 998.0,693.5 999.0,693.3 1000.0,693.1 1001.0,692.8 1002.0,692.5 1002.5,692.3 1003.0,692.1 1004.0,691.7 1005.0,691.2 1006.0,690.5 1007.0,689.8 1008.0,689.0 1009.0,688.2 1009.9,687.4 1010.0,687.3 1011.0,686.3 1012.0,685.1 1013.0,683.7 1014.0,682.2 1015.0,680.6 1016.0,678.9 1016.1,678.8 1017.0,677.1 1018.0,675.2 1019.0,673.1 1020.0,670.9 1021.0,668.5 1022.0,665.9 1022.3,665.2 1023.0,663.0 1024.0,659.5 1025.0,655.8 1026.0,652.1 1027.0,648.5 1027.2,647.9 1028.0,645.3 1029.0,642.1 1030.0,639.0 1031.0,636.1 1032.0,633.4 1032.1,633.0 1033.0,630.8 1034.0,628.2 1035.0,625.8 1036.0,623.7 1037.0,622.0 1037.1,621.9 1038.0,620.7 1039.0,619.4 1040.0,618.4 1041.0,617.5 1042.0,617.0 1042.0,617.0 1043.0,616.7 1044.0,616.4 1045.0,616.3 1045.7,616.2 1046.0,616.3 1047.0,616.7 1048.0,617.5 1049.0,618.6 1050.0,619.8 1050.7,620.7 1051.0,621.1 1052.0,622.9 1053.0,625.1 1054.0,627.6 1055.0,630.2 1055.6,631.8 1056.0,632.8 1057.0,635.8 1058.0,638.9 1059.0,642.1 1060.0,645.1 1060.5,646.6 1061.0,647.8 1062.0,650.5 1063.0,653.1 1064.0,655.7 1065.0,658.0 1066.0,660.1 1066.7,661.5 1067.0,661.9 1068.0,663.5 1069.0,665.0 1070.0,666.4 1071.0,667.7 1072.0,668.9 1073.0,670.1 1074.0,671.2 1074.1,671.3 1075.0,672.3 1076.0,673.4 1077.0,674.5 1078.0,675.6 1079.0,676.6 1080.0,677.5 1081.0,678.3 1082.0,679.0 1082.8,679.5 1083.0,679.6 1084.0,680.1 1085.0,680.6 1086.0,681.0 1087.0,681.5 1088.0,681.8 1089.0,682.1 1090.0,682.3 1091.0,682.4 1091.4,682.5 1092.0,682.5 1093.0,682.5 1094.0,682.5 1095.0,682.5 1096.0,682.5 1097.0,682.5 1098.0,682.5 1098.8,682.5 1099.0,682.4 1100.0,682.3 1101.0,682.0 1102.0,681.6 1103.0,681.0 1104.0,680.3 1105.0,679.6 1106.0,678.9 1106.2,678.8 1107.0,678.1 1108.0,677.0 1109.0,675.6 1110.0,674.2 1111.0,672.9 1112.0,671.7 1112.4,671.3 1113.0,670.9 1114.0,670.1 1115.0,669.3 1116.0,668.7 1117.0,668.3 1117.4,668.1 1118.0,667.9 1119.0,667.6 1120.0,667.3 1121.0,667.2 1121.8,667.1 1122.0,667.1 1123.0,667.3 1124.0,667.5 1125.0,667.9 1126.0,668.3 1127.0,668.8 1127.2,668.9 1128.0,669.2 1129.0,669.8 1130.0,670.4 1131.0,671.2 1132.0,671.9 1133.0,672.7 1133.4,673.1 1134.0,673.5 1135.0,674.4 1136.0,675.4 1137.0,676.4 1138.0,677.4 1139.0,678.3 1139.6,678.8 1140.0,679.0 1141.0,679.8 1142.0,680.6 1143.0,681.4 1144.0,682.0 1145.0,682.4 1145.8,682.5 1146.0,682.5 1147.0,682.5 1148.0,682.5 1149.0,682.5 1149.5,682.5 1150.0,682.4 1151.0,682.1 1152.0,681.7 1153.0,681.1 1154.0,680.4 1155.0,679.8 1155.7,679.5 1156.0,679.3 1157.0,678.8 1158.0,678.2 1159.0,677.7 1160.0,677.1 1161.0,676.7 1162.0,676.4 1163.0,676.3 1163.1,676.3 1164.0,676.3 1165.0,676.3 1166.0,676.3 1167.0,676.3 1168.0,676.3 1169.0,676.3 1170.0,676.3 1171.0,676.3 1171.7,676.3 1172.0,676.3 1173.0,676.3 1174.0,676.2 1175.0,676.2 1176.0,676.1 1177.0,676.1 1178.0,676.0 1179.0,675.9 1180.0,675.8 1180.4,675.8 1181.0,675.7 1182.0,675.5 1183.0,675.2 1184.0,674.8 1185.0,674.4 1186.0,674.0 1187.0,673.5 1188.0,673.0 1189.0,672.6 1189.0,672.6 1190.0,672.0 1191.0,671.4 1192.0,670.7 1193.0,669.9 1194.0,669.2 1195.0,668.5 1196.0,667.9 1197.0,667.4 1197.4,667.3 1198.0,667.1 1199.0,666.8 1200.0,666.5 1201.0,666.3 1202.0,666.1 1203.0,665.9 1204.0,665.7 1204.8,665.6 1205.0,665.5 1206.0,665.4 1207.0,665.2 1208.0,665.1 1209.0,665.0 1210.0,664.8 1211.0,664.6 1212.0,664.4 1212.2,664.3 1213.0,664.1 1214.0,663.5 1215.0,662.9 1216.0,662.0 1217.0,661.0 1218.0,659.9 1218.4,659.4 1219.0,658.6 1220.0,656.8 1221.0,654.4 1222.0,651.6 1223.0,648.3 1223.3,647.0 1224.0,644.1 1225.0,637.8 1226.0,630.4 1227.0,622.8 1227.1,622.3 1228.0,615.3 1229.0,607.4 1230.0,599.2 1230.8,592.7 1231.0,590.6 1232.0,581.5 1233.0,572.1 1234.0,562.5 1234.5,558.1 1235.0,553.2 1236.0,543.8 1237.0,534.5 1238.0,525.1 1238.2,523.5 1239.0,515.6 1240.0,505.9 1241.0,496.6 1241.9,488.9 1242.0,487.9 1243.0,480.0 1244.0,472.4 1245.0,465.5 1245.6,461.8 1246.0,459.2 1247.0,453.1 1248.0,447.6 1249.0,443.1 1249.3,442.0 1250.0,439.6 1251.0,436.6 1252.0,434.4 1252.2,434.1 1253.0,433.2 1254.0,432.3 1254.7,432.1 1255.0,432.2 1256.0,433.7 1257.0,436.4 1257.9,439.5 1258.0,439.8 1259.0,444.6 1260.0,451.4 1261.0,459.2 1261.6,464.2 1262.0,467.1 1263.0,476.1 1264.0,485.7 1265.0,495.5 1265.3,498.8 1266.0,504.9 1267.0,514.2 1268.0,523.6 1269.0,532.9 1269.0,533.4 1270.0,542.4 1271.0,551.9 1272.0,561.2 1272.8,568.0 1273.0,570.0 1274.0,578.5 1275.0,586.5 1276.0,594.2 1276.5,597.6 1277.0,601.6 1278.0,608.8 1279.0,615.6 1280.0,621.5 1280.2,622.3 1281.0,626.4 1282.0,630.9 1283.0,634.7 1283.9,637.1 1284.0,637.5 1285.0,639.7 1286.0,641.5 1287.0,642.9 1287.6,643.3 1288.0,643.6 1289.0,644.0 1289.6,644.1 1290.0,644.0 1291.0,643.0 1292.0,641.3 1293.0,639.0 1293.3,638.4 1294.0,635.5 1295.0,629.4 1296.0,623.2 1296.2,622.3 1297.0,618.1 1298.0,613.4 1299.0,608.8 1300.0,604.2 1300.4,602.6 1301.0,599.7 1302.0,595.2 1303.0,590.8 1304.0,586.4 1304.8,582.8 1305.0,582.0 1306.0,577.4 1307.0,572.8 1308.0,568.3 1309.0,564.0 1309.2,563.0 1310.0,560.1 1311.0,556.3 1312.0,552.7 1313.0,549.5 1313.5,548.2 1314.0,546.7 1315.0,543.9 1316.0,541.5 1317.0,539.8 1317.2,539.6 1318.0,538.7 1319.0,537.8 1320.0,537.0 1321.0,536.4 1322.0,536.0 1322.9,535.9 1323.0,535.9 1324.0,536.0 1325.0,536.5 1326.0,537.1 1327.0,538.0 1328.0,538.9 1328.6,539.6 1329.0,540.1 1330.0,542.2 1331.0,544.9 1332.0,548.1 1332.8,550.7 1333.0,551.3 1334.0,554.9 1335.0,558.8 1336.0,562.9 1337.0,567.0 1337.2,568.0 1338.0,570.9 1339.0,574.8 1340.0,578.8 1341.0,582.8 1342.0,586.9 1342.2,587.8 1343.0,591.3 1344.0,595.8 1345.0,600.4 1346.0,605.0 1347.0,609.4 1347.1,610.0 1348.0,613.7 1349.0,617.9 1350.0,622.0 1351.0,626.0 1352.0,629.9 1353.0,633.6 1353.3,634.7 1354.0,637.1 1355.0,640.5 1356.0,643.8 1357.0,647.0 1358.0,650.1 1359.0,653.1 1359.5,654.5 1360.0,656.0 1361.0,659.1 1362.0,662.1 1363.0,664.7 1364.0,666.6 1364.2,666.8 1365.0,667.8 1366.0,669.0 1367.0,670.0 1368.0,670.8 1369.0,671.4 1370.0,671.7 1370.3,671.7 1371.0,671.7 1372.0,671.7 1373.0,671.7 1374.0,671.7 1375.0,671.7 1376.0,671.7 1377.0,671.7 1377.8,671.7 1378.0,671.7 1379.0,671.6 1380.0,671.2 1381.0,670.7 1382.0,670.2 1383.0,669.6 1384.0,669.2 1385.0,668.8 1385.2,668.8 1386.0,668.6 1387.0,668.3 1388.0,668.1 1389.0,667.9 1390.0,667.7 1391.0,667.5 1392.0,667.4 1393.0,667.3 1393.8,667.3 1394.0,667.3 1395.0,667.4 1396.0,667.7 1397.0,668.1 1398.0,668.5 1399.0,668.8 1400.0,669.1 1401.0,669.3 1401.2,669.3 1402.0,669.3 1403.0,669.2 1404.0,669.2 1405.0,669.1 1406.0,669.1 1407.0,669.0 1408.0,668.8 1408.6,668.8 1409.0,668.7 1410.0,668.3 1411.0,667.5 1412.0,666.5 1413.0,665.4 1414.0,664.1 1414.8,663.1 1415.0,662.8 1416.0,661.3 1417.0,659.3 1418.0,657.1 1419.0,654.7 1420.0,652.1 1421.0,649.5 1421.0,649.5 1422.0,646.4 1423.0,643.0 1424.0,639.3 1425.0,635.5 1425.9,632.2 1426.0,631.9 1427.0,628.4 1428.0,624.9 1429.0,621.4 1430.0,617.9 1430.9,614.9 1431.0,614.4 1432.0,610.8 1433.0,607.1 1434.0,603.9 1434.6,602.6 1435.0,601.7 1436.0,599.9 1437.0,598.4 1438.0,597.3 1438.3,597.1 1439.0,596.7 1440.0,596.2 1441.0,595.9 1441.5,595.9 1442.0,596.0 1443.0,596.4 1444.0,597.1 1445.0,598.1 1445.7,598.9 1446.0,599.3 1447.0,601.3 1448.0,604.0 1449.0,607.2 1449.9,610.0 1450.0,610.4 1451.0,613.9 1452.0,617.9 1453.0,622.0 1454.0,626.0 1454.3,627.3 1455.0,629.7 1456.0,633.4 1457.0,636.9 1458.0,640.4 1459.0,643.7 1459.3,644.6 1460.0,647.0 1461.0,650.3 1462.0,653.6 1463.0,656.5 1464.0,659.0 1464.2,659.4 1465.0,660.9 1466.0,662.6 1467.0,664.2 1468.0,665.6 1469.0,666.8 1470.0,667.7 1470.4,668.0 1471.0,668.4 1472.0,669.1 1473.0,669.7 1474.0,670.2 1475.0,670.7 1476.0,671.0 1477.0,671.2 1477.8,671.2 1478.0,671.2 1479.0,671.0 1480.0,670.5 1481.0,669.8 1482.0,668.9 1483.0,667.9 1484.0,666.8 1484.0,666.8 1485.0,665.3 1486.0,663.2 1487.0,660.6 1488.0,657.6 1488.9,654.5 1489.0,654.1 1490.0,649.4 1491.0,643.3 1492.0,636.5 1492.6,632.2 1493.0,629.5 1494.0,621.8 1495.0,613.5 1496.0,605.2 1496.3,602.6 1497.0,597.1 1498.0,588.8 1499.0,580.8 1500.0,573.1 1500.0,572.9 1501.0,565.9 1502.0,558.9 1503.0,552.5 1503.7,548.2 1504.0,546.8 1505.0,541.9 1506.0,537.4 1507.0,533.2 1508.0,529.2 1508.2,528.5 1509.0,525.2 1510.0,521.2 1511.0,517.6 1512.0,514.6 1512.4,513.6 1513.0,512.3 1514.0,510.2 1515.0,508.5 1516.0,507.5 1516.1,507.5 1517.0,507.0 1518.0,506.6 1519.0,506.3 1519.8,506.2 1520.0,506.2 1521.0,506.8 1522.0,507.9 1523.0,509.5 1524.0,511.2 1524.0,511.2 1525.0,513.5 1526.0,516.7 1527.0,520.4 1528.0,524.3 1528.4,526.0 1529.0,528.2 1530.0,532.4 1531.0,536.8 1532.0,541.5 1532.9,545.8 1533.0,546.3 1534.0,551.4 1535.0,556.8 1536.0,562.2 1537.0,567.6 1537.1,568.0 1538.0,572.6 1539.0,577.6 1540.0,582.5 1541.0,587.4 1542.0,592.5 1542.0,592.7 1543.0,597.9 1544.0,603.6 1545.0,609.3 1546.0,614.8 1547.0,619.9 1547.0,620.0 1548.0,624.9 1549.0,629.6 1550.0,634.1 1551.0,638.4 1551.9,642.1 1552.0,642.4 1553.0,646.4 1554.0,650.4 1555.0,654.0 1556.0,657.2 1556.8,659.4 1557.0,659.7 1558.0,661.9 1559.0,663.7 1560.0,665.1 1560.5,665.6 1561.0,665.8 1562.0,666.4 1563.0,666.7 1563.5,666.8 1564.0,666.7 1565.0,666.2 1566.0,665.4 1567.0,664.3 1568.0,663.1 1569.0,662.1 1569.2,661.9 1570.0,661.1 1571.0,660.0 1572.0,658.9 1573.0,657.8 1574.0,656.8 1575.0,656.0 1575.4,655.7 1576.0,655.3 1577.0,654.7 1578.0,654.2 1579.0,653.7 1580.0,653.3 1581.0,652.9 1582.0,652.5 1583.0,652.0 1584.0,651.5 1585.0,650.9 1585.3,650.7 1586.0,650.2 1587.0,649.4 1588.0,648.5 1589.0,647.5 1590.0,646.5 1591.0,645.4 1592.0,644.3 1593.0,643.1 1593.9,642.1 1594.0,642.0 1595.0,640.8 1596.0,639.6 1597.0,638.4 1598.0,637.1 1599.0,635.7 1600.0,634.2 1601.0,632.7 1601.3,632.2 1602.0,631.0 1603.0,629.2 1604.0,627.2 1605.0,625.1 1606.0,622.9 1607.0,620.9 1607.5,619.9 1608.0,618.8 1609.0,616.7 1610.0,614.5 1611.0,612.5 1612.0,610.7 1612.4,610.0 1613.0,609.1 1614.0,607.7 1615.0,606.4 1616.0,605.6 1616.1,605.5 1617.0,605.2 1618.0,604.8 1619.0,604.6 1619.8,604.5 1620.0,604.6 1621.0,604.8 1622.0,605.3 1623.0,606.0 1624.0,606.8 1624.8,607.5 1625.0,607.7 1626.0,609.0 1627.0,610.7 1628.0,612.7 1629.0,614.7 1629.7,616.2 1630.0,616.7 1631.0,618.8 1632.0,621.1 1633.0,623.5 1634.0,625.8 1634.7,627.3 1635.0,628.0 1636.0,630.4 1637.0,632.8 1638.0,635.2 1639.0,637.4 1640.0,639.4 1640.8,640.9 1641.0,641.1 1642.0,642.6 1643.0,644.1 1644.0,645.4 1645.0,646.6 1646.0,647.6 1647.0,648.3 1647.0,648.3 1648.0,648.8 1649.0,649.3 1650.0,649.8 1651.0,650.2 1652.0,650.5 1653.0,650.7 1653.9,650.7 1654.0,650.7 1655.0,650.6 1656.0,650.4 1657.0,650.1 1658.0,649.6 1659.0,649.1 1660.0,648.6 1660.6,648.3 1661.0,648.0 1662.0,647.4 1663.0,646.6 1664.0,645.7 1665.0,644.6 1666.0,643.3 1666.8,642.1 1667.0,641.7 1668.0,639.5 1669.0,636.5 1670.0,632.8 1671.0,628.4 1671.2,627.3 1672.0,622.6 1673.0,614.5 1674.0,604.6 1674.2,602.6 1675.0,592.5 1676.0,577.2 1676.7,566.0 1677.0,561.1 1678.0,543.3 1679.0,525.4 1679.2,522.0 1680.0,509.0 1681.0,493.4 1681.8,481.0 1682.0,477.9 1683.0,463.0 1684.0,447.8 1684.6,438.0 1685.0,430.9 1686.0,411.6 1686.6,400.0 1687.0,392.5 1688.0,374.1 1688.4,366.7 1689.0,355.4 1690.0,336.9 1690.2,333.3 1691.0,319.6 1692.0,303.2 1692.2,300.0 1693.0,286.2 1694.0,270.3 1694.3,266.7 1695.0,260.2 1696.0,252.8 1696.4,250.0 1697.0,245.7 1698.0,239.0 1698.6,236.0 1699.0,234.4 1700.0,230.9 1700.8,229.8 1701.0,229.9 1702.0,231.9 1703.0,235.3 1703.2,236.0 1704.0,239.1 1705.0,243.9 1706.0,250.0 1707.0,258.3 1707.8,266.7 1708.0,269.0 1709.0,282.2 1710.0,297.0 1710.2,300.0 1711.0,312.3 1712.0,328.4 1712.3,333.3 1713.0,344.8 1714.0,361.6 1714.3,366.7 1715.0,378.9 1716.0,396.6 1716.2,400.0 1717.0,413.0 1718.0,429.6 1718.2,433.3 1719.0,451.5 1720.0,474.8 1720.3,480.0 1721.0,489.3 1721.8,497.6 1722.0,499.5 1723.0,508.5 1724.0,515.0 1724.2,515.8 1725.0,518.2 1726.0,520.6 1727.0,521.8 1727.3,521.9 1728.0,521.3 1729.0,518.7 1730.0,515.0 1730.3,513.8 1731.0,509.9 1732.0,502.0 1733.0,493.7 1733.3,491.6 1734.0,487.3 1735.0,481.4 1735.2,480.0 1736.0,474.0 1737.0,465.5 1738.0,456.4 1739.0,447.0 1740.0,437.8 1740.5,433.3 1741.0,428.9 1742.0,420.0 1743.0,411.1 1744.0,402.5 1744.3,400.0 1745.0,394.3 1746.0,386.3 1747.0,378.5 1748.0,370.7 1748.5,366.7 1749.0,362.2 1749.7,357.0 1750.0,355.6 1750.8,353.5 1751.0,353.6 1752.0,356.0 1752.5,357.5 1753.0,359.1 1754.0,363.0 1755.0,367.0 1756.0,370.9 1757.0,374.9 1758.0,378.5 1758.5,380.0 1759.0,381.4 1760.0,384.1 1761.0,386.0 1762.0,387.3 1763.0,388.1 1763.3,388.2 1764.0,387.2 1765.0,383.0 1766.0,376.8 1767.0,369.9 1767.5,366.7 1768.0,363.6 1769.0,356.8 1770.0,349.4 1771.0,340.9 1771.8,333.3 1772.0,331.2 1773.0,318.6 1774.0,304.3 1774.3,300.0 1775.0,289.8 1776.0,274.6 1776.5,266.7 1777.0,258.6 1778.0,241.7 1778.5,233.3 1779.0,225.0 1780.0,208.2 1780.3,203.0 1781.0,189.8 1782.0,172.0 1783.0,158.1 1783.6,152.0 1784.0,148.9 1785.0,143.0 1785.3,142.0 1786.0,140.1 1787.0,138.3 1787.6,137.9 1788.0,138.1 1789.0,140.4 1790.0,144.4 1791.0,155.5 1792.0,170.7 1793.0,183.3 1794.0,195.9 1794.7,205.0 1795.0,209.0 1796.0,222.4 1796.7,233.3 1797.0,238.7 1798.0,260.0 1798.3,266.7 1799.0,282.8 1799.7,300.0 1800.0,308.0 1800.9,333.3 1801.0,336.1 1802.0,364.0 1802.1,366.7 1803.0,390.0 1803.4,400.0 1804.0,414.4 1804.8,433.3 1805.0,438.2 1806.0,463.1 1806.7,480.0 1807.0,487.1 1808.0,510.6 1808.6,521.9 1809.0,528.0 1810.0,541.1 1811.0,551.6 1811.3,554.3 1812.0,560.2 1813.0,567.4 1813.7,570.5 1814.0,571.4 1815.0,574.0 1816.0,575.4 1816.3,575.5 1817.0,574.7 1818.0,571.6 1819.0,567.7 1819.3,566.4 1820.0,564.0 1821.0,559.7 1822.0,555.6 1822.4,554.3 1823.0,552.4 1824.0,549.3 1825.0,546.6 1826.0,544.7 1826.4,544.2 1827.0,543.7 1828.0,543.0 1829.0,542.5 1830.0,542.2 1830.5,542.1 1831.0,542.2 1832.0,542.8 1833.0,543.9 1834.0,545.4 1834.5,546.2 1835.0,547.3 1836.0,550.9 1837.0,555.6 1837.6,558.3 1838.0,560.4 1839.0,565.6 1840.0,571.1 1840.6,574.5 1841.0,576.8 1842.0,582.7 1843.0,588.7 1843.6,592.8 1844.0,595.1 1845.0,601.7 1846.0,608.5 1846.7,613.0 1847.0,615.2 1848.0,622.2 1849.0,629.0 1849.7,633.2 1850.0,634.8 1851.0,639.9 1852.0,644.4 1852.8,647.4 1853.0,648.3 1854.0,651.9 1855.0,655.0 1855.8,656.5 1856.0,656.8 1857.0,658.1 1858.0,659.0 1859.0,659.5 1859.2,659.5 1860.0,659.3 1861.0,658.5 1862.0,657.4 1863.0,656.0 1864.0,654.6 1864.9,653.5 1865.0,653.3 1866.0,652.2 1867.0,651.1 1868.0,649.9 1869.0,648.8 1870.0,647.6 1871.0,646.5 1872.0,645.4 1872.0,645.3 1873.0,644.2 1874.0,643.1 1875.0,642.1 1876.0,641.0 1877.0,639.9 1878.0,638.7 1879.0,637.4 1879.1,637.3 1880.0,635.9 1881.0,634.4 1882.0,632.8 1883.0,631.2 1884.0,629.4 1885.0,627.4 1886.0,625.4 1886.1,625.1 1887.0,623.3 1888.0,620.9 1889.0,618.3 1890.0,615.6 1891.0,612.7 1892.0,609.6 1892.2,608.9 1893.0,606.3 1894.0,602.8 1895.0,598.9 1896.0,594.7 1897.0,590.0 1897.3,588.7 1898.0,584.9 1899.0,578.9 1900.0,572.3 1901.0,564.9 1901.3,562.4 1902.0,556.6 1903.0,546.9 1904.0,536.1 1904.4,532.0 1905.0,524.2 1906.0,510.8 1907.0,496.8 1907.4,491.6 1908.0,483.5 1909.0,470.5 1910.0,457.1 1910.4,451.1 1911.0,442.5 1912.0,426.5 1913.0,411.9 1913.1,410.6 1914.0,400.5 1915.0,390.5 1915.5,385.0 1916.0,379.0 1917.0,366.2 1917.5,360.0 1918.0,354.0 1919.0,342.3 1919.9,332.6 1920.0,331.6 1921.0,322.0 1922.0,313.0 1923.0,304.6 1924.0,296.6 1924.6,292.1 1925.0,289.0 1926.0,281.5 1927.0,276.0 1928.0,272.7 1928.6,271.9 1929.0,272.2 1930.0,275.0 1930.3,276.0 1931.0,279.4 1932.0,286.5 1932.7,292.1 1933.0,294.6 1934.0,304.1 1935.0,314.7 1936.0,325.5 1936.7,332.6 1937.0,335.5 1938.0,344.4 1939.0,353.5 1939.8,362.0 1940.0,364.4 1941.0,378.7 1941.8,391.0 1942.0,394.0 1943.0,409.2 1944.0,424.7 1944.4,431.0 1945.0,440.6 1946.0,456.8 1946.9,471.3 1947.0,472.9 1948.0,488.4 1949.0,503.8 1949.5,511.8 1950.0,520.2 1951.0,537.7 1951.9,552.3 1952.0,553.8 1953.0,567.9 1954.0,580.8 1955.0,592.7 1956.0,603.9 1957.0,614.3 1958.0,623.1 1959.0,630.4 1960.0,637.0 1961.0,642.7 1962.0,647.4 1963.0,651.6 1964.0,655.6 1965.0,659.1 1966.0,661.8 1967.0,663.5 1967.1,663.6 1968.0,664.4 1969.0,665.1 1970.0,665.7 1971.0,665.9 1971.3,666.0 1972.0,665.9 1973.0,665.5 1974.0,664.9 1975.0,664.1 1976.0,663.2 1977.0,662.2 1977.9,661.4 1978.0,661.3 1979.0,660.4 1980.0,659.3 1981.0,658.2 1982.0,656.9 1983.0,655.5 1983.8,654.3 1984.0,654.0 1985.0,652.1 1986.0,650.0 1987.0,647.6 1988.0,645.1 1988.6,643.6 1989.0,642.4 1990.0,639.6 1991.0,636.5 1992.0,633.1 1992.7,630.5 1993.0,629.5 1994.0,625.0 1995.0,620.4 1995.7,617.4 1996.0,616.3 1997.0,612.7 1998.0,609.3 1999.0,606.3 1999.3,605.5 2000.0,603.5 2001.0,600.9 2002.0,598.6 2003.0,596.6 2003.5,596.0 2004.0,595.2 2005.0,593.9 2006.0,592.7 2007.0,591.8 2008.0,591.4 2008.2,591.4 2009.0,591.6 2010.0,592.2 2011.0,593.2 2012.0,594.3 2012.4,594.8 2013.0,595.6 2014.0,597.6 2015.0,600.0 2016.0,602.7 2016.5,604.3 2017.0,605.6 2018.0,609.1 2019.0,612.9 2020.0,616.9 2020.1,617.4 2021.0,621.1 2022.0,625.6 2023.0,630.1 2023.1,630.5 2024.0,634.2 2025.0,638.2 2026.0,642.1 2026.7,644.8 2027.0,646.1 2028.0,650.3 2029.0,654.4 2030.0,658.2 2030.2,659.0 2031.0,661.6 2032.0,664.6 2033.0,667.5 2033.8,669.8 2034.0,670.3 2035.0,673.2 2036.0,676.1 2037.0,678.5 2037.4,679.3 2038.0,680.4 2039.0,681.9 2040.0,683.3 2041.0,684.5 2042.0,685.7 2042.1,685.8 2043.0,686.7 2044.0,687.7 2045.0,688.6 2046.0,689.5 2047.0,690.3 2048.0,691.1 2048.1,691.2 2049.0,691.9 2050.0,692.7 2051.0,693.5 2052.0,694.2 2053.0,694.8 2054.0,695.3 2054.1,695.4 2055.0,695.7 2056.0,696.2 2057.0,696.5 2058.0,696.9 2059.0,697.1 2060.0,697.3 2061.0,697.4 2061.2,697.4 2062.0,697.3 2063.0,697.0 2064.0,696.7 2065.0,696.2 2066.0,695.8 2067.0,695.4 2067.1,695.4 2068.0,695.1 2069.0,694.8 2070.0,694.5 2071.0,694.3 2072.0,694.0 2073.0,693.8 2074.0,693.6 2074.3,693.6 2075.0,693.5 2076.0,693.3 2077.0,693.2 2078.0,693.1 2079.0,693.0 2080.0,692.9 2081.0,692.8 2082.0,692.7 2083.0,692.5 2083.8,692.4 2084.0,692.3 2085.0,692.1 2086.0,691.7 2087.0,691.4 2088.0,691.0 2089.0,690.7 2089.8,690.6 2090.0,690.6 2091.0,690.5 2092.0,690.4 2093.0,690.3 2094.0,690.2 2094.5,690.2 2095.0,690.3 2096.0,690.4 2097.0,690.6 2098.0,690.8 2099.0,691.1 2100.0,691.3 2101.0,691.4 2101.7,691.4 2102.0,691.4 2103.0,691.4 2104.0,691.4 2105.0,691.4 2106.0,691.4 2107.0,691.4 2108.0,691.4 2108.8,691.4 2109.0,691.4 2110.0,691.3 2111.0,691.0 2112.0,690.6 2113.0,690.3 2114.0,690.1 2114.8,690.0 2115.0,690.0 2116.0,690.0 2117.0,690.0 2118.0,690.0 2119.0,690.0 2120.0,690.0 2120.7,690.0 2121.0,690.0 2122.0,690.1 2123.0,690.3 2124.0,690.5 2125.0,690.8 2126.0,690.9 2126.7,691.0 2127.0,691.0 2128.0,691.0 2129.0,691.0 2130.0,691.0 2131.0,691.0 2132.0,691.0 2133.0,691.0 2133.8,691.0 2134.0,691.0 2135.0,691.0 2136.0,691.2 2137.0,691.4 2138.0,691.7 2139.0,692.1 2139.8,692.4 2140.0,692.5 2141.0,693.1 2142.0,693.9 2143.0,694.9 2144.0,696.0 2145.0,697.1 2145.7,697.7 2146.0,698.0 2147.0,698.9 2148.0,699.8 2149.0,700.7 2150.0,701.6 2151.0,702.5 2151.7,703.1 2152.0,703.4 2153.0,704.2 2154.0,705.1 2155.0,705.9 2156.0,706.7 2157.0,707.6 2158.0,708.4 2158.8,709.0 2159.0,709.2 2160.0,710.0 2161.0,710.9" stroke="#ff0000" stroke-width="7.0"/>
</g>
<g stroke="#000" stroke-width="4.0" fill="none" stroke-linecap="butt">
<rect x="173.0" y="33.0" width="1988.0" height="1490.0"/>
<line x1="159.0" y1="33" x2="173.0" y2="33"/>
<line x1="146.0" y1="331" x2="173.0" y2="331"/>
<line x1="159.0" y1="629" x2="173.0" y2="629"/>
<line x1="146.0" y1="927" x2="173.0" y2="927"/>
<line x1="159.0" y1="1225" x2="173.0" y2="1225"/>
<line x1="146.0" y1="1523" x2="173.0" y2="1523"/>
<line x1="173.00" y1="1523.0" x2="173.00" y2="1548.0"/>
<line x1="297.25" y1="1523.0" x2="297.25" y2="1535.0"/>
<line x1="421.50" y1="1523.0" x2="421.50" y2="1548.0"/>
<line x1="545.75" y1="1523.0" x2="545.75" y2="1535.0"/>
<line x1="670.00" y1="1523.0" x2="670.00" y2="1548.0"/>
<line x1="794.25" y1="1523.0" x2="794.25" y2="1535.0"/>
<line x1="918.50" y1="1523.0" x2="918.50" y2="1548.0"/>
<line x1="1042.75" y1="1523.0" x2="1042.75" y2="1535.0"/>
<line x1="1167.00" y1="1523.0" x2="1167.00" y2="1548.0"/>
<line x1="1291.25" y1="1523.0" x2="1291.25" y2="1535.0"/>
<line x1="1415.50" y1="1523.0" x2="1415.50" y2="1548.0"/>
<line x1="1539.75" y1="1523.0" x2="1539.75" y2="1535.0"/>
<line x1="1664.00" y1="1523.0" x2="1664.00" y2="1548.0"/>
<line x1="1788.25" y1="1523.0" x2="1788.25" y2="1535.0"/>
<line x1="1912.50" y1="1523.0" x2="1912.50" y2="1548.0"/>
<line x1="2036.75" y1="1523.0" x2="2036.75" y2="1535.0"/>
<line x1="2161.00" y1="1523.0" x2="2161.00" y2="1548.0"/>
</g>
<g font-family="Liberation Sans, Arial, sans-serif" fill="#000">
<g font-size="54" text-anchor="middle">
<text x="173.0" y="1608">900</text>
<text x="421.5" y="1608">1000</text>
<text x="670.0" y="1608">1100</text>
<text x="918.5" y="1608">1200</text>
<text x="1167.0" y="1608">1300</text>
<text x="1415.5" y="1608">1400</text>
<text x="1664.0" y="1608">1500</text>
<text x="1912.5" y="1608">1600</text>
<text x="2161.0" y="1608">1700</text>
</g>
<text x="857.5" y="1689.5" font-size="64" letter-spacing="0.85">Wavenumber (cm<tspan font-size="42" dy="-29" letter-spacing="2.5">−1</tspan><tspan dy="29">)</tspan></text>
<text transform="translate(78.5,1091) rotate(-90)" font-size="64" letter-spacing="0.55">Raman Intensity (a.u.)</text>
<rect x="208" y="98.9" width="124" height="7" rx="2" fill="#404040"/>
<text x="343" y="120.0" font-size="52.5" letter-spacing="0.5"><tspan font-weight="bold">L</tspan></text>
<rect x="208" y="164.8" width="124" height="7" rx="2" fill="#00a2ff"/>
<text x="343" y="185.9" font-size="52.5" letter-spacing="0.5">[Zn(<tspan font-weight="bold">L</tspan>)Cl<tspan font-size="34" dy="16">2</tspan><tspan dy="-16">]</tspan></text>
<rect x="208" y="243.6" width="124" height="7" rx="2" fill="#0000ff"/>
<text x="343" y="264.7" font-size="52.5" letter-spacing="0.5">[Zn(<tspan font-weight="bold">L</tspan>)(NO<tspan font-size="34" dy="16">3</tspan><tspan dy="-16">)</tspan><tspan font-size="34" dy="16">2</tspan><tspan dy="-16">]</tspan></text>
<rect x="208" y="322.2" width="124" height="7" rx="2" fill="#ff0000"/>
<text x="343" y="343.3" font-size="52.5" letter-spacing="0.5">[Zn(<tspan font-weight="bold">L</tspan>)<tspan font-size="34" dy="16">3</tspan><tspan dy="-16">][Zn(SCN)</tspan><tspan font-size="34" dy="16">4</tspan><tspan dy="-16">]</tspan></text>
</g>
</svg>
</body></html>
